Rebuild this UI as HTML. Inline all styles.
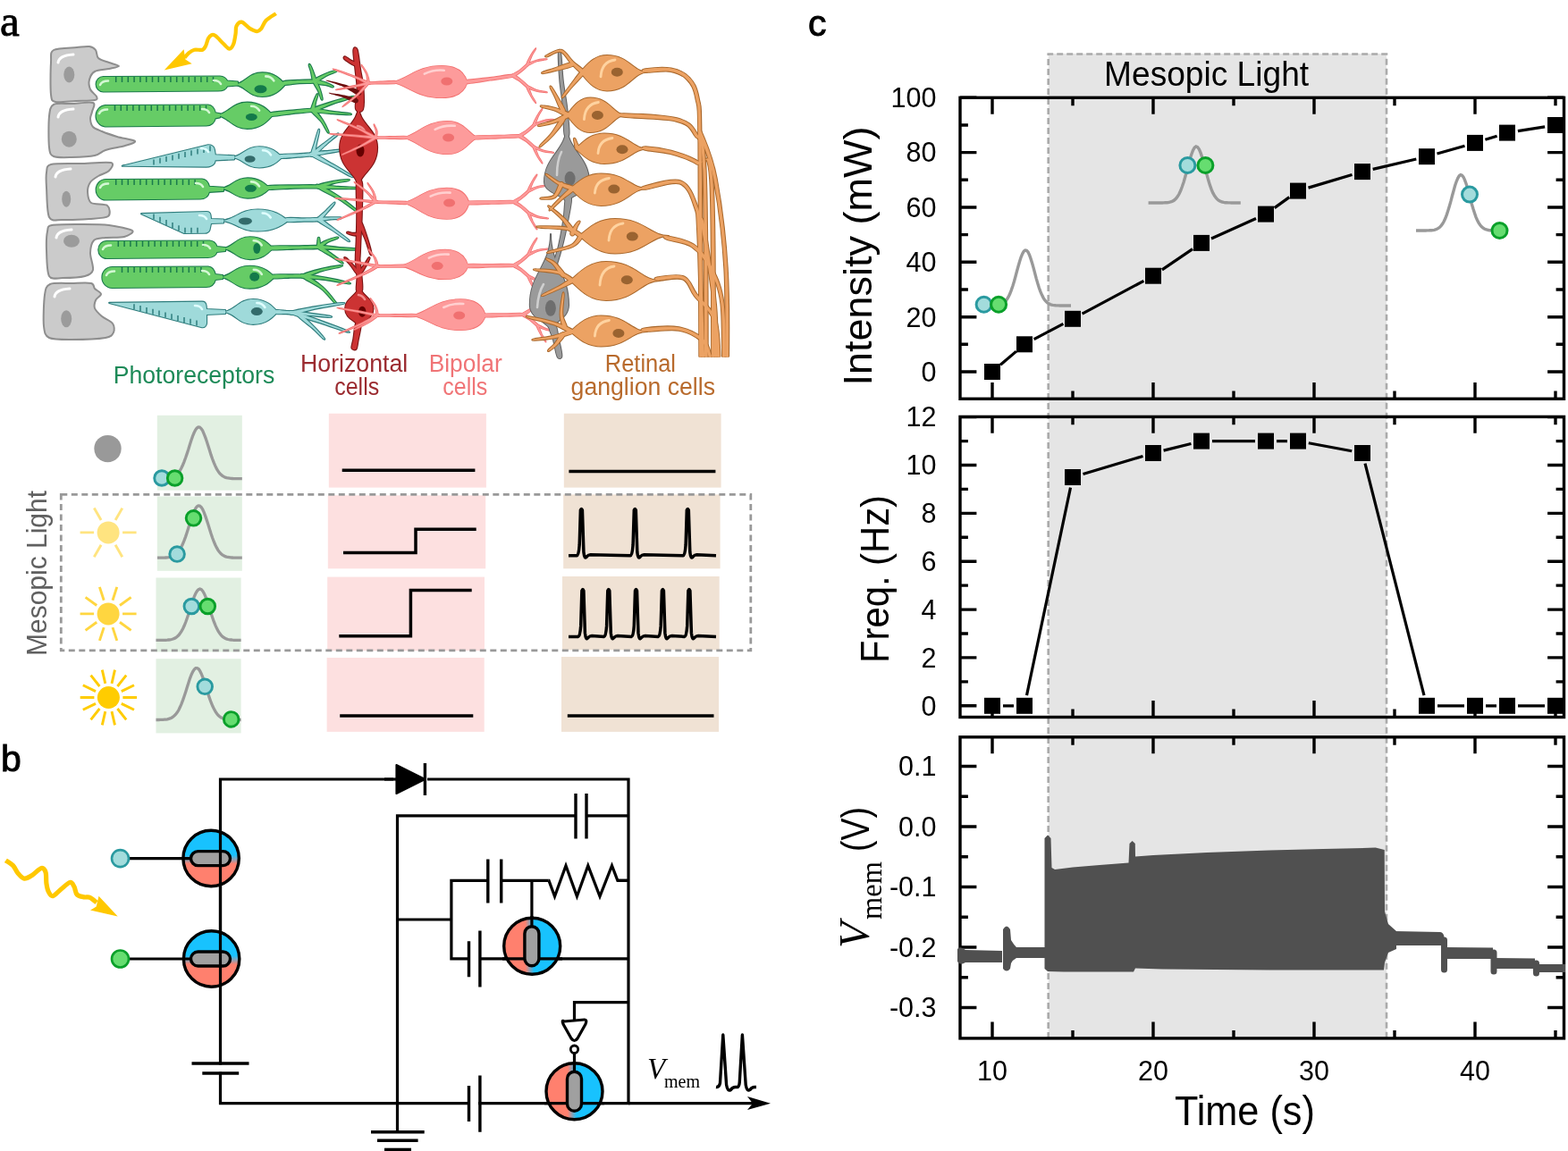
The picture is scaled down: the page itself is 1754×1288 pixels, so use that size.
<!DOCTYPE html>
<html><head><meta charset="utf-8"><title>Figure</title>
<style>html,body{margin:0;padding:0;background:#fff;}svg{display:block;}</style></head>
<body><svg width="1754" height="1288" viewBox="0 0 1754 1288">
<rect width="1754" height="1288" fill="#fff"/>
<path d="M60.0 56.0 C64.3 53.5 80.0 53.6 86.0 53.0 C92.0 52.4 96.8 51.5 100.0 52.0 C103.2 52.5 105.5 54.0 107.0 56.0 C108.5 58.0 107.8 62.9 110.0 65.0 C112.2 67.1 118.5 68.7 122.0 70.0 C125.5 71.3 133.0 73.0 133.0 74.0 C133.0 75.0 126.0 76.1 122.0 77.0 C118.0 77.9 109.3 78.2 106.0 80.0 C102.7 81.8 100.8 86.0 100.0 89.0 C99.2 92.0 99.8 97.2 101.0 100.0 C102.2 102.8 107.2 106.2 108.0 108.0 C108.8 109.8 109.5 111.2 106.0 112.0 C102.5 112.8 91.6 112.7 85.0 113.0 C78.4 113.3 66.2 115.0 62.0 114.0 C57.8 113.0 57.8 112.6 57.0 106.0 C56.2 99.4 56.5 77.5 57.0 70.0 C57.5 62.5 55.6 58.5 60.0 56.0 Z" fill="#cbcbcb" stroke="#8e8e8e" stroke-width="2"/>
<ellipse cx="77.3" cy="83.5" rx="6" ry="9" fill="#9b9b9b"/>
<path d="M65 70 Q66 62 82 61" stroke="#fff" stroke-width="3" fill="none" stroke-linecap="round"/>
<path d="M60.0 117.0 C63.8 114.9 73.4 116.3 80.0 116.0 C86.6 115.7 100.5 113.7 104.0 115.0 C107.5 116.3 103.5 122.3 103.0 125.0 C102.5 127.7 100.8 130.4 101.0 133.0 C101.2 135.6 102.0 139.9 104.0 142.0 C106.0 144.1 110.0 145.3 114.0 147.0 C118.0 148.7 125.5 151.3 131.0 153.0 C136.6 154.7 149.7 156.5 151.0 158.0 C152.3 159.5 144.9 161.5 140.0 163.0 C135.1 164.5 123.1 166.3 118.0 168.0 C112.9 169.7 111.7 172.8 106.0 174.0 C100.3 175.2 86.9 175.8 80.0 176.0 C73.1 176.2 63.8 176.7 60.0 175.0 C56.2 173.3 55.8 171.8 55.0 165.0 C54.2 158.2 54.2 137.2 55.0 130.0 C55.8 122.8 56.2 119.1 60.0 117.0 Z" fill="#cbcbcb" stroke="#8e8e8e" stroke-width="2"/>
<ellipse cx="77.3" cy="155.7" rx="8.5" ry="9" fill="#9b9b9b"/>
<path d="M65 131 Q66 123 82 122" stroke="#fff" stroke-width="3" fill="none" stroke-linecap="round"/>
<path d="M57.0 184.0 C62.7 182.5 80.0 183.3 90.0 183.0 C100.0 182.7 119.2 180.8 124.0 182.0 C128.8 183.2 124.1 188.8 122.0 191.0 C119.9 193.2 113.2 195.1 110.0 197.0 C106.8 198.9 102.8 201.3 101.0 204.0 C99.2 206.7 97.8 211.6 98.0 215.0 C98.2 218.4 98.7 224.8 102.0 227.0 C105.3 229.2 117.2 227.8 120.0 230.0 C122.8 232.2 124.0 239.8 121.0 242.0 C118.0 244.2 107.7 244.4 100.0 245.0 C92.3 245.6 76.8 246.3 70.0 246.0 C63.2 245.7 57.7 248.4 55.0 243.0 C52.3 237.6 52.5 217.5 52.0 210.0 C51.5 202.5 51.2 196.9 52.0 193.0 C52.8 189.1 51.3 185.5 57.0 184.0 Z" fill="#cbcbcb" stroke="#8e8e8e" stroke-width="2"/>
<ellipse cx="74.2" cy="222.7" rx="5" ry="9" fill="#9b9b9b"/>
<path d="M62 198 Q63 190 79 189" stroke="#fff" stroke-width="3" fill="none" stroke-linecap="round"/>
<path d="M58.0 252.0 C63.5 250.8 80.4 251.0 90.0 251.0 C99.6 251.0 113.3 250.9 122.0 252.0 C130.7 253.1 145.4 256.1 148.0 258.0 C150.6 259.9 143.5 263.8 139.0 265.0 C134.5 266.2 123.1 265.4 118.0 266.0 C112.9 266.6 107.5 266.4 105.0 269.0 C102.5 271.6 101.2 278.1 101.0 283.0 C100.8 287.9 104.9 298.1 104.0 302.0 C103.1 305.9 100.1 307.6 95.0 309.0 C89.9 310.4 76.0 311.0 70.0 311.0 C64.0 311.0 57.7 313.6 55.0 309.0 C52.3 304.4 52.3 287.5 52.0 280.0 C51.7 272.5 52.1 263.2 53.0 259.0 C53.9 254.8 52.5 253.2 58.0 252.0 Z" fill="#cbcbcb" stroke="#8e8e8e" stroke-width="2"/>
<ellipse cx="80" cy="269.7" rx="9" ry="7" fill="#9b9b9b"/>
<path d="M63 266 Q64 258 80 257" stroke="#fff" stroke-width="3" fill="none" stroke-linecap="round"/>
<path d="M56.0 318.0 C60.5 316.1 73.1 317.1 80.0 317.0 C86.9 316.9 98.1 316.1 102.0 317.0 C105.9 317.9 104.3 321.2 106.0 323.0 C107.7 324.8 112.8 327.1 113.0 329.0 C113.2 330.9 108.0 333.6 107.0 336.0 C106.0 338.4 105.0 342.3 106.0 345.0 C107.0 347.7 111.0 351.4 114.0 354.0 C117.0 356.6 124.0 359.3 126.0 362.0 C128.0 364.7 128.2 369.6 127.0 372.0 C125.8 374.4 125.0 376.8 118.0 378.0 C111.0 379.2 89.5 380.0 80.0 380.0 C70.5 380.0 59.6 380.2 55.0 378.0 C50.4 375.8 49.8 372.2 49.0 365.0 C48.2 357.8 49.0 337.1 50.0 330.0 C51.0 322.9 51.5 319.9 56.0 318.0 Z" fill="#cbcbcb" stroke="#8e8e8e" stroke-width="2"/>
<ellipse cx="74.2" cy="356.8" rx="6" ry="9.5" fill="#9b9b9b"/>
<path d="M61 332 Q62 324 78 323" stroke="#fff" stroke-width="3" fill="none" stroke-linecap="round"/>
<g fill="#1a7a4c" stroke="#1a7a4c" stroke-width="2.2" stroke-linejoin="round"><path d="M115.5 86.0 L246.0 85.5 Q252.0 86.0 254.0 90.5 L266.0 91.5 L266.0 95.5 L254.0 96.5 Q252.0 101.5 244.0 101.5 L115.5 102.5 A7.8 8.2 0 0 1 115.5 86.0 Z"/><path d="M262.0 94.6 C274.7 93.4 277.7 81.4 293.4 81.4 C307.5 81.4 314.1 89.3 319.0 94.6 C314.1 100.0 307.5 107.9 293.4 107.9 C277.7 107.9 274.7 95.8 262.0 94.6 Z"/><path d="M318.2 94.9 C321.0 95.2 329.3 93.6 335.1 93.1 C340.9 92.7 350.1 93.0 353.0 92.4 C356.0 91.8 356.0 90.0 353.0 89.6 C349.9 89.2 340.8 89.6 334.9 89.9 C329.1 90.1 320.6 90.3 317.8 91.1 C315.0 91.9 315.3 94.6 318.2 94.9 Z"/><path d="M353.6 90.6 C353.6 88.6 351.2 82.7 350.1 79.7 C349.0 76.7 347.6 73.7 346.9 72.6 C346.1 71.5 345.6 71.7 345.7 73.0 C345.9 74.3 347.1 77.3 347.9 80.3 C348.7 83.4 349.4 89.7 350.4 91.4 C351.3 93.1 353.7 92.5 353.6 90.6 Z"/><path d="M352.9 92.5 C355.1 91.7 360.7 87.1 364.5 85.0 C368.3 83.0 373.8 81.2 375.6 80.3 C377.4 79.3 377.2 78.7 375.2 79.1 C373.2 79.6 367.5 81.2 363.5 83.0 C359.5 84.7 352.9 87.9 351.1 89.5 C349.4 91.1 350.6 93.2 352.9 92.5 Z"/><path d="M350.5 91.8 C350.9 93.6 354.4 98.3 355.9 101.4 C357.4 104.6 358.7 109.2 359.4 110.7 C360.2 112.2 360.8 112.0 360.6 110.3 C360.3 108.6 359.2 103.9 358.1 100.6 C356.9 97.2 354.8 91.7 353.5 90.2 C352.3 88.8 350.1 89.9 350.5 91.8 Z"/><path d="M355.6 93.7 C357.0 94.5 362.0 94.5 364.7 95.1 C367.4 95.7 370.5 97.2 371.8 97.4 C373.0 97.5 373.3 97.0 372.2 96.2 C371.1 95.5 368.0 93.9 365.3 92.9 C362.7 91.9 358.0 90.2 356.4 90.3 C354.8 90.5 354.2 92.9 355.6 93.7 Z"/></g><g fill="#66cc66"><path d="M115.5 86.0 L246.0 85.5 Q252.0 86.0 254.0 90.5 L266.0 91.5 L266.0 95.5 L254.0 96.5 Q252.0 101.5 244.0 101.5 L115.5 102.5 A7.8 8.2 0 0 1 115.5 86.0 Z"/><path d="M262.0 94.6 C274.7 93.4 277.7 81.4 293.4 81.4 C307.5 81.4 314.1 89.3 319.0 94.6 C314.1 100.0 307.5 107.9 293.4 107.9 C277.7 107.9 274.7 95.8 262.0 94.6 Z"/><path d="M318.2 94.9 C321.0 95.2 329.3 93.6 335.1 93.1 C340.9 92.7 350.1 93.0 353.0 92.4 C356.0 91.8 356.0 90.0 353.0 89.6 C349.9 89.2 340.8 89.6 334.9 89.9 C329.1 90.1 320.6 90.3 317.8 91.1 C315.0 91.9 315.3 94.6 318.2 94.9 Z"/><path d="M353.6 90.6 C353.6 88.6 351.2 82.7 350.1 79.7 C349.0 76.7 347.6 73.7 346.9 72.6 C346.1 71.5 345.6 71.7 345.7 73.0 C345.9 74.3 347.1 77.3 347.9 80.3 C348.7 83.4 349.4 89.7 350.4 91.4 C351.3 93.1 353.7 92.5 353.6 90.6 Z"/><path d="M352.9 92.5 C355.1 91.7 360.7 87.1 364.5 85.0 C368.3 83.0 373.8 81.2 375.6 80.3 C377.4 79.3 377.2 78.7 375.2 79.1 C373.2 79.6 367.5 81.2 363.5 83.0 C359.5 84.7 352.9 87.9 351.1 89.5 C349.4 91.1 350.6 93.2 352.9 92.5 Z"/><path d="M350.5 91.8 C350.9 93.6 354.4 98.3 355.9 101.4 C357.4 104.6 358.7 109.2 359.4 110.7 C360.2 112.2 360.8 112.0 360.6 110.3 C360.3 108.6 359.2 103.9 358.1 100.6 C356.9 97.2 354.8 91.7 353.5 90.2 C352.3 88.8 350.1 89.9 350.5 91.8 Z"/><path d="M355.6 93.7 C357.0 94.5 362.0 94.5 364.7 95.1 C367.4 95.7 370.5 97.2 371.8 97.4 C373.0 97.5 373.3 97.0 372.2 96.2 C371.1 95.5 368.0 93.9 365.3 92.9 C362.7 91.9 358.0 90.2 356.4 90.3 C354.8 90.5 354.2 92.9 355.6 93.7 Z"/></g><path d="M129.7 86.0 v6 M136.5 86.0 v6 M143.3 86.0 v6 M150.1 86.0 v6 M156.9 86.0 v6 M163.7 86.0 v6 M170.5 86.0 v6 M177.3 86.0 v6 M184.1 86.0 v6 M190.9 86.0 v6 M197.7 86.0 v6 M204.5 86.0 v6 M211.3 86.0 v6 M218.1 86.0 v6 M224.9 86.0 v6 M231.7 86.0 v6 M238.5 86.0 v6" stroke="#1a7a4c" stroke-width="1.5"/><ellipse cx="291.5" cy="99.7" rx="7" ry="4.5" fill="#137a4a"/><path d="M112.0 95.0 q2 -4.5 9 -4.5 M239.0 90.0 q6 0 8 4" stroke="#d4f8d4" stroke-width="2.6" fill="none" stroke-linecap="round"/><path d="M297.3 85.4 q6 0 9 5" stroke="#d4f8d4" stroke-width="2.6" fill="none" stroke-linecap="round"/>
<g fill="#1a7a4c" stroke="#1a7a4c" stroke-width="2.2" stroke-linejoin="round"><path d="M117.7 118.1 L232.8 117.6 Q238.8 118.1 240.8 126.3 L246.0 127.3 L246.0 131.3 L240.8 132.3 Q238.8 140.4 230.8 140.4 L117.7 141.4 A11.2 11.7 0 0 1 117.7 118.1 Z"/><path d="M242.0 129.0 C256.0 127.7 259.3 114.7 276.6 114.7 C292.2 114.7 299.5 123.2 305.0 129.0 C299.5 135.0 292.2 143.8 276.6 143.8 C259.3 143.8 256.0 130.3 242.0 129.0 Z"/><path d="M304.2 129.9 C308.6 130.0 322.6 127.5 330.2 126.6 C337.8 125.8 346.6 125.5 349.8 124.7 C353.1 123.9 352.9 122.1 349.6 121.9 C346.2 121.7 337.5 122.7 329.8 123.4 C322.2 124.1 308.1 125.0 303.8 126.1 C299.5 127.2 299.8 129.8 304.2 129.9 Z"/><path d="M351.4 123.7 C352.2 122.3 352.4 117.2 353.1 114.3 C353.8 111.4 355.2 107.8 355.4 106.4 C355.6 105.0 355.0 104.8 354.2 106.0 C353.5 107.2 351.9 110.9 350.9 113.7 C349.9 116.5 348.0 121.2 348.0 122.9 C348.1 124.6 350.5 125.1 351.4 123.7 Z"/><path d="M350.3 124.9 C354.2 124.0 365.0 118.7 372.4 116.1 C379.7 113.5 390.6 110.6 394.2 109.3 C397.7 107.9 397.6 107.4 393.8 108.1 C390.1 108.9 379.1 111.6 371.6 113.9 C364.2 116.2 352.7 119.9 349.1 121.7 C345.5 123.5 346.4 125.8 350.3 124.9 Z"/><path d="M348.4 124.4 C349.8 126.7 356.1 131.8 359.1 135.7 C362.0 139.5 364.9 145.6 366.3 147.5 C367.7 149.4 368.2 149.1 367.3 146.9 C366.4 144.7 363.7 138.5 360.9 134.3 C358.2 130.2 353.1 123.8 351.0 122.2 C348.9 120.5 347.1 122.2 348.4 124.4 Z"/><path d="M349.5 125.0 C353.2 125.9 365.0 126.6 371.9 127.1 C378.7 127.7 387.5 128.2 390.6 128.2 C393.8 128.2 393.8 127.6 390.8 127.0 C387.7 126.4 378.9 125.8 372.1 124.9 C365.3 124.0 353.7 121.6 349.9 121.6 C346.1 121.6 345.8 124.1 349.5 125.0 Z"/></g><g fill="#66cc66"><path d="M117.7 118.1 L232.8 117.6 Q238.8 118.1 240.8 126.3 L246.0 127.3 L246.0 131.3 L240.8 132.3 Q238.8 140.4 230.8 140.4 L117.7 141.4 A11.2 11.7 0 0 1 117.7 118.1 Z"/><path d="M242.0 129.0 C256.0 127.7 259.3 114.7 276.6 114.7 C292.2 114.7 299.5 123.2 305.0 129.0 C299.5 135.0 292.2 143.8 276.6 143.8 C259.3 143.8 256.0 130.3 242.0 129.0 Z"/><path d="M304.2 129.9 C308.6 130.0 322.6 127.5 330.2 126.6 C337.8 125.8 346.6 125.5 349.8 124.7 C353.1 123.9 352.9 122.1 349.6 121.9 C346.2 121.7 337.5 122.7 329.8 123.4 C322.2 124.1 308.1 125.0 303.8 126.1 C299.5 127.2 299.8 129.8 304.2 129.9 Z"/><path d="M351.4 123.7 C352.2 122.3 352.4 117.2 353.1 114.3 C353.8 111.4 355.2 107.8 355.4 106.4 C355.6 105.0 355.0 104.8 354.2 106.0 C353.5 107.2 351.9 110.9 350.9 113.7 C349.9 116.5 348.0 121.2 348.0 122.9 C348.1 124.6 350.5 125.1 351.4 123.7 Z"/><path d="M350.3 124.9 C354.2 124.0 365.0 118.7 372.4 116.1 C379.7 113.5 390.6 110.6 394.2 109.3 C397.7 107.9 397.6 107.4 393.8 108.1 C390.1 108.9 379.1 111.6 371.6 113.9 C364.2 116.2 352.7 119.9 349.1 121.7 C345.5 123.5 346.4 125.8 350.3 124.9 Z"/><path d="M348.4 124.4 C349.8 126.7 356.1 131.8 359.1 135.7 C362.0 139.5 364.9 145.6 366.3 147.5 C367.7 149.4 368.2 149.1 367.3 146.9 C366.4 144.7 363.7 138.5 360.9 134.3 C358.2 130.2 353.1 123.8 351.0 122.2 C348.9 120.5 347.1 122.2 348.4 124.4 Z"/><path d="M349.5 125.0 C353.2 125.9 365.0 126.6 371.9 127.1 C378.7 127.7 387.5 128.2 390.6 128.2 C393.8 128.2 393.8 127.6 390.8 127.0 C387.7 126.4 378.9 125.8 372.1 124.9 C365.3 124.0 353.7 121.6 349.9 121.6 C346.1 121.6 345.8 124.1 349.5 125.0 Z"/></g><path d="M128.5 118.1 v6 M135.3 118.1 v6 M142.1 118.1 v6 M148.9 118.1 v6 M155.7 118.1 v6 M162.5 118.1 v6 M169.3 118.1 v6 M176.1 118.1 v6 M182.9 118.1 v6 M189.7 118.1 v6 M196.5 118.1 v6 M203.3 118.1 v6 M210.1 118.1 v6 M216.9 118.1 v6 M223.7 118.1 v6 M230.5 118.1 v6" stroke="#1a7a4c" stroke-width="1.5"/><ellipse cx="281.3" cy="131" rx="6.5" ry="4" fill="#137a4a"/><path d="M111.0 127.0 q2 -4.5 9 -4.5 M226.0 122.0 q6 0 8 4" stroke="#d4f8d4" stroke-width="2.6" fill="none" stroke-linecap="round"/><path d="M281.1 118.7 q6 0 9 5" stroke="#d4f8d4" stroke-width="2.6" fill="none" stroke-linecap="round"/>
<g fill="#2f7d7d" stroke="#2f7d7d" stroke-width="2.2" stroke-linejoin="round"><path d="M136.8 185.7 L232.8 162.3 Q238.8 162.3 239.8 167.3 L240.8 173.3 L262.0 174.3 L262.0 178.3 L240.8 179.3 L239.8 182.6 Q236.8 186.6 230.8 186.6 Z"/><path d="M259.0 176.0 C271.6 174.9 274.5 164.3 290.1 164.3 C304.1 164.3 310.6 171.3 315.5 176.0 C310.6 180.6 304.1 187.4 290.1 187.4 C274.5 187.4 271.6 177.0 259.0 176.0 Z"/><path d="M314.1 176.9 C317.3 177.3 327.1 176.1 333.1 175.6 C339.0 175.2 347.0 175.0 349.8 174.3 C352.5 173.6 352.4 171.8 349.6 171.5 C346.8 171.2 338.9 172.1 332.9 172.4 C327.0 172.6 317.0 172.3 313.9 173.1 C310.8 173.9 310.9 176.5 314.1 176.9 Z"/><path d="M351.3 173.3 C352.4 171.3 353.2 164.7 354.1 160.3 C355.1 155.8 356.8 148.9 357.1 146.5 C357.4 144.2 356.8 144.1 355.9 146.3 C355.1 148.4 353.2 155.3 351.9 159.7 C350.6 164.1 348.1 170.2 348.1 172.5 C348.0 174.7 350.3 175.4 351.3 173.3 Z"/><path d="M350.8 174.2 C353.6 172.4 361.3 164.7 365.7 160.9 C370.2 157.0 375.6 152.9 377.4 151.1 C379.2 149.3 378.8 148.8 376.6 150.1 C374.4 151.5 368.9 155.5 364.3 159.1 C359.6 162.7 350.9 169.1 348.6 171.6 C346.4 174.1 347.9 176.0 350.8 174.2 Z"/><path d="M348.9 174.4 C352.4 176.8 364.2 182.2 371.4 186.0 C378.7 189.8 388.6 195.6 392.2 197.3 C395.8 199.0 396.1 198.5 392.8 196.3 C389.5 194.1 379.6 188.1 372.6 184.0 C365.5 179.9 354.5 173.0 350.5 171.4 C346.6 169.8 345.4 172.0 348.9 174.4 Z"/><path d="M353.2 173.7 C355.8 173.8 363.3 172.0 368.2 171.1 C373.0 170.3 379.8 169.2 382.1 168.6 C384.4 168.0 384.3 167.4 381.9 167.4 C379.5 167.5 372.7 168.4 367.8 168.9 C363.0 169.3 355.2 169.5 352.8 170.3 C350.3 171.1 350.7 173.5 353.2 173.7 Z"/></g><g fill="#9fdada"><path d="M136.8 185.7 L232.8 162.3 Q238.8 162.3 239.8 167.3 L240.8 173.3 L262.0 174.3 L262.0 178.3 L240.8 179.3 L239.8 182.6 Q236.8 186.6 230.8 186.6 Z"/><path d="M259.0 176.0 C271.6 174.9 274.5 164.3 290.1 164.3 C304.1 164.3 310.6 171.3 315.5 176.0 C310.6 180.6 304.1 187.4 290.1 187.4 C274.5 187.4 271.6 177.0 259.0 176.0 Z"/><path d="M314.1 176.9 C317.3 177.3 327.1 176.1 333.1 175.6 C339.0 175.2 347.0 175.0 349.8 174.3 C352.5 173.6 352.4 171.8 349.6 171.5 C346.8 171.2 338.9 172.1 332.9 172.4 C327.0 172.6 317.0 172.3 313.9 173.1 C310.8 173.9 310.9 176.5 314.1 176.9 Z"/><path d="M351.3 173.3 C352.4 171.3 353.2 164.7 354.1 160.3 C355.1 155.8 356.8 148.9 357.1 146.5 C357.4 144.2 356.8 144.1 355.9 146.3 C355.1 148.4 353.2 155.3 351.9 159.7 C350.6 164.1 348.1 170.2 348.1 172.5 C348.0 174.7 350.3 175.4 351.3 173.3 Z"/><path d="M350.8 174.2 C353.6 172.4 361.3 164.7 365.7 160.9 C370.2 157.0 375.6 152.9 377.4 151.1 C379.2 149.3 378.8 148.8 376.6 150.1 C374.4 151.5 368.9 155.5 364.3 159.1 C359.6 162.7 350.9 169.1 348.6 171.6 C346.4 174.1 347.9 176.0 350.8 174.2 Z"/><path d="M348.9 174.4 C352.4 176.8 364.2 182.2 371.4 186.0 C378.7 189.8 388.6 195.6 392.2 197.3 C395.8 199.0 396.1 198.5 392.8 196.3 C389.5 194.1 379.6 188.1 372.6 184.0 C365.5 179.9 354.5 173.0 350.5 171.4 C346.6 169.8 345.4 172.0 348.9 174.4 Z"/><path d="M353.2 173.7 C355.8 173.8 363.3 172.0 368.2 171.1 C373.0 170.3 379.8 169.2 382.1 168.6 C384.4 168.0 384.3 167.4 381.9 167.4 C379.5 167.5 372.7 168.4 367.8 168.9 C363.0 169.3 355.2 169.5 352.8 170.3 C350.3 171.1 350.7 173.5 353.2 173.7 Z"/></g><path d="M172.0 178.5 v6 M179.0 176.8 v6 M186.0 175.1 v6 M193.0 173.4 v6 M200.0 171.7 v6 M207.0 170.0 v6 M214.0 168.3 v6 M221.0 166.6 v6 M228.0 164.9 v6 M235.0 163.2 v6" stroke="#2f7d7d" stroke-width="1.5"/><ellipse cx="279.6" cy="178" rx="6" ry="3.8" fill="#336b6b"/><path d="M225.0 166.0 q6 0 8 4" stroke="#e0ffff" stroke-width="2.6" fill="none" stroke-linecap="round"/><path d="M294.0 168.3 q6 0 9 5" stroke="#e0ffff" stroke-width="2.6" fill="none" stroke-linecap="round"/>
<g fill="#1a7a4c" stroke="#1a7a4c" stroke-width="2.2" stroke-linejoin="round"><path d="M118.4 201.1 L226.0 200.6 Q232.0 201.1 234.0 208.8 L250.0 209.8 L250.0 213.8 L234.0 214.8 Q232.0 222.5 224.0 222.5 L118.4 223.5 A10.7 11.2 0 0 1 118.4 201.1 Z"/><path d="M247.0 210.8 C259.2 209.8 262.1 199.4 277.1 199.4 C290.7 199.4 297.1 206.2 301.8 210.8 C297.1 215.2 290.7 221.6 277.1 221.6 C262.1 221.6 259.2 211.8 247.0 210.8 Z"/><path d="M300.1 211.9 C305.1 212.3 320.6 210.9 330.0 210.6 C339.4 210.4 352.1 210.7 356.5 210.2 C360.9 209.7 360.9 207.9 356.5 207.4 C352.1 206.9 339.4 207.2 330.0 207.4 C320.5 207.5 304.9 207.3 299.9 208.1 C295.0 208.9 295.0 211.5 300.1 211.9 Z"/><path d="M357.0 210.4 C359.8 210.1 367.9 206.5 373.2 205.1 C378.6 203.7 386.5 202.9 389.1 202.2 C391.7 201.5 391.6 200.9 388.9 201.0 C386.2 201.1 378.2 201.9 372.8 202.9 C367.3 203.9 358.7 205.9 356.0 207.2 C353.4 208.4 354.1 210.8 357.0 210.4 Z"/><path d="M355.7 210.3 C359.3 212.9 372.2 218.6 379.4 223.0 C386.6 227.4 395.6 234.6 398.9 236.7 C402.3 238.8 402.7 238.3 399.7 235.7 C396.6 233.1 387.7 225.8 380.6 221.0 C373.6 216.3 361.5 209.1 357.3 207.3 C353.2 205.5 352.0 207.7 355.7 210.3 Z"/><path d="M356.4 210.5 C360.0 211.2 371.1 211.0 378.0 211.1 C384.8 211.2 394.3 211.3 397.6 211.1 C400.9 210.9 400.9 210.3 397.6 209.9 C394.4 209.5 384.9 209.3 378.0 208.9 C371.2 208.4 360.2 206.8 356.6 207.1 C353.0 207.4 352.8 209.8 356.4 210.5 Z"/></g><g fill="#66cc66"><path d="M118.4 201.1 L226.0 200.6 Q232.0 201.1 234.0 208.8 L250.0 209.8 L250.0 213.8 L234.0 214.8 Q232.0 222.5 224.0 222.5 L118.4 223.5 A10.7 11.2 0 0 1 118.4 201.1 Z"/><path d="M247.0 210.8 C259.2 209.8 262.1 199.4 277.1 199.4 C290.7 199.4 297.1 206.2 301.8 210.8 C297.1 215.2 290.7 221.6 277.1 221.6 C262.1 221.6 259.2 211.8 247.0 210.8 Z"/><path d="M300.1 211.9 C305.1 212.3 320.6 210.9 330.0 210.6 C339.4 210.4 352.1 210.7 356.5 210.2 C360.9 209.7 360.9 207.9 356.5 207.4 C352.1 206.9 339.4 207.2 330.0 207.4 C320.5 207.5 304.9 207.3 299.9 208.1 C295.0 208.9 295.0 211.5 300.1 211.9 Z"/><path d="M357.0 210.4 C359.8 210.1 367.9 206.5 373.2 205.1 C378.6 203.7 386.5 202.9 389.1 202.2 C391.7 201.5 391.6 200.9 388.9 201.0 C386.2 201.1 378.2 201.9 372.8 202.9 C367.3 203.9 358.7 205.9 356.0 207.2 C353.4 208.4 354.1 210.8 357.0 210.4 Z"/><path d="M355.7 210.3 C359.3 212.9 372.2 218.6 379.4 223.0 C386.6 227.4 395.6 234.6 398.9 236.7 C402.3 238.8 402.7 238.3 399.7 235.7 C396.6 233.1 387.7 225.8 380.6 221.0 C373.6 216.3 361.5 209.1 357.3 207.3 C353.2 205.5 352.0 207.7 355.7 210.3 Z"/><path d="M356.4 210.5 C360.0 211.2 371.1 211.0 378.0 211.1 C384.8 211.2 394.3 211.3 397.6 211.1 C400.9 210.9 400.9 210.3 397.6 209.9 C394.4 209.5 384.9 209.3 378.0 208.9 C371.2 208.4 360.2 206.8 356.6 207.1 C353.0 207.4 352.8 209.8 356.4 210.5 Z"/></g><path d="M129.7 201.1 v6 M136.5 201.1 v6 M143.3 201.1 v6 M150.1 201.1 v6 M156.9 201.1 v6 M163.7 201.1 v6 M170.5 201.1 v6 M177.3 201.1 v6 M184.1 201.1 v6 M190.9 201.1 v6 M197.7 201.1 v6 M204.5 201.1 v6 M211.3 201.1 v6 M218.1 201.1 v6" stroke="#1a7a4c" stroke-width="1.5"/><ellipse cx="280.4" cy="210.8" rx="6.5" ry="4" fill="#137a4a"/><path d="M112.0 210.0 q2 -4.5 9 -4.5 M219.0 205.0 q6 0 8 4" stroke="#d4f8d4" stroke-width="2.6" fill="none" stroke-linecap="round"/><path d="M281.0 203.4 q6 0 9 5" stroke="#d4f8d4" stroke-width="2.6" fill="none" stroke-linecap="round"/>
<g fill="#2f7d7d" stroke="#2f7d7d" stroke-width="2.2" stroke-linejoin="round"><path d="M158.1 239.2 L231 237.1 Q235 237 235.5 241 L236 245 L250 245.5 L250 249.5 L236 250 L234.5 257 Q233 261 228 260.7 L206 261 Z"/><path d="M247.0 247.0 C263.8 245.9 267.7 234.5 288.4 234.5 C307.1 234.5 315.8 241.9 322.3 247.0 C315.8 251.7 307.1 258.5 288.4 258.5 C267.7 258.5 263.8 248.0 247.0 247.0 Z"/><path d="M321.0 247.9 C324.2 248.5 334.1 247.8 340.0 247.6 C345.9 247.5 353.8 247.7 356.5 247.1 C359.3 246.5 359.2 244.8 356.5 244.3 C353.7 243.8 345.9 244.4 340.0 244.4 C334.1 244.3 324.2 243.5 321.0 244.1 C317.8 244.7 317.8 247.3 321.0 247.9 Z"/><path d="M357.7 246.9 C359.6 245.6 364.1 239.9 366.8 236.8 C369.6 233.7 373.0 229.7 374.0 228.1 C375.1 226.5 374.6 226.1 373.2 227.3 C371.7 228.5 368.1 232.3 365.2 235.2 C362.2 238.1 356.5 242.6 355.3 244.5 C354.0 246.5 355.8 248.2 357.7 246.9 Z"/><path d="M356.7 247.4 C358.6 247.7 364.1 246.1 368.1 245.6 C372.1 245.2 378.5 245.0 380.5 244.6 C382.6 244.2 382.6 243.6 380.5 243.4 C378.4 243.2 371.9 243.3 367.9 243.4 C363.9 243.5 358.2 243.3 356.3 244.0 C354.4 244.7 354.7 247.1 356.7 247.4 Z"/><path d="M355.5 247.1 C358.0 249.4 366.8 254.3 372.3 257.9 C377.9 261.6 385.8 267.5 388.6 269.2 C391.5 270.9 391.9 270.4 389.4 268.2 C386.9 266.0 379.0 260.0 373.7 256.1 C368.3 252.1 360.5 245.8 357.5 244.3 C354.4 242.8 353.1 244.8 355.5 247.1 Z"/></g><g fill="#9fdada"><path d="M158.1 239.2 L231 237.1 Q235 237 235.5 241 L236 245 L250 245.5 L250 249.5 L236 250 L234.5 257 Q233 261 228 260.7 L206 261 Z"/><path d="M247.0 247.0 C263.8 245.9 267.7 234.5 288.4 234.5 C307.1 234.5 315.8 241.9 322.3 247.0 C315.8 251.7 307.1 258.5 288.4 258.5 C267.7 258.5 263.8 248.0 247.0 247.0 Z"/><path d="M321.0 247.9 C324.2 248.5 334.1 247.8 340.0 247.6 C345.9 247.5 353.8 247.7 356.5 247.1 C359.3 246.5 359.2 244.8 356.5 244.3 C353.7 243.8 345.9 244.4 340.0 244.4 C334.1 244.3 324.2 243.5 321.0 244.1 C317.8 244.7 317.8 247.3 321.0 247.9 Z"/><path d="M357.7 246.9 C359.6 245.6 364.1 239.9 366.8 236.8 C369.6 233.7 373.0 229.7 374.0 228.1 C375.1 226.5 374.6 226.1 373.2 227.3 C371.7 228.5 368.1 232.3 365.2 235.2 C362.2 238.1 356.5 242.6 355.3 244.5 C354.0 246.5 355.8 248.2 357.7 246.9 Z"/><path d="M356.7 247.4 C358.6 247.7 364.1 246.1 368.1 245.6 C372.1 245.2 378.5 245.0 380.5 244.6 C382.6 244.2 382.6 243.6 380.5 243.4 C378.4 243.2 371.9 243.3 367.9 243.4 C363.9 243.5 358.2 243.3 356.3 244.0 C354.4 244.7 354.7 247.1 356.7 247.4 Z"/><path d="M355.5 247.1 C358.0 249.4 366.8 254.3 372.3 257.9 C377.9 261.6 385.8 267.5 388.6 269.2 C391.5 270.9 391.9 270.4 389.4 268.2 C386.9 266.0 379.0 260.0 373.7 256.1 C368.3 252.1 360.5 245.8 357.5 244.3 C354.4 242.8 353.1 244.8 355.5 247.1 Z"/></g><path d="M172.0 239.5 v6 M179.0 242.7 v6 M186.0 245.9 v6 M193.0 249.1 v6 M200.0 252.3 v6 M207.0 254.8 v6 M214.0 254.8 v6 M221.0 254.8 v6" stroke="#2f7d7d" stroke-width="1.5"/><ellipse cx="274.4" cy="247.4" rx="7.5" ry="4" fill="#336b6b"/><path d="M223.0 241.0 q6 0 8 4" stroke="#e0ffff" stroke-width="2.6" fill="none" stroke-linecap="round"/><path d="M293.7 238.5 q6 0 9 5" stroke="#e0ffff" stroke-width="2.6" fill="none" stroke-linecap="round"/>
<g fill="#1a7a4c" stroke="#1a7a4c" stroke-width="2.2" stroke-linejoin="round"><path d="M119.3 270.0 L234.5 269.5 Q240.5 270.0 242.5 276.0 L252.0 277.0 L252.0 281.0 L242.5 282.0 Q240.5 288.0 232.5 288.0 L119.3 289.0 A9.0 9.5 0 0 1 119.3 270.0 Z"/><path d="M249.0 278.0 C261.5 276.9 264.4 265.3 279.8 265.3 C293.7 265.3 300.1 272.9 305.0 278.0 C300.1 282.9 293.7 290.1 279.8 290.1 C264.4 290.1 261.5 279.1 249.0 278.0 Z"/><path d="M304.0 279.4 C308.4 279.9 321.3 278.9 330.0 278.6 C338.8 278.4 352.1 278.4 356.5 277.8 C360.9 277.2 360.9 275.4 356.5 275.0 C352.0 274.6 338.7 275.3 330.0 275.4 C321.2 275.5 308.3 274.9 304.0 275.6 C299.6 276.3 299.7 278.9 304.0 279.4 Z"/><path d="M358.2 276.4 C358.7 275.3 357.8 271.7 357.6 270.0 C357.5 268.3 357.4 266.8 357.1 266.2 C356.8 265.6 356.2 265.6 355.9 266.2 C355.6 266.8 355.5 268.3 355.4 270.0 C355.2 271.7 354.3 275.3 354.8 276.4 C355.3 277.5 357.7 277.5 358.2 276.4 Z"/><path d="M357.4 277.8 C359.3 277.1 363.2 272.9 366.5 271.0 C369.8 269.2 375.5 267.7 377.2 266.8 C378.9 265.9 378.8 265.3 376.8 265.6 C374.9 266.0 369.0 267.4 365.5 269.0 C361.9 270.5 356.9 273.5 355.6 275.0 C354.2 276.5 355.6 278.5 357.4 277.8 Z"/><path d="M356.4 278.1 C359.9 278.8 370.8 278.9 377.9 279.1 C385.1 279.4 395.7 279.7 399.3 279.6 C402.8 279.5 402.9 278.9 399.3 278.4 C395.8 277.9 385.2 277.5 378.1 276.9 C371.0 276.2 360.2 274.5 356.6 274.7 C353.0 274.9 352.8 277.4 356.4 278.1 Z"/><path d="M355.6 277.8 C357.6 279.7 365.0 283.3 369.4 286.0 C373.7 288.7 379.7 292.8 381.9 294.0 C384.1 295.2 384.4 294.7 382.5 293.0 C380.7 291.3 374.8 287.0 370.6 284.0 C366.4 281.0 359.9 276.0 357.4 275.0 C354.9 273.9 353.6 276.0 355.6 277.8 Z"/></g><g fill="#66cc66"><path d="M119.3 270.0 L234.5 269.5 Q240.5 270.0 242.5 276.0 L252.0 277.0 L252.0 281.0 L242.5 282.0 Q240.5 288.0 232.5 288.0 L119.3 289.0 A9.0 9.5 0 0 1 119.3 270.0 Z"/><path d="M249.0 278.0 C261.5 276.9 264.4 265.3 279.8 265.3 C293.7 265.3 300.1 272.9 305.0 278.0 C300.1 282.9 293.7 290.1 279.8 290.1 C264.4 290.1 261.5 279.1 249.0 278.0 Z"/><path d="M304.0 279.4 C308.4 279.9 321.3 278.9 330.0 278.6 C338.8 278.4 352.1 278.4 356.5 277.8 C360.9 277.2 360.9 275.4 356.5 275.0 C352.0 274.6 338.7 275.3 330.0 275.4 C321.2 275.5 308.3 274.9 304.0 275.6 C299.6 276.3 299.7 278.9 304.0 279.4 Z"/><path d="M358.2 276.4 C358.7 275.3 357.8 271.7 357.6 270.0 C357.5 268.3 357.4 266.8 357.1 266.2 C356.8 265.6 356.2 265.6 355.9 266.2 C355.6 266.8 355.5 268.3 355.4 270.0 C355.2 271.7 354.3 275.3 354.8 276.4 C355.3 277.5 357.7 277.5 358.2 276.4 Z"/><path d="M357.4 277.8 C359.3 277.1 363.2 272.9 366.5 271.0 C369.8 269.2 375.5 267.7 377.2 266.8 C378.9 265.9 378.8 265.3 376.8 265.6 C374.9 266.0 369.0 267.4 365.5 269.0 C361.9 270.5 356.9 273.5 355.6 275.0 C354.2 276.5 355.6 278.5 357.4 277.8 Z"/><path d="M356.4 278.1 C359.9 278.8 370.8 278.9 377.9 279.1 C385.1 279.4 395.7 279.7 399.3 279.6 C402.8 279.5 402.9 278.9 399.3 278.4 C395.8 277.9 385.2 277.5 378.1 276.9 C371.0 276.2 360.2 274.5 356.6 274.7 C353.0 274.9 352.8 277.4 356.4 278.1 Z"/><path d="M355.6 277.8 C357.6 279.7 365.0 283.3 369.4 286.0 C373.7 288.7 379.7 292.8 381.9 294.0 C384.1 295.2 384.4 294.7 382.5 293.0 C380.7 291.3 374.8 287.0 370.6 284.0 C366.4 281.0 359.9 276.0 357.4 275.0 C354.9 273.9 353.6 276.0 355.6 277.8 Z"/></g><path d="M132.3 270.0 v6 M139.1 270.0 v6 M145.9 270.0 v6 M152.7 270.0 v6 M159.5 270.0 v6 M166.3 270.0 v6 M173.1 270.0 v6 M179.9 270.0 v6 M186.7 270.0 v6 M193.5 270.0 v6 M200.3 270.0 v6 M207.1 270.0 v6 M213.9 270.0 v6 M220.7 270.0 v6 M227.5 270.0 v6" stroke="#1a7a4c" stroke-width="1.5"/><ellipse cx="287.3" cy="278.1" rx="4" ry="6" fill="#137a4a"/><path d="M115.0 279.0 q2 -4.5 9 -4.5 M227.0 274.0 q6 0 8 4" stroke="#d4f8d4" stroke-width="2.6" fill="none" stroke-linecap="round"/><path d="M283.7 269.3 q6 0 9 5" stroke="#d4f8d4" stroke-width="2.6" fill="none" stroke-linecap="round"/>
<g fill="#1a7a4c" stroke="#1a7a4c" stroke-width="2.2" stroke-linejoin="round"><path d="M125.4 299.0 L232.8 298.5 Q238.8 299.0 240.8 307.0 L249.0 308.0 L249.0 312.0 L240.8 313.0 Q238.8 320.9 230.8 320.9 L125.4 321.9 A10.9 11.4 0 0 1 125.4 299.0 Z"/><path d="M246.0 310.0 C259.6 308.9 262.8 297.8 279.6 297.8 C294.6 297.8 301.7 305.1 307.0 310.0 C301.7 315.1 294.6 322.6 279.6 322.6 C262.8 322.6 259.6 311.1 246.0 310.0 Z"/><path d="M306.0 311.4 C309.2 311.9 319.5 310.8 325.0 310.6 C330.6 310.5 337.0 310.8 339.4 310.3 C341.8 309.8 341.8 308.0 339.4 307.5 C337.0 307.0 330.5 307.3 325.0 307.4 C319.4 307.4 309.1 306.9 306.0 307.6 C302.8 308.3 302.9 310.9 306.0 311.4 Z"/><path d="M339.9 310.5 C343.5 309.8 353.5 305.1 360.3 303.1 C367.1 301.1 377.3 299.4 380.6 298.4 C384.0 297.4 383.9 296.8 380.4 297.2 C376.9 297.6 366.6 299.2 359.7 300.9 C352.8 302.6 342.2 305.7 338.9 307.3 C335.6 308.9 336.4 311.2 339.9 310.5 Z"/><path d="M339.2 310.6 C343.4 311.6 356.5 312.0 364.8 313.1 C373.1 314.2 384.8 316.7 388.9 317.2 C392.9 317.7 393.1 317.1 389.1 316.0 C385.2 315.0 373.4 312.3 365.2 310.9 C356.9 309.4 343.9 307.3 339.6 307.2 C335.3 307.2 335.0 309.6 339.2 310.6 Z"/><path d="M338.5 310.3 C341.6 312.9 353.2 318.1 359.3 322.9 C365.3 327.7 372.2 336.7 375.0 339.3 C377.7 341.9 378.2 341.5 375.8 338.5 C373.5 335.5 366.7 326.3 360.7 321.1 C354.8 315.9 344.0 309.3 340.3 307.5 C336.6 305.7 335.3 307.8 338.5 310.3 Z"/></g><g fill="#66cc66"><path d="M125.4 299.0 L232.8 298.5 Q238.8 299.0 240.8 307.0 L249.0 308.0 L249.0 312.0 L240.8 313.0 Q238.8 320.9 230.8 320.9 L125.4 321.9 A10.9 11.4 0 0 1 125.4 299.0 Z"/><path d="M246.0 310.0 C259.6 308.9 262.8 297.8 279.6 297.8 C294.6 297.8 301.7 305.1 307.0 310.0 C301.7 315.1 294.6 322.6 279.6 322.6 C262.8 322.6 259.6 311.1 246.0 310.0 Z"/><path d="M306.0 311.4 C309.2 311.9 319.5 310.8 325.0 310.6 C330.6 310.5 337.0 310.8 339.4 310.3 C341.8 309.8 341.8 308.0 339.4 307.5 C337.0 307.0 330.5 307.3 325.0 307.4 C319.4 307.4 309.1 306.9 306.0 307.6 C302.8 308.3 302.9 310.9 306.0 311.4 Z"/><path d="M339.9 310.5 C343.5 309.8 353.5 305.1 360.3 303.1 C367.1 301.1 377.3 299.4 380.6 298.4 C384.0 297.4 383.9 296.8 380.4 297.2 C376.9 297.6 366.6 299.2 359.7 300.9 C352.8 302.6 342.2 305.7 338.9 307.3 C335.6 308.9 336.4 311.2 339.9 310.5 Z"/><path d="M339.2 310.6 C343.4 311.6 356.5 312.0 364.8 313.1 C373.1 314.2 384.8 316.7 388.9 317.2 C392.9 317.7 393.1 317.1 389.1 316.0 C385.2 315.0 373.4 312.3 365.2 310.9 C356.9 309.4 343.9 307.3 339.6 307.2 C335.3 307.2 335.0 309.6 339.2 310.6 Z"/><path d="M338.5 310.3 C341.6 312.9 353.2 318.1 359.3 322.9 C365.3 327.7 372.2 336.7 375.0 339.3 C377.7 341.9 378.2 341.5 375.8 338.5 C373.5 335.5 366.7 326.3 360.7 321.1 C354.8 315.9 344.0 309.3 340.3 307.5 C336.6 305.7 335.3 307.8 338.5 310.3 Z"/></g><path d="M136.5 299.0 v6 M143.3 299.0 v6 M150.1 299.0 v6 M156.9 299.0 v6 M163.7 299.0 v6 M170.5 299.0 v6 M177.3 299.0 v6 M184.1 299.0 v6 M190.9 299.0 v6 M197.7 299.0 v6 M204.5 299.0 v6 M211.3 299.0 v6 M218.1 299.0 v6 M224.9 299.0 v6" stroke="#1a7a4c" stroke-width="1.5"/><ellipse cx="284.7" cy="309.8" rx="5.5" ry="5" fill="#137a4a"/><path d="M119.0 308.0 q2 -4.5 9 -4.5 M226.0 303.0 q6 0 8 4" stroke="#d4f8d4" stroke-width="2.6" fill="none" stroke-linecap="round"/><path d="M283.8 301.8 q6 0 9 5" stroke="#d4f8d4" stroke-width="2.6" fill="none" stroke-linecap="round"/>
<g fill="#2f7d7d" stroke="#2f7d7d" stroke-width="2.2" stroke-linejoin="round"><path d="M122.2 338.9 L226 337.7 Q230 337.7 230.5 342 L231 346 L252 347 L252 351 L231 352 L231 362 Q230 366.5 226 366.2 Z"/><path d="M250.0 349.0 C263.5 347.7 266.6 335.0 283.2 335.0 C298.2 335.0 305.2 343.3 310.4 349.0 C305.2 354.6 298.2 362.8 283.2 362.8 C266.6 362.8 263.5 350.2 250.0 349.0 Z"/><path d="M308.9 350.9 C310.7 351.6 316.8 351.1 319.9 351.1 C323.0 351.2 326.1 351.8 327.4 351.4 C328.7 351.0 328.8 349.2 327.6 348.6 C326.4 348.0 323.2 348.1 320.1 347.9 C317.0 347.6 310.9 346.6 309.1 347.1 C307.2 347.6 307.1 350.2 308.9 350.9 Z"/><path d="M327.9 351.7 C332.5 351.1 346.1 347.0 355.2 345.1 C364.3 343.2 377.8 341.3 382.3 340.3 C386.8 339.3 386.7 338.7 382.1 339.1 C377.5 339.5 363.9 341.3 354.8 342.9 C345.6 344.4 331.6 346.9 327.1 348.3 C322.7 349.8 323.2 352.2 327.9 351.7 Z"/><path d="M327.3 351.7 C330.7 352.5 341.0 352.6 347.9 353.1 C354.7 353.7 365.0 354.8 368.4 354.9 C371.9 355.0 372.0 354.4 368.6 353.7 C365.2 353.0 354.9 351.8 348.1 350.9 C341.3 350.0 331.1 348.2 327.7 348.3 C324.2 348.4 324.0 350.9 327.3 351.7 Z"/><path d="M327.0 351.6 C331.9 353.7 347.6 357.8 357.6 361.1 C367.6 364.3 382.1 369.6 387.1 371.1 C392.1 372.5 392.3 372.0 387.5 369.9 C382.7 367.9 368.3 362.5 358.4 358.9 C348.5 355.3 333.3 349.6 328.0 348.4 C322.8 347.2 322.0 349.5 327.0 351.6 Z"/><path d="M333.9 354.3 C336.1 356.8 344.6 362.8 349.2 366.8 C353.8 370.9 359.1 376.8 361.3 378.6 C363.4 380.4 363.9 380.0 362.1 377.8 C360.4 375.5 355.1 369.5 350.8 365.2 C346.5 360.8 338.9 353.5 336.1 351.7 C333.3 349.9 331.7 351.8 333.9 354.3 Z"/></g><g fill="#9fdada"><path d="M122.2 338.9 L226 337.7 Q230 337.7 230.5 342 L231 346 L252 347 L252 351 L231 352 L231 362 Q230 366.5 226 366.2 Z"/><path d="M250.0 349.0 C263.5 347.7 266.6 335.0 283.2 335.0 C298.2 335.0 305.2 343.3 310.4 349.0 C305.2 354.6 298.2 362.8 283.2 362.8 C266.6 362.8 263.5 350.2 250.0 349.0 Z"/><path d="M308.9 350.9 C310.7 351.6 316.8 351.1 319.9 351.1 C323.0 351.2 326.1 351.8 327.4 351.4 C328.7 351.0 328.8 349.2 327.6 348.6 C326.4 348.0 323.2 348.1 320.1 347.9 C317.0 347.6 310.9 346.6 309.1 347.1 C307.2 347.6 307.1 350.2 308.9 350.9 Z"/><path d="M327.9 351.7 C332.5 351.1 346.1 347.0 355.2 345.1 C364.3 343.2 377.8 341.3 382.3 340.3 C386.8 339.3 386.7 338.7 382.1 339.1 C377.5 339.5 363.9 341.3 354.8 342.9 C345.6 344.4 331.6 346.9 327.1 348.3 C322.7 349.8 323.2 352.2 327.9 351.7 Z"/><path d="M327.3 351.7 C330.7 352.5 341.0 352.6 347.9 353.1 C354.7 353.7 365.0 354.8 368.4 354.9 C371.9 355.0 372.0 354.4 368.6 353.7 C365.2 353.0 354.9 351.8 348.1 350.9 C341.3 350.0 331.1 348.2 327.7 348.3 C324.2 348.4 324.0 350.9 327.3 351.7 Z"/><path d="M327.0 351.6 C331.9 353.7 347.6 357.8 357.6 361.1 C367.6 364.3 382.1 369.6 387.1 371.1 C392.1 372.5 392.3 372.0 387.5 369.9 C382.7 367.9 368.3 362.5 358.4 358.9 C348.5 355.3 333.3 349.6 328.0 348.4 C322.8 347.2 322.0 349.5 327.0 351.6 Z"/><path d="M333.9 354.3 C336.1 356.8 344.6 362.8 349.2 366.8 C353.8 370.9 359.1 376.8 361.3 378.6 C363.4 380.4 363.9 380.0 362.1 377.8 C360.4 375.5 355.1 369.5 350.8 365.2 C346.5 360.8 338.9 353.5 336.1 351.7 C333.3 349.9 331.7 351.8 333.9 354.3 Z"/></g><path d="M150.0 340.2 v6 M157.0 342.1 v6 M164.0 343.9 v6 M171.0 345.7 v6 M178.0 347.6 v6 M185.0 349.4 v6 M192.0 351.3 v6 M199.0 353.1 v6 M206.0 354.9 v6 M213.0 356.8 v6 M220.0 358.6 v6" stroke="#2f7d7d" stroke-width="1.5"/><ellipse cx="287.3" cy="348.6" rx="6.5" ry="4.5" fill="#336b6b"/><path d="M218.0 342.0 q6 0 8 4" stroke="#e0ffff" stroke-width="2.6" fill="none" stroke-linecap="round"/><path d="M287.4 339.0 q6 0 9 5" stroke="#e0ffff" stroke-width="2.6" fill="none" stroke-linecap="round"/>
<g fill="#7a1414" stroke="#7a1414" stroke-width="2.2" stroke-linejoin="round"><path d="M395.4 56.3 C395.1 60.0 396.9 71.2 397.6 78.3 C398.3 85.5 399.6 91.9 399.6 99.1 C399.7 106.4 396.9 118.0 398.0 121.8 C399.1 125.7 404.6 126.0 406.0 122.2 C407.4 118.3 406.9 106.3 406.4 98.9 C405.9 91.4 404.1 84.8 403.0 77.7 C401.9 70.5 400.8 59.3 399.6 55.7 C398.3 52.2 395.7 52.5 395.4 56.3 Z"/><path d="M399.3 70.4 C398.4 69.4 394.9 68.8 392.8 67.7 C390.6 66.6 387.6 63.9 386.3 63.5 C385.0 63.1 384.1 64.4 384.9 65.5 C385.7 66.6 389.1 68.9 391.2 70.3 C393.4 71.7 396.4 73.6 397.7 73.6 C399.1 73.6 400.1 71.4 399.3 70.4 Z"/><path d="M401.0 118.0 C401.0 139.2 422.0 143.8 422.0 165.0 C422.0 190.8 401.0 193.2 401.0 212.0 C401.0 193.2 380.2 190.8 380.2 165.0 C380.2 143.8 401.0 139.2 401.0 118.0 Z"/><path d="M399.0 205.0 C398.1 210.8 399.4 229.1 399.3 240.0 C399.3 250.8 398.9 261.3 398.7 269.9 C398.4 278.6 397.4 288.2 398.0 291.9 C398.6 295.6 401.1 295.7 402.0 292.1 C402.9 288.5 402.9 278.8 403.3 270.1 C403.8 261.4 404.4 250.9 404.7 240.0 C404.9 229.2 405.9 210.8 405.0 205.0 C404.1 199.2 399.9 199.2 399.0 205.0 Z"/><path d="M402.0 260.5 C400.9 260.1 397.3 261.0 395.1 260.9 C393.0 260.7 390.2 259.6 389.1 259.7 C388.0 259.7 387.7 260.6 388.7 261.1 C389.7 261.7 392.6 262.7 394.9 263.1 C397.1 263.5 400.8 263.9 402.0 263.5 C403.2 263.1 403.1 260.9 402.0 260.5 Z"/><path d="M401.4 250.6 C402.1 253.8 406.7 262.9 408.8 268.4 C410.9 273.9 412.9 281.2 414.0 283.7 C415.1 286.2 415.9 286.0 415.4 283.3 C415.0 280.6 413.0 273.2 411.2 267.6 C409.4 261.9 406.3 252.2 404.6 249.4 C403.0 246.5 400.7 247.5 401.4 250.6 Z"/><path d="M398.0 290.2 C397.6 293.6 399.3 304.3 399.5 310.1 C399.7 315.9 398.1 322.5 399.0 325.0 C399.9 327.5 404.1 327.5 405.0 325.0 C405.9 322.5 405.0 315.7 404.5 309.9 C404.0 304.0 403.1 293.1 402.0 289.8 C400.9 286.5 398.4 286.8 398.0 290.2 Z"/><path d="M401.2 304.1 C400.4 302.3 396.2 297.9 393.8 295.3 C391.4 292.7 388.1 289.5 386.7 288.5 C385.3 287.5 384.8 288.1 385.7 289.5 C386.6 290.9 390.0 294.0 392.2 296.7 C394.4 299.5 397.3 304.7 398.8 305.9 C400.3 307.1 402.0 305.9 401.2 304.1 Z"/><path d="M404.2 305.8 C405.6 304.6 408.4 299.3 409.9 296.6 C411.5 293.8 413.0 290.7 413.4 289.3 C413.8 288.0 413.1 287.7 412.2 288.7 C411.3 289.7 409.8 292.8 408.1 295.4 C406.3 298.0 402.4 302.4 401.8 304.2 C401.1 305.9 402.9 307.1 404.2 305.8 Z"/><path d="M402.0 318.0 C402.0 330.4 417.4 333.1 417.4 345.5 C417.4 357.9 402.0 359.0 402.0 368.0 C402.0 359.0 386.2 357.9 386.2 345.5 C386.2 333.1 402.0 330.4 402.0 318.0 Z"/><path d="M398.3 361.5 C396.9 364.4 396.2 374.9 395.4 379.5 C394.6 384.2 393.0 387.7 393.5 389.5 C394.1 391.3 397.3 392.0 398.5 390.5 C399.6 389.0 399.7 385.1 400.6 380.5 C401.5 375.8 404.1 365.6 403.7 362.5 C403.3 359.3 399.7 358.7 398.3 361.5 Z"/></g><g fill="#cc3333"><path d="M395.4 56.3 C395.1 60.0 396.9 71.2 397.6 78.3 C398.3 85.5 399.6 91.9 399.6 99.1 C399.7 106.4 396.9 118.0 398.0 121.8 C399.1 125.7 404.6 126.0 406.0 122.2 C407.4 118.3 406.9 106.3 406.4 98.9 C405.9 91.4 404.1 84.8 403.0 77.7 C401.9 70.5 400.8 59.3 399.6 55.7 C398.3 52.2 395.7 52.5 395.4 56.3 Z"/><path d="M399.3 70.4 C398.4 69.4 394.9 68.8 392.8 67.7 C390.6 66.6 387.6 63.9 386.3 63.5 C385.0 63.1 384.1 64.4 384.9 65.5 C385.7 66.6 389.1 68.9 391.2 70.3 C393.4 71.7 396.4 73.6 397.7 73.6 C399.1 73.6 400.1 71.4 399.3 70.4 Z"/><path d="M401.0 118.0 C401.0 139.2 422.0 143.8 422.0 165.0 C422.0 190.8 401.0 193.2 401.0 212.0 C401.0 193.2 380.2 190.8 380.2 165.0 C380.2 143.8 401.0 139.2 401.0 118.0 Z"/><path d="M399.0 205.0 C398.1 210.8 399.4 229.1 399.3 240.0 C399.3 250.8 398.9 261.3 398.7 269.9 C398.4 278.6 397.4 288.2 398.0 291.9 C398.6 295.6 401.1 295.7 402.0 292.1 C402.9 288.5 402.9 278.8 403.3 270.1 C403.8 261.4 404.4 250.9 404.7 240.0 C404.9 229.2 405.9 210.8 405.0 205.0 C404.1 199.2 399.9 199.2 399.0 205.0 Z"/><path d="M402.0 260.5 C400.9 260.1 397.3 261.0 395.1 260.9 C393.0 260.7 390.2 259.6 389.1 259.7 C388.0 259.7 387.7 260.6 388.7 261.1 C389.7 261.7 392.6 262.7 394.9 263.1 C397.1 263.5 400.8 263.9 402.0 263.5 C403.2 263.1 403.1 260.9 402.0 260.5 Z"/><path d="M401.4 250.6 C402.1 253.8 406.7 262.9 408.8 268.4 C410.9 273.9 412.9 281.2 414.0 283.7 C415.1 286.2 415.9 286.0 415.4 283.3 C415.0 280.6 413.0 273.2 411.2 267.6 C409.4 261.9 406.3 252.2 404.6 249.4 C403.0 246.5 400.7 247.5 401.4 250.6 Z"/><path d="M398.0 290.2 C397.6 293.6 399.3 304.3 399.5 310.1 C399.7 315.9 398.1 322.5 399.0 325.0 C399.9 327.5 404.1 327.5 405.0 325.0 C405.9 322.5 405.0 315.7 404.5 309.9 C404.0 304.0 403.1 293.1 402.0 289.8 C400.9 286.5 398.4 286.8 398.0 290.2 Z"/><path d="M401.2 304.1 C400.4 302.3 396.2 297.9 393.8 295.3 C391.4 292.7 388.1 289.5 386.7 288.5 C385.3 287.5 384.8 288.1 385.7 289.5 C386.6 290.9 390.0 294.0 392.2 296.7 C394.4 299.5 397.3 304.7 398.8 305.9 C400.3 307.1 402.0 305.9 401.2 304.1 Z"/><path d="M404.2 305.8 C405.6 304.6 408.4 299.3 409.9 296.6 C411.5 293.8 413.0 290.7 413.4 289.3 C413.8 288.0 413.1 287.7 412.2 288.7 C411.3 289.7 409.8 292.8 408.1 295.4 C406.3 298.0 402.4 302.4 401.8 304.2 C401.1 305.9 402.9 307.1 404.2 305.8 Z"/><path d="M402.0 318.0 C402.0 330.4 417.4 333.1 417.4 345.5 C417.4 357.9 402.0 359.0 402.0 368.0 C402.0 359.0 386.2 357.9 386.2 345.5 C386.2 333.1 402.0 330.4 402.0 318.0 Z"/><path d="M398.3 361.5 C396.9 364.4 396.2 374.9 395.4 379.5 C394.6 384.2 393.0 387.7 393.5 389.5 C394.1 391.3 397.3 392.0 398.5 390.5 C399.6 389.0 399.7 385.1 400.6 380.5 C401.5 375.8 404.1 365.6 403.7 362.5 C403.3 359.3 399.7 358.7 398.3 361.5 Z"/></g><path d="M403.1 102.3 C400.6 100.2 391.6 96.6 385.6 94.6 C379.5 92.5 370.1 90.5 367.0 89.9 C363.8 89.3 363.7 89.8 366.6 91.1 C369.5 92.3 378.7 94.8 384.4 97.4 C390.1 100.1 397.8 105.9 400.9 106.7 C404.0 107.5 405.7 104.3 403.1 102.3 Z" fill="#6e0f0f"/><path d="M399.8 110.6 C397.7 109.2 390.4 107.6 385.4 106.5 C380.4 105.4 372.4 104.2 369.7 103.9 C367.1 103.7 367.0 104.2 369.5 105.1 C371.9 106.0 379.8 107.8 384.6 109.5 C389.4 111.2 395.6 115.2 398.2 115.4 C400.7 115.5 402.0 112.1 399.8 110.6 Z" fill="#6e0f0f"/><ellipse cx="403" cy="168.6" rx="4.5" ry="7" fill="#660000"/><ellipse cx="405.2" cy="348.7" rx="4.2" ry="6" fill="#660000"/><path d="M400 141 q6 1 8 6 M401 330 q5 1 7 5" stroke="#f08c8c" stroke-width="2.6" fill="none" stroke-linecap="round"/>
<g fill="#f2706f" stroke="#f2706f" stroke-width="1.6" stroke-linejoin="round"><path d="M438.7 92.0 C457.4 87.9 466.4 73.7 494.1 73.7 C509.8 73.7 519.6 80.5 522.6 92.0 C519.6 102.9 509.8 109.3 494.1 109.3 C466.4 109.3 457.4 95.9 438.7 92.0 Z"/><path d="M442.7 90.7 C439.8 90.4 430.4 91.2 425.3 91.4 C420.2 91.6 414.2 91.7 412.0 92.1 C409.8 92.5 409.8 93.6 412.0 93.9 C414.3 94.1 420.3 93.7 425.4 93.6 C430.5 93.5 439.9 93.8 442.7 93.3 C445.6 92.8 445.6 91.0 442.7 90.7 Z"/><path d="M412.9 92.9 C412.9 91.2 412.3 86.4 411.0 83.2 C409.8 79.9 406.3 75.1 405.2 73.6 C404.2 72.0 404.0 72.2 404.8 73.8 C405.6 75.5 408.9 80.3 410.0 83.5 C411.0 86.8 410.6 91.6 411.1 93.1 C411.6 94.7 412.9 94.5 412.9 92.9 Z"/><path d="M412.4 92.2 C409.7 90.7 401.9 87.4 395.7 85.0 C389.5 82.6 378.6 78.9 375.1 77.8 C371.6 76.6 371.5 76.9 374.9 78.2 C378.3 79.6 389.2 83.4 395.3 86.0 C401.4 88.6 408.8 92.8 411.6 93.8 C414.5 94.8 415.0 93.7 412.4 92.2 Z"/><path d="M411.8 92.1 C409.2 92.5 402.5 94.7 396.9 95.9 C391.2 97.2 381.1 99.0 378.0 99.8 C374.8 100.5 374.9 100.7 378.0 100.2 C381.2 99.8 391.4 98.1 397.1 97.1 C402.8 96.0 409.8 94.7 412.2 93.9 C414.7 93.1 414.3 91.8 411.8 92.1 Z"/><path d="M411.3 92.4 C409.2 94.3 404.5 100.8 400.1 105.1 C395.7 109.3 387.3 115.6 384.8 117.8 C382.4 120.0 382.5 120.2 385.2 118.2 C387.8 116.2 396.3 110.0 400.9 105.9 C405.5 101.8 410.9 95.9 412.7 93.6 C414.4 91.4 413.4 90.5 411.3 92.4 Z"/><path d="M518.8 93.7 C523.8 93.6 539.2 91.1 548.3 89.8 C557.5 88.6 569.7 87.1 573.9 86.0 C578.1 84.9 577.8 83.3 573.5 83.4 C569.2 83.6 557.1 85.7 548.0 86.9 C538.8 88.0 523.2 89.2 518.4 90.3 C513.5 91.5 513.8 93.8 518.8 93.7 Z"/><path d="M574.4 85.8 C575.9 85.3 579.7 82.7 582.4 80.6 C585.0 78.5 589.2 74.8 590.3 73.4 C591.4 72.0 590.6 71.1 589.1 72.0 C587.6 72.9 583.7 76.9 581.0 78.8 C578.4 80.7 574.1 82.4 573.0 83.6 C571.9 84.8 572.8 86.3 574.4 85.8 Z"/><path d="M590.1 73.5 C591.9 73.0 596.9 69.7 600.4 68.6 C603.9 67.4 609.1 67.1 610.8 66.6 C612.5 66.2 612.5 65.9 610.7 66.0 C608.9 66.2 603.6 66.5 600.1 67.4 C596.5 68.4 591.0 70.9 589.3 71.9 C587.7 72.9 588.2 74.1 590.1 73.5 Z"/><path d="M590.5 73.1 C591.5 71.4 593.4 65.6 594.8 62.6 C596.3 59.6 598.5 56.4 599.1 55.1 C599.8 53.8 599.5 53.6 598.6 54.8 C597.7 55.9 595.4 59.1 593.8 62.0 C592.1 65.0 589.4 70.5 588.9 72.3 C588.3 74.2 589.5 74.7 590.5 73.1 Z"/><path d="M573.0 85.8 C574.1 87.0 578.4 88.7 581.0 90.6 C583.7 92.5 587.6 96.5 589.1 97.4 C590.6 98.3 591.4 97.4 590.3 96.0 C589.2 94.6 585.0 90.9 582.4 88.8 C579.7 86.7 575.9 84.1 574.4 83.6 C572.8 83.1 571.9 84.6 573.0 85.8 Z"/><path d="M589.3 97.5 C591.0 98.5 596.5 101.0 600.1 102.0 C603.6 102.9 608.9 103.2 610.7 103.4 C612.5 103.5 612.5 103.2 610.8 102.8 C609.1 102.3 603.9 102.0 600.4 100.8 C596.9 99.7 591.9 96.4 590.1 95.9 C588.2 95.3 587.7 96.5 589.3 97.5 Z"/><path d="M588.9 97.1 C589.4 98.9 592.1 104.4 593.8 107.4 C595.4 110.3 597.7 113.5 598.6 114.6 C599.5 115.8 599.8 115.6 599.1 114.3 C598.5 113.0 596.3 109.8 594.8 106.8 C593.4 103.8 591.5 98.0 590.5 96.3 C589.5 94.7 588.3 95.2 588.9 97.1 Z"/><path d="M451.5 154.0 C468.1 149.9 476.1 135.8 500.8 135.8 C518.8 135.8 525.0 149.9 533.6 154.0 C525.0 158.1 518.8 172.3 500.8 172.3 C476.1 172.3 468.1 158.1 451.5 154.0 Z"/><path d="M455.5 152.7 C452.2 152.3 441.7 152.8 435.8 152.9 C429.8 153.0 422.6 152.8 420.0 153.1 C417.4 153.4 417.4 154.6 420.0 154.9 C422.6 155.2 429.8 155.0 435.8 155.1 C441.7 155.2 452.2 155.7 455.5 155.3 C458.8 154.9 458.8 153.1 455.5 152.7 Z"/><path d="M420.9 154.2 C421.3 153.0 422.2 149.3 421.9 146.9 C421.5 144.6 419.4 141.1 418.8 139.9 C418.2 138.8 418.1 138.9 418.4 140.1 C418.7 141.3 420.6 144.8 420.7 147.1 C420.9 149.3 419.1 152.7 419.1 153.8 C419.1 155.0 420.4 155.3 420.9 154.2 Z"/><path d="M420.1 153.1 C416.4 152.5 406.1 152.0 398.0 151.4 C390.0 150.9 376.4 149.9 372.0 149.8 C367.7 149.6 367.7 149.8 372.0 150.2 C376.3 150.7 390.0 151.8 398.0 152.6 C405.9 153.3 416.2 154.8 419.9 154.9 C423.6 155.0 423.7 153.7 420.1 153.1 Z"/><path d="M420.4 153.2 C417.5 151.4 409.0 147.1 402.2 144.0 C395.5 140.9 383.8 136.2 380.1 134.8 C376.4 133.3 376.3 133.5 379.9 135.2 C383.5 136.9 395.1 141.8 401.8 145.0 C408.4 148.3 416.5 153.4 419.6 154.8 C422.7 156.2 423.3 155.0 420.4 153.2 Z"/><path d="M419.5 153.2 C416.8 154.5 410.0 159.4 404.2 162.5 C398.5 165.6 388.1 170.1 384.9 171.8 C381.7 173.4 381.8 173.6 385.1 172.2 C388.4 170.9 398.9 166.4 404.8 163.5 C410.7 160.6 418.0 156.5 420.5 154.8 C422.9 153.1 422.3 151.9 419.5 153.2 Z"/><path d="M529.7 155.7 C534.3 156.1 548.8 155.0 557.4 154.6 C565.9 154.2 577.1 154.1 581.0 153.5 C585.0 152.9 584.9 151.2 581.0 150.9 C577.0 150.6 565.8 151.4 557.2 151.6 C548.7 151.8 534.1 151.6 529.5 152.3 C524.9 153.0 525.0 155.3 529.7 155.7 Z"/><path d="M581.7 153.3 C583.2 152.8 587.0 150.2 589.7 148.1 C592.3 146.0 596.5 142.3 597.6 140.9 C598.7 139.5 597.9 138.6 596.4 139.5 C594.9 140.4 591.0 144.4 588.3 146.3 C585.7 148.2 581.4 149.9 580.3 151.1 C579.2 152.3 580.1 153.8 581.7 153.3 Z"/><path d="M597.4 141.0 C599.2 140.5 604.2 137.2 607.7 136.1 C611.2 134.9 616.4 134.6 618.1 134.1 C619.8 133.7 619.8 133.4 618.0 133.5 C616.2 133.7 610.9 134.0 607.4 134.9 C603.8 135.9 598.3 138.4 596.6 139.4 C595.0 140.4 595.5 141.6 597.4 141.0 Z"/><path d="M597.8 140.6 C598.8 138.9 600.7 133.1 602.1 130.1 C603.6 127.1 605.8 123.9 606.4 122.6 C607.1 121.3 606.8 121.1 605.9 122.3 C605.0 123.4 602.7 126.6 601.1 129.5 C599.4 132.5 596.7 138.0 596.2 139.8 C595.6 141.7 596.8 142.2 597.8 140.6 Z"/><path d="M580.3 153.3 C581.4 154.5 585.7 156.2 588.3 158.1 C591.0 160.0 594.9 164.0 596.4 164.9 C597.9 165.8 598.7 164.9 597.6 163.5 C596.5 162.1 592.3 158.4 589.7 156.3 C587.0 154.2 583.2 151.6 581.7 151.1 C580.1 150.6 579.2 152.1 580.3 153.3 Z"/><path d="M596.6 165.0 C598.3 166.0 603.8 168.5 607.4 169.5 C610.9 170.4 616.2 170.7 618.0 170.9 C619.8 171.0 619.8 170.7 618.1 170.3 C616.4 169.8 611.2 169.5 607.7 168.3 C604.2 167.2 599.2 163.9 597.4 163.4 C595.5 162.8 595.0 164.0 596.6 165.0 Z"/><path d="M596.2 164.6 C596.7 166.4 599.4 171.9 601.1 174.9 C602.7 177.8 605.0 181.0 605.9 182.1 C606.8 183.3 607.1 183.1 606.4 181.8 C605.8 180.5 603.6 177.3 602.1 174.3 C600.7 171.3 598.8 165.5 597.8 163.8 C596.8 162.2 595.6 162.7 596.2 164.6 Z"/><path d="M451.5 227.0 C467.8 223.3 475.6 210.6 499.7 210.6 C513.3 210.6 521.9 216.7 524.5 227.0 C521.9 238.3 513.3 245.0 499.7 245.0 C475.6 245.0 467.8 231.1 451.5 227.0 Z"/><path d="M455.5 225.7 C452.3 225.2 441.7 225.5 435.8 225.4 C429.9 225.3 422.7 224.9 420.0 225.1 C417.4 225.4 417.4 226.5 420.0 226.9 C422.6 227.3 429.8 227.4 435.7 227.6 C441.6 227.8 452.2 228.6 455.5 228.3 C458.8 228.0 458.8 226.2 455.5 225.7 Z"/><path d="M420.9 225.8 C420.8 224.1 420.0 219.1 418.5 215.8 C417.1 212.5 413.3 207.5 412.2 205.9 C411.1 204.3 410.9 204.4 411.8 206.1 C412.7 207.9 416.2 212.9 417.5 216.2 C418.7 219.6 418.5 224.6 419.1 226.2 C419.7 227.8 421.0 227.6 420.9 225.8 Z"/><path d="M420.1 225.1 C417.0 224.5 408.1 224.0 401.1 223.4 C394.0 222.9 381.9 221.9 378.0 221.8 C374.2 221.6 374.2 221.8 378.0 222.2 C381.8 222.7 394.0 223.8 400.9 224.6 C407.9 225.3 416.7 226.8 419.9 226.9 C423.1 227.0 423.2 225.7 420.1 225.1 Z"/><path d="M419.6 225.2 C416.5 226.6 408.4 231.7 401.8 235.0 C395.1 238.2 383.5 243.1 379.9 244.8 C376.3 246.5 376.4 246.7 380.1 245.2 C383.8 243.8 395.5 239.1 402.2 236.0 C409.0 232.9 417.5 228.6 420.4 226.8 C423.3 225.0 422.7 223.8 419.6 225.2 Z"/><path d="M420.7 225.4 C419.4 223.5 415.2 218.5 411.4 215.1 C407.6 211.6 400.4 206.5 398.2 204.8 C395.9 203.2 395.8 203.3 397.8 205.2 C399.9 207.0 407.0 212.4 410.6 215.9 C414.2 219.5 417.6 225.0 419.3 226.6 C421.0 228.2 422.0 227.3 420.7 225.4 Z"/><path d="M520.5 228.7 C525.4 229.1 540.7 228.2 549.8 228.0 C558.9 227.8 570.8 227.8 575.0 227.3 C579.2 226.7 579.2 225.1 575.0 224.7 C570.8 224.3 558.8 224.9 549.7 225.0 C540.6 225.1 525.3 224.7 520.5 225.3 C515.6 225.9 515.6 228.2 520.5 228.7 Z"/><path d="M575.7 227.1 C577.2 226.6 581.0 224.0 583.7 221.9 C586.3 219.8 590.5 216.1 591.6 214.7 C592.7 213.3 591.9 212.4 590.4 213.3 C588.9 214.2 585.0 218.2 582.3 220.1 C579.7 222.0 575.4 223.7 574.3 224.9 C573.2 226.1 574.1 227.6 575.7 227.1 Z"/><path d="M591.4 214.8 C593.2 214.3 598.2 211.0 601.7 209.9 C605.2 208.7 610.4 208.4 612.1 207.9 C613.8 207.5 613.8 207.2 612.0 207.3 C610.2 207.5 604.9 207.8 601.4 208.7 C597.8 209.7 592.3 212.2 590.6 213.2 C589.0 214.2 589.5 215.4 591.4 214.8 Z"/><path d="M591.8 214.4 C592.8 212.7 594.7 206.9 596.1 203.9 C597.6 200.9 599.8 197.7 600.4 196.4 C601.1 195.1 600.8 194.9 599.9 196.1 C599.0 197.2 596.7 200.4 595.1 203.3 C593.4 206.3 590.7 211.8 590.2 213.6 C589.6 215.5 590.8 216.0 591.8 214.4 Z"/><path d="M574.3 227.1 C575.4 228.3 579.7 230.0 582.3 231.9 C585.0 233.8 588.9 237.8 590.4 238.7 C591.9 239.6 592.7 238.7 591.6 237.3 C590.5 235.9 586.3 232.2 583.7 230.1 C581.0 228.0 577.2 225.4 575.7 224.9 C574.1 224.4 573.2 225.9 574.3 227.1 Z"/><path d="M590.6 238.8 C592.3 239.8 597.8 242.3 601.4 243.3 C604.9 244.2 610.2 244.5 612.0 244.7 C613.8 244.8 613.8 244.5 612.1 244.1 C610.4 243.6 605.2 243.3 601.7 242.1 C598.2 241.0 593.2 237.7 591.4 237.2 C589.5 236.6 589.0 237.8 590.6 238.8 Z"/><path d="M590.2 238.4 C590.7 240.2 593.4 245.7 595.1 248.7 C596.7 251.6 599.0 254.8 599.9 255.9 C600.8 257.1 601.1 256.9 600.4 255.6 C599.8 254.3 597.6 251.1 596.1 248.1 C594.7 245.1 592.8 239.3 591.8 237.6 C590.8 236.0 589.6 236.5 590.2 238.4 Z"/><path d="M448.5 297.6 C465.2 293.6 473.2 279.6 498.0 279.6 C512.0 279.6 520.8 286.3 523.5 297.6 C520.8 306.9 512.0 312.3 498.0 312.3 C473.2 312.3 465.2 300.9 448.5 297.6 Z"/><path d="M452.5 296.3 C449.6 295.9 440.3 296.6 435.2 296.7 C430.2 296.8 424.2 296.7 422.0 297.1 C419.8 297.5 419.8 298.6 422.0 298.9 C424.2 299.2 430.2 298.9 435.3 298.9 C440.3 298.9 449.6 299.3 452.5 298.9 C455.4 298.5 455.4 296.7 452.5 296.3 Z"/><path d="M422.9 297.8 C422.7 296.2 421.6 291.7 420.0 288.7 C418.4 285.8 414.4 281.3 413.2 279.9 C412.0 278.4 411.8 278.6 412.8 280.1 C413.8 281.7 417.6 286.2 419.0 289.3 C420.4 292.3 420.5 296.8 421.1 298.2 C421.8 299.7 423.1 299.3 422.9 297.8 Z"/><path d="M422.2 297.1 C418.9 296.2 409.5 294.7 402.1 293.4 C394.7 292.2 382.1 290.3 378.0 289.8 C374.0 289.2 374.0 289.4 378.0 290.2 C381.9 291.0 394.6 293.1 401.9 294.6 C409.2 296.0 418.4 298.5 421.8 298.9 C425.2 299.3 425.5 298.0 422.2 297.1 Z"/><path d="M421.6 297.2 C418.3 298.7 409.7 304.1 402.8 307.5 C395.8 310.9 383.7 316.0 379.9 317.8 C376.1 319.6 376.2 319.8 380.1 318.2 C384.0 316.7 396.2 311.8 403.2 308.5 C410.3 305.3 419.4 300.7 422.4 298.8 C425.5 296.9 424.9 295.8 421.6 297.2 Z"/><path d="M421.5 297.2 C419.5 298.2 414.7 302.1 410.2 304.5 C405.8 306.9 397.4 310.5 394.9 311.8 C392.4 313.1 392.5 313.3 395.1 312.2 C397.7 311.2 406.2 307.8 410.8 305.5 C415.3 303.3 420.7 300.1 422.5 298.8 C424.3 297.4 423.6 296.3 421.5 297.2 Z"/><path d="M519.5 299.3 C524.5 299.8 540.0 299.0 549.3 298.8 C558.5 298.6 570.7 298.8 575.0 298.3 C579.3 297.8 579.3 296.1 575.0 295.7 C570.7 295.3 558.5 295.8 549.2 295.8 C540.0 295.8 524.4 295.3 519.5 295.9 C514.5 296.5 514.6 298.8 519.5 299.3 Z"/><path d="M575.7 298.1 C577.2 297.6 581.0 295.0 583.7 292.9 C586.3 290.8 590.5 287.1 591.6 285.7 C592.7 284.3 591.9 283.4 590.4 284.3 C588.9 285.2 585.0 289.2 582.3 291.1 C579.7 293.0 575.4 294.7 574.3 295.9 C573.2 297.1 574.1 298.6 575.7 298.1 Z"/><path d="M591.4 285.8 C593.2 285.3 598.2 282.0 601.7 280.9 C605.2 279.7 610.4 279.4 612.1 278.9 C613.8 278.5 613.8 278.2 612.0 278.3 C610.2 278.5 604.9 278.8 601.4 279.7 C597.8 280.7 592.3 283.2 590.6 284.2 C589.0 285.2 589.5 286.4 591.4 285.8 Z"/><path d="M591.8 285.4 C592.8 283.7 594.7 277.9 596.1 274.9 C597.6 271.9 599.8 268.7 600.4 267.4 C601.1 266.1 600.8 265.9 599.9 267.1 C599.0 268.2 596.7 271.4 595.1 274.3 C593.4 277.3 590.7 282.8 590.2 284.6 C589.6 286.5 590.8 287.0 591.8 285.4 Z"/><path d="M574.3 298.1 C575.4 299.3 579.7 301.0 582.3 302.9 C585.0 304.8 588.9 308.8 590.4 309.7 C591.9 310.6 592.7 309.7 591.6 308.3 C590.5 306.9 586.3 303.2 583.7 301.1 C581.0 299.0 577.2 296.4 575.7 295.9 C574.1 295.4 573.2 296.9 574.3 298.1 Z"/><path d="M590.6 309.8 C592.3 310.8 597.8 313.3 601.4 314.3 C604.9 315.2 610.2 315.5 612.0 315.7 C613.8 315.8 613.8 315.5 612.1 315.1 C610.4 314.6 605.2 314.3 601.7 313.1 C598.2 312.0 593.2 308.7 591.4 308.2 C589.5 307.6 589.0 308.8 590.6 309.8 Z"/><path d="M590.2 309.4 C590.7 311.2 593.4 316.7 595.1 319.7 C596.7 322.6 599.0 325.8 599.9 326.9 C600.8 328.1 601.1 327.9 600.4 326.6 C599.8 325.3 597.6 322.1 596.1 319.1 C594.7 316.1 592.8 310.3 591.8 308.6 C590.8 307.0 589.6 307.5 590.2 309.4 Z"/><path d="M461.5 353.0 C479.7 348.9 488.4 335.0 515.3 335.0 C530.5 335.0 540.1 341.7 543.0 353.0 C540.1 363.3 530.5 369.3 515.3 369.3 C488.4 369.3 479.7 356.7 461.5 353.0 Z"/><path d="M465.5 351.7 C461.5 351.3 449.0 351.8 441.8 351.9 C434.5 352.0 425.3 351.8 422.0 352.1 C418.7 352.4 418.7 353.6 422.0 353.9 C425.3 354.2 434.5 354.0 441.8 354.1 C449.0 354.2 461.5 354.7 465.5 354.3 C469.5 353.9 469.5 352.1 465.5 351.7 Z"/><path d="M422.9 352.9 C422.9 351.3 422.3 346.8 421.0 343.8 C419.8 340.8 416.3 336.3 415.2 334.9 C414.2 333.4 414.0 333.6 414.8 335.1 C415.6 336.7 418.9 341.2 420.0 344.2 C421.0 347.2 420.6 351.7 421.1 353.1 C421.6 354.6 422.9 354.4 422.9 352.9 Z"/><path d="M422.2 352.1 C419.1 351.2 410.1 349.7 403.1 348.4 C396.1 347.2 383.9 345.3 380.0 344.8 C376.2 344.2 376.1 344.4 380.0 345.2 C383.8 346.0 395.9 348.1 402.9 349.6 C409.9 351.0 418.6 353.5 421.8 353.9 C425.0 354.3 425.3 353.0 422.2 352.1 Z"/><path d="M421.6 352.2 C418.5 353.6 410.4 358.7 403.8 362.0 C397.1 365.2 385.5 370.1 381.9 371.8 C378.3 373.5 378.4 373.7 382.1 372.2 C385.8 370.8 397.5 366.1 404.2 363.0 C411.0 359.9 419.5 355.6 422.4 353.8 C425.3 352.0 424.7 350.8 421.6 352.2 Z"/><path d="M421.5 352.3 C419.7 353.3 415.6 357.4 411.7 360.0 C407.8 362.6 400.1 366.4 397.9 367.8 C395.6 369.1 395.7 369.4 398.1 368.2 C400.5 367.1 408.2 363.4 412.3 361.0 C416.4 358.6 421.0 355.2 422.5 353.7 C424.1 352.3 423.3 351.2 421.5 352.3 Z"/><path d="M539.0 354.7 C543.2 355.1 556.4 354.2 564.0 354.0 C571.7 353.8 581.5 353.8 585.0 353.3 C588.5 352.7 588.5 351.1 585.0 350.7 C581.5 350.3 571.6 350.9 564.0 351.0 C556.3 351.1 543.1 350.7 539.0 351.3 C534.8 351.9 534.9 354.2 539.0 354.7 Z"/><path d="M585.7 353.1 C587.2 352.6 591.0 350.0 593.7 347.9 C596.3 345.8 600.5 342.1 601.6 340.7 C602.7 339.3 601.9 338.4 600.4 339.3 C598.9 340.2 595.0 344.2 592.3 346.1 C589.7 348.0 585.4 349.7 584.3 350.9 C583.2 352.1 584.1 353.6 585.7 353.1 Z"/><path d="M601.4 340.8 C603.2 340.3 608.2 337.0 611.7 335.9 C615.2 334.7 620.4 334.4 622.1 333.9 C623.8 333.5 623.8 333.2 622.0 333.3 C620.2 333.5 614.9 333.8 611.4 334.7 C607.8 335.7 602.3 338.2 600.6 339.2 C599.0 340.2 599.5 341.4 601.4 340.8 Z"/><path d="M601.8 340.4 C602.8 338.7 604.7 332.9 606.1 329.9 C607.6 326.9 609.8 323.7 610.4 322.4 C611.1 321.1 610.8 320.9 609.9 322.1 C609.0 323.2 606.7 326.4 605.1 329.3 C603.4 332.3 600.7 337.8 600.2 339.6 C599.6 341.5 600.8 342.0 601.8 340.4 Z"/><path d="M584.3 353.1 C585.4 354.3 589.7 356.0 592.3 357.9 C595.0 359.8 598.9 363.8 600.4 364.7 C601.9 365.6 602.7 364.7 601.6 363.3 C600.5 361.9 596.3 358.2 593.7 356.1 C591.0 354.0 587.2 351.4 585.7 350.9 C584.1 350.4 583.2 351.9 584.3 353.1 Z"/><path d="M600.6 364.8 C602.3 365.8 607.8 368.3 611.4 369.3 C614.9 370.2 620.2 370.5 622.0 370.7 C623.8 370.8 623.8 370.5 622.1 370.1 C620.4 369.6 615.2 369.3 611.7 368.1 C608.2 367.0 603.2 363.7 601.4 363.2 C599.5 362.6 599.0 363.8 600.6 364.8 Z"/><path d="M600.2 364.4 C600.7 366.2 603.4 371.7 605.1 374.7 C606.7 377.6 609.0 380.8 609.9 381.9 C610.8 383.1 611.1 382.9 610.4 381.6 C609.8 380.3 607.6 377.1 606.1 374.1 C604.7 371.1 602.8 365.3 601.8 363.6 C600.8 362.0 599.6 362.5 600.2 364.4 Z"/></g><g fill="#fd9b9b"><path d="M438.7 92.0 C457.4 87.9 466.4 73.7 494.1 73.7 C509.8 73.7 519.6 80.5 522.6 92.0 C519.6 102.9 509.8 109.3 494.1 109.3 C466.4 109.3 457.4 95.9 438.7 92.0 Z"/><path d="M442.7 90.7 C439.8 90.4 430.4 91.2 425.3 91.4 C420.2 91.6 414.2 91.7 412.0 92.1 C409.8 92.5 409.8 93.6 412.0 93.9 C414.3 94.1 420.3 93.7 425.4 93.6 C430.5 93.5 439.9 93.8 442.7 93.3 C445.6 92.8 445.6 91.0 442.7 90.7 Z"/><path d="M412.9 92.9 C412.9 91.2 412.3 86.4 411.0 83.2 C409.8 79.9 406.3 75.1 405.2 73.6 C404.2 72.0 404.0 72.2 404.8 73.8 C405.6 75.5 408.9 80.3 410.0 83.5 C411.0 86.8 410.6 91.6 411.1 93.1 C411.6 94.7 412.9 94.5 412.9 92.9 Z"/><path d="M412.4 92.2 C409.7 90.7 401.9 87.4 395.7 85.0 C389.5 82.6 378.6 78.9 375.1 77.8 C371.6 76.6 371.5 76.9 374.9 78.2 C378.3 79.6 389.2 83.4 395.3 86.0 C401.4 88.6 408.8 92.8 411.6 93.8 C414.5 94.8 415.0 93.7 412.4 92.2 Z"/><path d="M411.8 92.1 C409.2 92.5 402.5 94.7 396.9 95.9 C391.2 97.2 381.1 99.0 378.0 99.8 C374.8 100.5 374.9 100.7 378.0 100.2 C381.2 99.8 391.4 98.1 397.1 97.1 C402.8 96.0 409.8 94.7 412.2 93.9 C414.7 93.1 414.3 91.8 411.8 92.1 Z"/><path d="M411.3 92.4 C409.2 94.3 404.5 100.8 400.1 105.1 C395.7 109.3 387.3 115.6 384.8 117.8 C382.4 120.0 382.5 120.2 385.2 118.2 C387.8 116.2 396.3 110.0 400.9 105.9 C405.5 101.8 410.9 95.9 412.7 93.6 C414.4 91.4 413.4 90.5 411.3 92.4 Z"/><path d="M518.8 93.7 C523.8 93.6 539.2 91.1 548.3 89.8 C557.5 88.6 569.7 87.1 573.9 86.0 C578.1 84.9 577.8 83.3 573.5 83.4 C569.2 83.6 557.1 85.7 548.0 86.9 C538.8 88.0 523.2 89.2 518.4 90.3 C513.5 91.5 513.8 93.8 518.8 93.7 Z"/><path d="M574.4 85.8 C575.9 85.3 579.7 82.7 582.4 80.6 C585.0 78.5 589.2 74.8 590.3 73.4 C591.4 72.0 590.6 71.1 589.1 72.0 C587.6 72.9 583.7 76.9 581.0 78.8 C578.4 80.7 574.1 82.4 573.0 83.6 C571.9 84.8 572.8 86.3 574.4 85.8 Z"/><path d="M590.1 73.5 C591.9 73.0 596.9 69.7 600.4 68.6 C603.9 67.4 609.1 67.1 610.8 66.6 C612.5 66.2 612.5 65.9 610.7 66.0 C608.9 66.2 603.6 66.5 600.1 67.4 C596.5 68.4 591.0 70.9 589.3 71.9 C587.7 72.9 588.2 74.1 590.1 73.5 Z"/><path d="M590.5 73.1 C591.5 71.4 593.4 65.6 594.8 62.6 C596.3 59.6 598.5 56.4 599.1 55.1 C599.8 53.8 599.5 53.6 598.6 54.8 C597.7 55.9 595.4 59.1 593.8 62.0 C592.1 65.0 589.4 70.5 588.9 72.3 C588.3 74.2 589.5 74.7 590.5 73.1 Z"/><path d="M573.0 85.8 C574.1 87.0 578.4 88.7 581.0 90.6 C583.7 92.5 587.6 96.5 589.1 97.4 C590.6 98.3 591.4 97.4 590.3 96.0 C589.2 94.6 585.0 90.9 582.4 88.8 C579.7 86.7 575.9 84.1 574.4 83.6 C572.8 83.1 571.9 84.6 573.0 85.8 Z"/><path d="M589.3 97.5 C591.0 98.5 596.5 101.0 600.1 102.0 C603.6 102.9 608.9 103.2 610.7 103.4 C612.5 103.5 612.5 103.2 610.8 102.8 C609.1 102.3 603.9 102.0 600.4 100.8 C596.9 99.7 591.9 96.4 590.1 95.9 C588.2 95.3 587.7 96.5 589.3 97.5 Z"/><path d="M588.9 97.1 C589.4 98.9 592.1 104.4 593.8 107.4 C595.4 110.3 597.7 113.5 598.6 114.6 C599.5 115.8 599.8 115.6 599.1 114.3 C598.5 113.0 596.3 109.8 594.8 106.8 C593.4 103.8 591.5 98.0 590.5 96.3 C589.5 94.7 588.3 95.2 588.9 97.1 Z"/><path d="M451.5 154.0 C468.1 149.9 476.1 135.8 500.8 135.8 C518.8 135.8 525.0 149.9 533.6 154.0 C525.0 158.1 518.8 172.3 500.8 172.3 C476.1 172.3 468.1 158.1 451.5 154.0 Z"/><path d="M455.5 152.7 C452.2 152.3 441.7 152.8 435.8 152.9 C429.8 153.0 422.6 152.8 420.0 153.1 C417.4 153.4 417.4 154.6 420.0 154.9 C422.6 155.2 429.8 155.0 435.8 155.1 C441.7 155.2 452.2 155.7 455.5 155.3 C458.8 154.9 458.8 153.1 455.5 152.7 Z"/><path d="M420.9 154.2 C421.3 153.0 422.2 149.3 421.9 146.9 C421.5 144.6 419.4 141.1 418.8 139.9 C418.2 138.8 418.1 138.9 418.4 140.1 C418.7 141.3 420.6 144.8 420.7 147.1 C420.9 149.3 419.1 152.7 419.1 153.8 C419.1 155.0 420.4 155.3 420.9 154.2 Z"/><path d="M420.1 153.1 C416.4 152.5 406.1 152.0 398.0 151.4 C390.0 150.9 376.4 149.9 372.0 149.8 C367.7 149.6 367.7 149.8 372.0 150.2 C376.3 150.7 390.0 151.8 398.0 152.6 C405.9 153.3 416.2 154.8 419.9 154.9 C423.6 155.0 423.7 153.7 420.1 153.1 Z"/><path d="M420.4 153.2 C417.5 151.4 409.0 147.1 402.2 144.0 C395.5 140.9 383.8 136.2 380.1 134.8 C376.4 133.3 376.3 133.5 379.9 135.2 C383.5 136.9 395.1 141.8 401.8 145.0 C408.4 148.3 416.5 153.4 419.6 154.8 C422.7 156.2 423.3 155.0 420.4 153.2 Z"/><path d="M419.5 153.2 C416.8 154.5 410.0 159.4 404.2 162.5 C398.5 165.6 388.1 170.1 384.9 171.8 C381.7 173.4 381.8 173.6 385.1 172.2 C388.4 170.9 398.9 166.4 404.8 163.5 C410.7 160.6 418.0 156.5 420.5 154.8 C422.9 153.1 422.3 151.9 419.5 153.2 Z"/><path d="M529.7 155.7 C534.3 156.1 548.8 155.0 557.4 154.6 C565.9 154.2 577.1 154.1 581.0 153.5 C585.0 152.9 584.9 151.2 581.0 150.9 C577.0 150.6 565.8 151.4 557.2 151.6 C548.7 151.8 534.1 151.6 529.5 152.3 C524.9 153.0 525.0 155.3 529.7 155.7 Z"/><path d="M581.7 153.3 C583.2 152.8 587.0 150.2 589.7 148.1 C592.3 146.0 596.5 142.3 597.6 140.9 C598.7 139.5 597.9 138.6 596.4 139.5 C594.9 140.4 591.0 144.4 588.3 146.3 C585.7 148.2 581.4 149.9 580.3 151.1 C579.2 152.3 580.1 153.8 581.7 153.3 Z"/><path d="M597.4 141.0 C599.2 140.5 604.2 137.2 607.7 136.1 C611.2 134.9 616.4 134.6 618.1 134.1 C619.8 133.7 619.8 133.4 618.0 133.5 C616.2 133.7 610.9 134.0 607.4 134.9 C603.8 135.9 598.3 138.4 596.6 139.4 C595.0 140.4 595.5 141.6 597.4 141.0 Z"/><path d="M597.8 140.6 C598.8 138.9 600.7 133.1 602.1 130.1 C603.6 127.1 605.8 123.9 606.4 122.6 C607.1 121.3 606.8 121.1 605.9 122.3 C605.0 123.4 602.7 126.6 601.1 129.5 C599.4 132.5 596.7 138.0 596.2 139.8 C595.6 141.7 596.8 142.2 597.8 140.6 Z"/><path d="M580.3 153.3 C581.4 154.5 585.7 156.2 588.3 158.1 C591.0 160.0 594.9 164.0 596.4 164.9 C597.9 165.8 598.7 164.9 597.6 163.5 C596.5 162.1 592.3 158.4 589.7 156.3 C587.0 154.2 583.2 151.6 581.7 151.1 C580.1 150.6 579.2 152.1 580.3 153.3 Z"/><path d="M596.6 165.0 C598.3 166.0 603.8 168.5 607.4 169.5 C610.9 170.4 616.2 170.7 618.0 170.9 C619.8 171.0 619.8 170.7 618.1 170.3 C616.4 169.8 611.2 169.5 607.7 168.3 C604.2 167.2 599.2 163.9 597.4 163.4 C595.5 162.8 595.0 164.0 596.6 165.0 Z"/><path d="M596.2 164.6 C596.7 166.4 599.4 171.9 601.1 174.9 C602.7 177.8 605.0 181.0 605.9 182.1 C606.8 183.3 607.1 183.1 606.4 181.8 C605.8 180.5 603.6 177.3 602.1 174.3 C600.7 171.3 598.8 165.5 597.8 163.8 C596.8 162.2 595.6 162.7 596.2 164.6 Z"/><path d="M451.5 227.0 C467.8 223.3 475.6 210.6 499.7 210.6 C513.3 210.6 521.9 216.7 524.5 227.0 C521.9 238.3 513.3 245.0 499.7 245.0 C475.6 245.0 467.8 231.1 451.5 227.0 Z"/><path d="M455.5 225.7 C452.3 225.2 441.7 225.5 435.8 225.4 C429.9 225.3 422.7 224.9 420.0 225.1 C417.4 225.4 417.4 226.5 420.0 226.9 C422.6 227.3 429.8 227.4 435.7 227.6 C441.6 227.8 452.2 228.6 455.5 228.3 C458.8 228.0 458.8 226.2 455.5 225.7 Z"/><path d="M420.9 225.8 C420.8 224.1 420.0 219.1 418.5 215.8 C417.1 212.5 413.3 207.5 412.2 205.9 C411.1 204.3 410.9 204.4 411.8 206.1 C412.7 207.9 416.2 212.9 417.5 216.2 C418.7 219.6 418.5 224.6 419.1 226.2 C419.7 227.8 421.0 227.6 420.9 225.8 Z"/><path d="M420.1 225.1 C417.0 224.5 408.1 224.0 401.1 223.4 C394.0 222.9 381.9 221.9 378.0 221.8 C374.2 221.6 374.2 221.8 378.0 222.2 C381.8 222.7 394.0 223.8 400.9 224.6 C407.9 225.3 416.7 226.8 419.9 226.9 C423.1 227.0 423.2 225.7 420.1 225.1 Z"/><path d="M419.6 225.2 C416.5 226.6 408.4 231.7 401.8 235.0 C395.1 238.2 383.5 243.1 379.9 244.8 C376.3 246.5 376.4 246.7 380.1 245.2 C383.8 243.8 395.5 239.1 402.2 236.0 C409.0 232.9 417.5 228.6 420.4 226.8 C423.3 225.0 422.7 223.8 419.6 225.2 Z"/><path d="M420.7 225.4 C419.4 223.5 415.2 218.5 411.4 215.1 C407.6 211.6 400.4 206.5 398.2 204.8 C395.9 203.2 395.8 203.3 397.8 205.2 C399.9 207.0 407.0 212.4 410.6 215.9 C414.2 219.5 417.6 225.0 419.3 226.6 C421.0 228.2 422.0 227.3 420.7 225.4 Z"/><path d="M520.5 228.7 C525.4 229.1 540.7 228.2 549.8 228.0 C558.9 227.8 570.8 227.8 575.0 227.3 C579.2 226.7 579.2 225.1 575.0 224.7 C570.8 224.3 558.8 224.9 549.7 225.0 C540.6 225.1 525.3 224.7 520.5 225.3 C515.6 225.9 515.6 228.2 520.5 228.7 Z"/><path d="M575.7 227.1 C577.2 226.6 581.0 224.0 583.7 221.9 C586.3 219.8 590.5 216.1 591.6 214.7 C592.7 213.3 591.9 212.4 590.4 213.3 C588.9 214.2 585.0 218.2 582.3 220.1 C579.7 222.0 575.4 223.7 574.3 224.9 C573.2 226.1 574.1 227.6 575.7 227.1 Z"/><path d="M591.4 214.8 C593.2 214.3 598.2 211.0 601.7 209.9 C605.2 208.7 610.4 208.4 612.1 207.9 C613.8 207.5 613.8 207.2 612.0 207.3 C610.2 207.5 604.9 207.8 601.4 208.7 C597.8 209.7 592.3 212.2 590.6 213.2 C589.0 214.2 589.5 215.4 591.4 214.8 Z"/><path d="M591.8 214.4 C592.8 212.7 594.7 206.9 596.1 203.9 C597.6 200.9 599.8 197.7 600.4 196.4 C601.1 195.1 600.8 194.9 599.9 196.1 C599.0 197.2 596.7 200.4 595.1 203.3 C593.4 206.3 590.7 211.8 590.2 213.6 C589.6 215.5 590.8 216.0 591.8 214.4 Z"/><path d="M574.3 227.1 C575.4 228.3 579.7 230.0 582.3 231.9 C585.0 233.8 588.9 237.8 590.4 238.7 C591.9 239.6 592.7 238.7 591.6 237.3 C590.5 235.9 586.3 232.2 583.7 230.1 C581.0 228.0 577.2 225.4 575.7 224.9 C574.1 224.4 573.2 225.9 574.3 227.1 Z"/><path d="M590.6 238.8 C592.3 239.8 597.8 242.3 601.4 243.3 C604.9 244.2 610.2 244.5 612.0 244.7 C613.8 244.8 613.8 244.5 612.1 244.1 C610.4 243.6 605.2 243.3 601.7 242.1 C598.2 241.0 593.2 237.7 591.4 237.2 C589.5 236.6 589.0 237.8 590.6 238.8 Z"/><path d="M590.2 238.4 C590.7 240.2 593.4 245.7 595.1 248.7 C596.7 251.6 599.0 254.8 599.9 255.9 C600.8 257.1 601.1 256.9 600.4 255.6 C599.8 254.3 597.6 251.1 596.1 248.1 C594.7 245.1 592.8 239.3 591.8 237.6 C590.8 236.0 589.6 236.5 590.2 238.4 Z"/><path d="M448.5 297.6 C465.2 293.6 473.2 279.6 498.0 279.6 C512.0 279.6 520.8 286.3 523.5 297.6 C520.8 306.9 512.0 312.3 498.0 312.3 C473.2 312.3 465.2 300.9 448.5 297.6 Z"/><path d="M452.5 296.3 C449.6 295.9 440.3 296.6 435.2 296.7 C430.2 296.8 424.2 296.7 422.0 297.1 C419.8 297.5 419.8 298.6 422.0 298.9 C424.2 299.2 430.2 298.9 435.3 298.9 C440.3 298.9 449.6 299.3 452.5 298.9 C455.4 298.5 455.4 296.7 452.5 296.3 Z"/><path d="M422.9 297.8 C422.7 296.2 421.6 291.7 420.0 288.7 C418.4 285.8 414.4 281.3 413.2 279.9 C412.0 278.4 411.8 278.6 412.8 280.1 C413.8 281.7 417.6 286.2 419.0 289.3 C420.4 292.3 420.5 296.8 421.1 298.2 C421.8 299.7 423.1 299.3 422.9 297.8 Z"/><path d="M422.2 297.1 C418.9 296.2 409.5 294.7 402.1 293.4 C394.7 292.2 382.1 290.3 378.0 289.8 C374.0 289.2 374.0 289.4 378.0 290.2 C381.9 291.0 394.6 293.1 401.9 294.6 C409.2 296.0 418.4 298.5 421.8 298.9 C425.2 299.3 425.5 298.0 422.2 297.1 Z"/><path d="M421.6 297.2 C418.3 298.7 409.7 304.1 402.8 307.5 C395.8 310.9 383.7 316.0 379.9 317.8 C376.1 319.6 376.2 319.8 380.1 318.2 C384.0 316.7 396.2 311.8 403.2 308.5 C410.3 305.3 419.4 300.7 422.4 298.8 C425.5 296.9 424.9 295.8 421.6 297.2 Z"/><path d="M421.5 297.2 C419.5 298.2 414.7 302.1 410.2 304.5 C405.8 306.9 397.4 310.5 394.9 311.8 C392.4 313.1 392.5 313.3 395.1 312.2 C397.7 311.2 406.2 307.8 410.8 305.5 C415.3 303.3 420.7 300.1 422.5 298.8 C424.3 297.4 423.6 296.3 421.5 297.2 Z"/><path d="M519.5 299.3 C524.5 299.8 540.0 299.0 549.3 298.8 C558.5 298.6 570.7 298.8 575.0 298.3 C579.3 297.8 579.3 296.1 575.0 295.7 C570.7 295.3 558.5 295.8 549.2 295.8 C540.0 295.8 524.4 295.3 519.5 295.9 C514.5 296.5 514.6 298.8 519.5 299.3 Z"/><path d="M575.7 298.1 C577.2 297.6 581.0 295.0 583.7 292.9 C586.3 290.8 590.5 287.1 591.6 285.7 C592.7 284.3 591.9 283.4 590.4 284.3 C588.9 285.2 585.0 289.2 582.3 291.1 C579.7 293.0 575.4 294.7 574.3 295.9 C573.2 297.1 574.1 298.6 575.7 298.1 Z"/><path d="M591.4 285.8 C593.2 285.3 598.2 282.0 601.7 280.9 C605.2 279.7 610.4 279.4 612.1 278.9 C613.8 278.5 613.8 278.2 612.0 278.3 C610.2 278.5 604.9 278.8 601.4 279.7 C597.8 280.7 592.3 283.2 590.6 284.2 C589.0 285.2 589.5 286.4 591.4 285.8 Z"/><path d="M591.8 285.4 C592.8 283.7 594.7 277.9 596.1 274.9 C597.6 271.9 599.8 268.7 600.4 267.4 C601.1 266.1 600.8 265.9 599.9 267.1 C599.0 268.2 596.7 271.4 595.1 274.3 C593.4 277.3 590.7 282.8 590.2 284.6 C589.6 286.5 590.8 287.0 591.8 285.4 Z"/><path d="M574.3 298.1 C575.4 299.3 579.7 301.0 582.3 302.9 C585.0 304.8 588.9 308.8 590.4 309.7 C591.9 310.6 592.7 309.7 591.6 308.3 C590.5 306.9 586.3 303.2 583.7 301.1 C581.0 299.0 577.2 296.4 575.7 295.9 C574.1 295.4 573.2 296.9 574.3 298.1 Z"/><path d="M590.6 309.8 C592.3 310.8 597.8 313.3 601.4 314.3 C604.9 315.2 610.2 315.5 612.0 315.7 C613.8 315.8 613.8 315.5 612.1 315.1 C610.4 314.6 605.2 314.3 601.7 313.1 C598.2 312.0 593.2 308.7 591.4 308.2 C589.5 307.6 589.0 308.8 590.6 309.8 Z"/><path d="M590.2 309.4 C590.7 311.2 593.4 316.7 595.1 319.7 C596.7 322.6 599.0 325.8 599.9 326.9 C600.8 328.1 601.1 327.9 600.4 326.6 C599.8 325.3 597.6 322.1 596.1 319.1 C594.7 316.1 592.8 310.3 591.8 308.6 C590.8 307.0 589.6 307.5 590.2 309.4 Z"/><path d="M461.5 353.0 C479.7 348.9 488.4 335.0 515.3 335.0 C530.5 335.0 540.1 341.7 543.0 353.0 C540.1 363.3 530.5 369.3 515.3 369.3 C488.4 369.3 479.7 356.7 461.5 353.0 Z"/><path d="M465.5 351.7 C461.5 351.3 449.0 351.8 441.8 351.9 C434.5 352.0 425.3 351.8 422.0 352.1 C418.7 352.4 418.7 353.6 422.0 353.9 C425.3 354.2 434.5 354.0 441.8 354.1 C449.0 354.2 461.5 354.7 465.5 354.3 C469.5 353.9 469.5 352.1 465.5 351.7 Z"/><path d="M422.9 352.9 C422.9 351.3 422.3 346.8 421.0 343.8 C419.8 340.8 416.3 336.3 415.2 334.9 C414.2 333.4 414.0 333.6 414.8 335.1 C415.6 336.7 418.9 341.2 420.0 344.2 C421.0 347.2 420.6 351.7 421.1 353.1 C421.6 354.6 422.9 354.4 422.9 352.9 Z"/><path d="M422.2 352.1 C419.1 351.2 410.1 349.7 403.1 348.4 C396.1 347.2 383.9 345.3 380.0 344.8 C376.2 344.2 376.1 344.4 380.0 345.2 C383.8 346.0 395.9 348.1 402.9 349.6 C409.9 351.0 418.6 353.5 421.8 353.9 C425.0 354.3 425.3 353.0 422.2 352.1 Z"/><path d="M421.6 352.2 C418.5 353.6 410.4 358.7 403.8 362.0 C397.1 365.2 385.5 370.1 381.9 371.8 C378.3 373.5 378.4 373.7 382.1 372.2 C385.8 370.8 397.5 366.1 404.2 363.0 C411.0 359.9 419.5 355.6 422.4 353.8 C425.3 352.0 424.7 350.8 421.6 352.2 Z"/><path d="M421.5 352.3 C419.7 353.3 415.6 357.4 411.7 360.0 C407.8 362.6 400.1 366.4 397.9 367.8 C395.6 369.1 395.7 369.4 398.1 368.2 C400.5 367.1 408.2 363.4 412.3 361.0 C416.4 358.6 421.0 355.2 422.5 353.7 C424.1 352.3 423.3 351.2 421.5 352.3 Z"/><path d="M539.0 354.7 C543.2 355.1 556.4 354.2 564.0 354.0 C571.7 353.8 581.5 353.8 585.0 353.3 C588.5 352.7 588.5 351.1 585.0 350.7 C581.5 350.3 571.6 350.9 564.0 351.0 C556.3 351.1 543.1 350.7 539.0 351.3 C534.8 351.9 534.9 354.2 539.0 354.7 Z"/><path d="M585.7 353.1 C587.2 352.6 591.0 350.0 593.7 347.9 C596.3 345.8 600.5 342.1 601.6 340.7 C602.7 339.3 601.9 338.4 600.4 339.3 C598.9 340.2 595.0 344.2 592.3 346.1 C589.7 348.0 585.4 349.7 584.3 350.9 C583.2 352.1 584.1 353.6 585.7 353.1 Z"/><path d="M601.4 340.8 C603.2 340.3 608.2 337.0 611.7 335.9 C615.2 334.7 620.4 334.4 622.1 333.9 C623.8 333.5 623.8 333.2 622.0 333.3 C620.2 333.5 614.9 333.8 611.4 334.7 C607.8 335.7 602.3 338.2 600.6 339.2 C599.0 340.2 599.5 341.4 601.4 340.8 Z"/><path d="M601.8 340.4 C602.8 338.7 604.7 332.9 606.1 329.9 C607.6 326.9 609.8 323.7 610.4 322.4 C611.1 321.1 610.8 320.9 609.9 322.1 C609.0 323.2 606.7 326.4 605.1 329.3 C603.4 332.3 600.7 337.8 600.2 339.6 C599.6 341.5 600.8 342.0 601.8 340.4 Z"/><path d="M584.3 353.1 C585.4 354.3 589.7 356.0 592.3 357.9 C595.0 359.8 598.9 363.8 600.4 364.7 C601.9 365.6 602.7 364.7 601.6 363.3 C600.5 361.9 596.3 358.2 593.7 356.1 C591.0 354.0 587.2 351.4 585.7 350.9 C584.1 350.4 583.2 351.9 584.3 353.1 Z"/><path d="M600.6 364.8 C602.3 365.8 607.8 368.3 611.4 369.3 C614.9 370.2 620.2 370.5 622.0 370.7 C623.8 370.8 623.8 370.5 622.1 370.1 C620.4 369.6 615.2 369.3 611.7 368.1 C608.2 367.0 603.2 363.7 601.4 363.2 C599.5 362.6 599.0 363.8 600.6 364.8 Z"/><path d="M600.2 364.4 C600.7 366.2 603.4 371.7 605.1 374.7 C606.7 377.6 609.0 380.8 609.9 381.9 C610.8 383.1 611.1 382.9 610.4 381.6 C609.8 380.3 607.6 377.1 606.1 374.1 C604.7 371.1 602.8 365.3 601.8 363.6 C600.8 362.0 599.6 362.5 600.2 364.4 Z"/></g><ellipse cx="499.8" cy="91" rx="6.5" ry="4.5" fill="#f07070"/><path d="M474.8 82.7 Q484.8 77.7 496.8 78.7" stroke="#ffd0d0" stroke-width="2.6" fill="none" stroke-linecap="round"/><ellipse cx="501.6" cy="154" rx="6.5" ry="4.5" fill="#f07070"/><path d="M486.7 144.8 Q496.7 139.8 508.7 140.8" stroke="#ffd0d0" stroke-width="2.6" fill="none" stroke-linecap="round"/><ellipse cx="502.6" cy="227" rx="6.5" ry="4.5" fill="#f07070"/><path d="M481.6 219.6 Q491.6 214.6 503.6 215.6" stroke="#ffd0d0" stroke-width="2.6" fill="none" stroke-linecap="round"/><ellipse cx="489.2" cy="297.6" rx="6.5" ry="4.5" fill="#f07070"/><path d="M479.8 288.6 Q489.8 283.6 501.8 284.6" stroke="#ffd0d0" stroke-width="2.6" fill="none" stroke-linecap="round"/><ellipse cx="513.7" cy="353" rx="6.5" ry="4.5" fill="#f07070"/><path d="M496.3 344.0 Q506.3 339.0 518.3 340.0" stroke="#ffd0d0" stroke-width="2.6" fill="none" stroke-linecap="round"/>
<g fill="#5f5f5f" stroke="#5f5f5f" stroke-width="2.0" stroke-linejoin="round"><path d="M624.8 59.7 C624.6 64.8 625.5 80.1 626.3 90.2 C627.2 100.3 629.1 110.2 629.9 120.2 C630.8 130.2 630.4 145.2 631.5 150.2 C632.6 155.1 636.1 154.9 636.5 149.8 C636.9 144.8 635.2 129.8 634.1 119.8 C632.9 109.8 630.8 99.9 629.7 89.8 C628.5 79.8 628.1 64.5 627.2 59.5 C626.4 54.5 624.9 54.6 624.8 59.7 Z"/><path d="M634.0 140.0 C634.0 168.5 659.0 174.8 659.0 203.4 C659.0 216.9 634.0 218.1 634.0 228.0 C634.0 218.1 609.0 216.9 609.0 203.4 C609.0 174.8 634.0 168.5 634.0 140.0 Z"/><path d="M633.0 221.6 C631.6 225.3 631.9 235.8 630.5 244.6 C629.2 253.4 627.2 265.0 625.1 274.5 C622.9 284.0 618.3 296.9 617.6 301.6 C616.8 306.2 618.5 306.8 620.4 302.4 C622.3 298.1 626.4 285.0 628.9 275.5 C631.4 266.0 633.8 254.3 635.5 245.4 C637.1 236.6 639.4 226.4 639.0 222.4 C638.6 218.4 634.4 217.9 633.0 221.6 Z"/><path d="M616.0 262.0 C616.0 297.6 636.0 305.6 636.0 341.2 C636.0 358.1 616.0 359.7 616.0 372.0 C616.0 359.7 592.8 358.1 592.8 341.2 C592.8 305.6 616.0 297.6 616.0 262.0 Z"/><path d="M614.6 365.9 C614.2 368.7 617.6 375.1 619.1 380.7 C620.6 386.2 622.0 396.3 623.6 399.2 C625.1 402.1 628.2 401.5 628.4 398.2 C628.7 394.9 626.1 385.0 624.9 379.3 C623.7 373.6 623.1 366.3 621.4 364.1 C619.7 361.9 615.0 363.1 614.6 365.9 Z"/></g><g fill="#9a9a9a"><path d="M624.8 59.7 C624.6 64.8 625.5 80.1 626.3 90.2 C627.2 100.3 629.1 110.2 629.9 120.2 C630.8 130.2 630.4 145.2 631.5 150.2 C632.6 155.1 636.1 154.9 636.5 149.8 C636.9 144.8 635.2 129.8 634.1 119.8 C632.9 109.8 630.8 99.9 629.7 89.8 C628.5 79.8 628.1 64.5 627.2 59.5 C626.4 54.5 624.9 54.6 624.8 59.7 Z"/><path d="M634.0 140.0 C634.0 168.5 659.0 174.8 659.0 203.4 C659.0 216.9 634.0 218.1 634.0 228.0 C634.0 218.1 609.0 216.9 609.0 203.4 C609.0 174.8 634.0 168.5 634.0 140.0 Z"/><path d="M633.0 221.6 C631.6 225.3 631.9 235.8 630.5 244.6 C629.2 253.4 627.2 265.0 625.1 274.5 C622.9 284.0 618.3 296.9 617.6 301.6 C616.8 306.2 618.5 306.8 620.4 302.4 C622.3 298.1 626.4 285.0 628.9 275.5 C631.4 266.0 633.8 254.3 635.5 245.4 C637.1 236.6 639.4 226.4 639.0 222.4 C638.6 218.4 634.4 217.9 633.0 221.6 Z"/><path d="M616.0 262.0 C616.0 297.6 636.0 305.6 636.0 341.2 C636.0 358.1 616.0 359.7 616.0 372.0 C616.0 359.7 592.8 358.1 592.8 341.2 C592.8 305.6 616.0 297.6 616.0 262.0 Z"/><path d="M614.6 365.9 C614.2 368.7 617.6 375.1 619.1 380.7 C620.6 386.2 622.0 396.3 623.6 399.2 C625.1 402.1 628.2 401.5 628.4 398.2 C628.7 394.9 626.1 385.0 624.9 379.3 C623.7 373.6 623.1 366.3 621.4 364.1 C619.7 361.9 615.0 363.1 614.6 365.9 Z"/></g><ellipse cx="637.6" cy="199.8" rx="6" ry="8" fill="#6e6e6e"/><ellipse cx="615.9" cy="344.8" rx="6" ry="9" fill="#6e6e6e"/><path d="M628 170 q-5 10 -5 26 M608 318 q-6 10 -7 26" stroke="#cfcfcf" stroke-width="2.6" fill="none" stroke-linecap="round"/>
<clipPath id="gclip"><rect x="0" y="0" width="900" height="399.5"/></clipPath>
<g clip-path="url(#gclip)"><g fill="#a9682c" stroke="#a9682c" stroke-width="2.0" stroke-linejoin="round"><path d="M649.0 80.8 C656.4 73.2 664.0 62.0 679.0 62.0 C703.8 62.0 708.2 80.8 724.0 80.8 C708.2 80.8 703.8 101.5 679.0 101.5 C664.0 101.5 656.4 89.2 649.0 80.8 Z"/><path d="M653.3 79.2 C651.7 77.0 645.3 72.8 641.1 68.9 C636.9 65.0 632.8 57.0 627.9 55.8 C623.0 54.6 614.4 60.6 611.7 61.8 C609.1 63.0 609.7 63.8 612.3 63.2 C614.8 62.6 622.9 56.7 627.3 58.0 C631.7 59.3 635.0 67.1 638.9 71.1 C642.8 75.2 648.3 80.8 650.7 82.2 C653.1 83.5 654.9 81.4 653.3 79.2 Z"/><path d="M650.5 79.4 C648.0 81.4 642.4 89.5 638.9 94.1 C635.4 98.8 630.8 104.9 629.4 107.2 C628.0 109.6 628.6 110.1 630.6 108.2 C632.5 106.3 637.2 100.2 641.1 95.9 C644.9 91.5 652.0 84.7 653.5 82.0 C655.1 79.2 652.9 77.4 650.5 79.4 Z"/><path d="M639.4 70.1 C635.9 70.5 625.0 74.9 619.6 76.7 C614.3 78.4 609.3 79.8 607.3 80.7 C605.3 81.6 605.5 82.3 607.7 82.1 C609.9 81.9 614.9 80.7 620.4 79.3 C625.9 78.0 637.4 75.5 640.6 73.9 C643.7 72.4 642.9 69.6 639.4 70.1 Z"/><path d="M722.1 80.8 C726.8 81.3 742.4 78.5 750.2 79.9 C758.0 81.3 764.0 84.1 768.7 89.2 C773.4 94.2 776.2 98.5 778.3 110.3 C780.5 122.1 780.7 108.4 781.4 160.0 C782.0 211.6 781.7 376.7 782.4 420.0 C783.1 463.3 785.2 463.3 785.6 420.0 C786.0 376.7 785.3 211.7 784.6 160.0 C784.0 108.3 783.9 121.9 781.7 109.7 C779.4 97.5 776.4 92.4 771.3 86.8 C766.1 81.3 759.0 78.1 750.8 76.5 C742.6 74.9 726.7 76.5 721.9 77.2 C717.2 77.9 717.3 80.3 722.1 80.8 Z"/><path d="M634.0 128.7 C640.5 120.9 647.2 109.5 660.4 109.5 C682.2 109.5 686.1 128.7 700.0 128.7 C686.1 128.7 682.2 148.0 660.4 148.0 C647.2 148.0 640.5 136.5 634.0 128.7 Z"/><path d="M636.8 126.9 C634.3 125.2 625.5 122.1 620.4 120.7 C615.4 119.3 608.8 118.4 606.5 118.3 C604.1 118.1 604.0 118.9 606.1 119.7 C608.3 120.6 614.7 121.5 619.6 123.3 C624.4 125.1 632.4 130.0 635.2 130.5 C638.1 131.1 639.2 128.5 636.8 126.9 Z"/><path d="M635.2 126.9 C632.3 127.6 624.8 132.6 619.5 134.7 C614.3 136.8 606.2 138.5 603.6 139.6 C601.0 140.6 601.2 141.4 604.0 141.0 C606.8 140.6 615.0 139.0 620.5 137.3 C625.9 135.5 634.4 132.3 636.8 130.5 C639.3 128.8 638.1 126.2 635.2 126.9 Z"/><path d="M631.8 123.1 C631.0 120.2 625.7 111.7 623.2 107.4 C620.7 103.1 618.2 98.9 617.0 97.3 C615.7 95.8 615.0 96.2 615.6 98.1 C616.3 99.9 618.7 104.2 620.8 108.6 C622.9 113.1 626.4 122.5 628.2 124.9 C630.0 127.3 632.6 126.0 631.8 123.1 Z"/><path d="M628.4 131.8 C625.9 134.3 620.9 144.0 616.9 149.1 C613.0 154.2 606.4 160.0 604.5 162.4 C602.6 164.8 603.1 165.3 605.5 163.4 C608.0 161.5 614.7 155.8 619.1 150.9 C623.4 146.0 630.1 137.3 631.6 134.2 C633.2 131.0 630.8 129.4 628.4 131.8 Z"/><path d="M697.8 130.8 C707.5 132.2 743.2 132.4 756.4 135.7 C769.5 139.0 771.5 141.8 776.5 150.8 C781.5 159.9 784.4 145.2 786.4 190.1 C788.3 234.9 787.5 381.7 788.4 420.0 C789.3 458.3 791.4 458.3 791.6 420.0 C791.8 381.6 791.7 235.1 789.6 189.9 C787.6 144.8 784.9 158.8 779.5 149.2 C774.1 139.6 770.8 136.0 757.2 132.3 C743.7 128.6 708.1 127.5 698.2 127.2 C688.3 127.0 688.1 129.4 697.8 130.8 Z"/><path d="M644.0 166.5 C651.9 159.6 660.0 149.5 676.0 149.5 C702.4 149.5 707.2 166.5 724.0 166.5 C707.2 166.5 702.4 183.0 676.0 183.0 C660.0 183.0 651.9 173.2 644.0 166.5 Z"/><path d="M647.9 165.9 C648.1 164.7 646.1 161.4 645.3 159.6 C644.5 157.8 643.9 155.8 643.3 155.2 C642.7 154.5 642.0 154.7 641.9 155.6 C641.8 156.5 642.3 158.5 642.7 160.4 C643.1 162.3 643.2 166.2 644.1 167.1 C645.0 168.0 647.7 167.2 647.9 165.9 Z"/><path d="M721.7 167.8 C726.4 169.1 740.5 169.5 750.0 172.1 C759.6 174.7 771.7 178.7 779.1 183.4 C786.4 188.1 791.2 160.7 794.1 200.1 C796.9 239.6 795.5 383.4 796.4 420.0 C797.3 456.7 799.4 456.7 799.6 420.0 C799.8 383.3 800.5 239.8 797.3 199.9 C794.2 160.0 788.7 185.8 780.9 180.6 C773.2 175.4 760.7 171.4 751.0 168.7 C741.2 166.0 727.1 164.4 722.3 164.2 C717.4 164.1 717.1 166.5 721.7 167.8 Z"/><path d="M638.0 211.0 C646.5 204.3 655.2 194.5 672.4 194.5 C700.8 194.5 705.9 211.0 724.0 211.0 C705.9 211.0 700.8 230.0 672.4 230.0 C655.2 230.0 646.5 218.7 638.0 211.0 Z"/><path d="M641.7 209.1 C639.3 207.6 630.5 206.1 625.6 203.8 C620.8 201.5 614.8 196.6 612.4 195.4 C610.1 194.2 609.6 194.8 611.6 196.6 C613.6 198.4 619.6 203.5 624.4 206.2 C629.2 208.9 637.4 212.4 640.3 212.9 C643.2 213.4 644.1 210.6 641.7 209.1 Z"/><path d="M639.7 209.5 C637.2 210.9 631.1 217.0 627.1 221.0 C623.0 225.0 617.2 231.2 615.5 233.5 C613.7 235.7 614.3 236.3 616.5 234.5 C618.8 232.8 624.6 226.7 628.9 223.0 C633.2 219.3 640.5 214.8 642.3 212.5 C644.1 210.3 642.2 208.1 639.7 209.5 Z"/><path d="M626.3 205.0 C624.5 207.0 622.6 216.2 619.2 218.9 C615.8 221.6 608.1 220.6 605.9 221.3 C603.7 221.9 603.6 222.8 606.1 222.7 C608.6 222.7 616.9 223.7 620.8 221.1 C624.7 218.5 628.8 209.7 629.7 207.0 C630.6 204.3 628.0 203.0 626.3 205.0 Z"/><path d="M722.3 211.8 C728.7 211.4 751.4 202.5 760.4 205.6 C769.4 208.8 773.1 220.6 776.4 230.6 C779.7 240.5 778.9 233.5 780.4 265.1 C781.9 296.7 784.0 394.2 785.4 420.1 C786.8 445.9 788.9 445.8 788.6 419.9 C788.3 394.1 785.1 296.7 783.6 264.9 C782.1 233.2 783.3 239.9 779.6 229.4 C775.9 219.0 771.2 205.9 761.6 202.4 C751.9 198.8 728.3 206.6 721.7 208.2 C715.2 209.8 715.8 212.2 722.3 211.8 Z"/><path d="M648.0 264.0 C657.9 256.3 668.0 245.0 688.0 245.0 C721.0 245.0 727.0 264.0 748.0 264.0 C727.0 264.0 721.0 283.5 688.0 283.5 C668.0 283.5 657.9 271.9 648.0 264.0 Z"/><path d="M650.9 262.2 C648.6 260.4 643.1 256.2 635.3 254.7 C627.5 253.2 609.3 253.2 604.0 253.3 C598.8 253.3 598.8 254.1 604.0 254.7 C609.1 255.4 627.2 255.5 634.7 257.3 C642.2 259.2 646.4 264.9 649.1 265.8 C651.8 266.6 653.2 264.1 650.9 262.2 Z"/><path d="M648.5 262.7 C646.5 264.1 645.0 270.7 639.4 273.8 C633.8 276.9 618.8 279.8 614.8 281.3 C610.8 282.8 610.9 283.6 615.2 282.7 C619.5 281.9 634.6 279.1 640.6 276.2 C646.7 273.3 650.2 267.6 651.5 265.3 C652.8 263.1 650.5 261.2 648.5 262.7 Z"/><path d="M641.8 262.9 C643.1 261.5 645.1 255.1 646.2 252.7 C647.3 250.3 648.4 249.3 648.6 248.4 C648.8 247.6 648.2 247.1 647.4 247.6 C646.6 248.0 645.3 249.1 643.8 251.3 C642.3 253.6 638.5 259.2 638.2 261.1 C637.9 263.0 640.5 264.3 641.8 262.9 Z"/><path d="M641.6 256.8 C640.3 254.3 635.3 248.3 631.0 244.0 C626.6 239.8 618.2 233.3 615.5 231.4 C612.7 229.5 612.3 230.1 614.5 232.6 C616.8 235.0 625.0 241.5 629.0 246.0 C633.0 250.4 636.3 257.4 638.4 259.2 C640.5 261.0 642.8 259.3 641.6 256.8 Z"/><path d="M745.5 267.7 C750.0 269.7 766.0 270.9 774.0 276.4 C782.0 281.9 788.1 290.1 793.5 300.8 C798.9 311.4 803.9 320.3 806.4 340.2 C808.8 360.1 807.5 406.7 808.4 420.0 C809.3 433.3 811.4 433.3 811.6 420.0 C811.8 406.6 812.2 359.9 809.6 339.8 C807.1 319.7 802.1 310.3 796.5 299.2 C790.9 288.2 784.3 279.4 776.0 273.6 C767.7 267.7 751.6 265.3 746.5 264.3 C741.4 263.3 740.9 265.7 745.5 267.7 Z"/><path d="M638.0 314.0 C647.9 305.5 658.0 293.0 678.0 293.0 C711.0 293.0 717.0 314.0 738.0 314.0 C717.0 314.0 711.0 336.0 678.0 336.0 C658.0 336.0 647.9 322.9 638.0 314.0 Z"/><path d="M641.0 312.3 C638.8 310.3 632.2 305.5 625.4 303.7 C618.6 301.8 604.3 301.4 600.1 301.3 C595.8 301.1 595.8 301.9 599.9 302.7 C604.0 303.6 618.1 304.2 624.6 306.3 C631.1 308.5 636.2 314.7 639.0 315.7 C641.7 316.7 643.3 314.3 641.0 312.3 Z"/><path d="M639.1 312.2 C636.3 313.1 629.6 317.9 624.4 320.8 C619.2 323.6 610.4 327.7 607.7 329.3 C605.0 331.0 605.3 331.7 608.3 330.7 C611.3 329.7 620.2 325.7 625.6 323.2 C631.1 320.7 638.7 317.6 640.9 315.8 C643.2 313.9 641.8 311.4 639.1 312.2 Z"/><path d="M631.6 306.8 C630.3 304.2 624.2 296.9 621.0 294.0 C617.8 291.1 614.0 289.9 612.4 289.4 C610.8 288.8 610.5 289.5 611.6 290.6 C612.7 291.7 616.2 292.9 619.0 296.0 C621.8 299.1 626.3 307.4 628.4 309.2 C630.5 311.0 632.8 309.3 631.6 306.8 Z"/><path d="M736.1 313.8 C740.7 314.2 757.1 309.7 763.8 312.6 C770.6 315.5 770.9 323.0 776.6 331.0 C782.4 339.0 794.1 345.6 798.4 360.5 C802.7 375.3 801.2 410.2 802.4 420.1 C803.6 430.0 805.7 430.0 805.6 419.9 C805.5 409.8 806.0 374.7 801.6 359.5 C797.2 344.4 785.4 337.4 779.4 329.0 C773.3 320.6 772.4 312.5 765.2 309.4 C757.9 306.3 740.8 309.5 735.9 310.2 C731.1 310.9 731.4 313.4 736.1 313.8 Z"/><path d="M638.0 371.0 C646.5 363.9 655.2 353.5 672.4 353.5 C700.8 353.5 705.9 371.0 724.0 371.0 C705.9 371.0 700.8 387.5 672.4 387.5 C655.2 387.5 646.5 377.7 638.0 371.0 Z"/><path d="M640.8 369.2 C637.7 367.2 628.5 363.2 620.4 360.7 C612.3 358.2 597.0 355.1 592.2 354.3 C587.4 353.4 587.3 354.2 591.8 355.7 C596.4 357.2 611.7 360.5 619.6 363.3 C627.5 366.2 635.6 371.8 639.2 372.8 C642.7 373.8 643.9 371.2 640.8 369.2 Z"/><path d="M639.4 369.1 C635.9 369.5 626.6 374.0 619.7 375.7 C612.8 377.4 601.5 378.4 597.9 379.3 C594.3 380.1 594.4 380.9 598.1 380.7 C601.8 380.6 613.2 379.6 620.3 378.3 C627.4 377.0 637.4 374.5 640.6 372.9 C643.8 371.4 642.9 368.6 639.4 369.1 Z"/><path d="M633.9 365.5 C633.8 363.0 629.9 357.8 629.4 351.9 C628.8 346.0 630.8 333.7 630.7 330.1 C630.7 326.4 629.9 326.3 629.3 329.9 C628.6 333.6 626.5 346.0 626.6 352.1 C626.8 358.2 628.9 364.3 630.1 366.5 C631.3 368.8 634.0 367.9 633.9 365.5 Z"/><path d="M628.4 372.8 C626.6 374.3 623.5 381.0 621.0 384.1 C618.5 387.2 614.6 390.0 613.5 391.4 C612.4 392.8 612.9 393.5 614.5 392.6 C616.1 391.6 620.2 388.8 623.0 385.9 C625.9 383.0 630.7 377.4 631.6 375.2 C632.5 373.0 630.2 371.3 628.4 372.8 Z"/><path d="M722.0 370.8 C728.2 371.2 748.8 368.0 759.1 369.7 C769.4 371.5 778.3 376.5 783.9 381.3 C789.4 386.1 790.7 392.0 792.4 398.4 C794.2 404.9 793.5 416.6 794.4 420.1 C795.3 423.7 797.4 423.6 797.6 419.9 C797.8 416.1 797.5 404.4 795.6 397.6 C793.7 390.7 792.1 383.9 786.1 378.7 C780.1 373.5 770.4 368.2 759.7 366.3 C749.0 364.4 728.2 366.4 722.0 367.2 C715.7 368.0 715.9 370.4 722.0 370.8 Z"/><path d="M782.4 150.5 C784.5 159.0 793.7 175.4 798.3 200.3 C803.0 225.2 808.1 263.5 810.3 300.1 C812.5 336.7 810.6 400.0 811.3 420.0 C812.0 440.0 814.3 440.0 814.7 420.0 C815.1 400.0 815.9 336.6 813.7 299.9 C811.5 263.2 806.4 224.8 801.7 199.7 C797.0 174.6 788.8 157.7 785.6 149.5 C782.4 141.3 780.3 142.0 782.4 150.5 Z"/><path d="M784.3 250.3 C785.1 258.7 790.0 283.6 792.3 300.2 C794.6 316.9 797.1 330.1 798.3 350.1 C799.5 370.1 798.6 408.4 799.3 420.0 C800.0 431.7 802.3 431.7 802.7 420.0 C803.1 408.3 802.9 369.9 801.7 349.9 C800.5 329.9 798.0 316.5 795.7 299.8 C793.3 283.1 789.6 258.0 787.7 249.7 C785.8 241.5 783.5 241.9 784.3 250.3 Z"/></g><g fill="#eca263"><path d="M649.0 80.8 C656.4 73.2 664.0 62.0 679.0 62.0 C703.8 62.0 708.2 80.8 724.0 80.8 C708.2 80.8 703.8 101.5 679.0 101.5 C664.0 101.5 656.4 89.2 649.0 80.8 Z"/><path d="M653.3 79.2 C651.7 77.0 645.3 72.8 641.1 68.9 C636.9 65.0 632.8 57.0 627.9 55.8 C623.0 54.6 614.4 60.6 611.7 61.8 C609.1 63.0 609.7 63.8 612.3 63.2 C614.8 62.6 622.9 56.7 627.3 58.0 C631.7 59.3 635.0 67.1 638.9 71.1 C642.8 75.2 648.3 80.8 650.7 82.2 C653.1 83.5 654.9 81.4 653.3 79.2 Z"/><path d="M650.5 79.4 C648.0 81.4 642.4 89.5 638.9 94.1 C635.4 98.8 630.8 104.9 629.4 107.2 C628.0 109.6 628.6 110.1 630.6 108.2 C632.5 106.3 637.2 100.2 641.1 95.9 C644.9 91.5 652.0 84.7 653.5 82.0 C655.1 79.2 652.9 77.4 650.5 79.4 Z"/><path d="M639.4 70.1 C635.9 70.5 625.0 74.9 619.6 76.7 C614.3 78.4 609.3 79.8 607.3 80.7 C605.3 81.6 605.5 82.3 607.7 82.1 C609.9 81.9 614.9 80.7 620.4 79.3 C625.9 78.0 637.4 75.5 640.6 73.9 C643.7 72.4 642.9 69.6 639.4 70.1 Z"/><path d="M722.1 80.8 C726.8 81.3 742.4 78.5 750.2 79.9 C758.0 81.3 764.0 84.1 768.7 89.2 C773.4 94.2 776.2 98.5 778.3 110.3 C780.5 122.1 780.7 108.4 781.4 160.0 C782.0 211.6 781.7 376.7 782.4 420.0 C783.1 463.3 785.2 463.3 785.6 420.0 C786.0 376.7 785.3 211.7 784.6 160.0 C784.0 108.3 783.9 121.9 781.7 109.7 C779.4 97.5 776.4 92.4 771.3 86.8 C766.1 81.3 759.0 78.1 750.8 76.5 C742.6 74.9 726.7 76.5 721.9 77.2 C717.2 77.9 717.3 80.3 722.1 80.8 Z"/><path d="M634.0 128.7 C640.5 120.9 647.2 109.5 660.4 109.5 C682.2 109.5 686.1 128.7 700.0 128.7 C686.1 128.7 682.2 148.0 660.4 148.0 C647.2 148.0 640.5 136.5 634.0 128.7 Z"/><path d="M636.8 126.9 C634.3 125.2 625.5 122.1 620.4 120.7 C615.4 119.3 608.8 118.4 606.5 118.3 C604.1 118.1 604.0 118.9 606.1 119.7 C608.3 120.6 614.7 121.5 619.6 123.3 C624.4 125.1 632.4 130.0 635.2 130.5 C638.1 131.1 639.2 128.5 636.8 126.9 Z"/><path d="M635.2 126.9 C632.3 127.6 624.8 132.6 619.5 134.7 C614.3 136.8 606.2 138.5 603.6 139.6 C601.0 140.6 601.2 141.4 604.0 141.0 C606.8 140.6 615.0 139.0 620.5 137.3 C625.9 135.5 634.4 132.3 636.8 130.5 C639.3 128.8 638.1 126.2 635.2 126.9 Z"/><path d="M631.8 123.1 C631.0 120.2 625.7 111.7 623.2 107.4 C620.7 103.1 618.2 98.9 617.0 97.3 C615.7 95.8 615.0 96.2 615.6 98.1 C616.3 99.9 618.7 104.2 620.8 108.6 C622.9 113.1 626.4 122.5 628.2 124.9 C630.0 127.3 632.6 126.0 631.8 123.1 Z"/><path d="M628.4 131.8 C625.9 134.3 620.9 144.0 616.9 149.1 C613.0 154.2 606.4 160.0 604.5 162.4 C602.6 164.8 603.1 165.3 605.5 163.4 C608.0 161.5 614.7 155.8 619.1 150.9 C623.4 146.0 630.1 137.3 631.6 134.2 C633.2 131.0 630.8 129.4 628.4 131.8 Z"/><path d="M697.8 130.8 C707.5 132.2 743.2 132.4 756.4 135.7 C769.5 139.0 771.5 141.8 776.5 150.8 C781.5 159.9 784.4 145.2 786.4 190.1 C788.3 234.9 787.5 381.7 788.4 420.0 C789.3 458.3 791.4 458.3 791.6 420.0 C791.8 381.6 791.7 235.1 789.6 189.9 C787.6 144.8 784.9 158.8 779.5 149.2 C774.1 139.6 770.8 136.0 757.2 132.3 C743.7 128.6 708.1 127.5 698.2 127.2 C688.3 127.0 688.1 129.4 697.8 130.8 Z"/><path d="M644.0 166.5 C651.9 159.6 660.0 149.5 676.0 149.5 C702.4 149.5 707.2 166.5 724.0 166.5 C707.2 166.5 702.4 183.0 676.0 183.0 C660.0 183.0 651.9 173.2 644.0 166.5 Z"/><path d="M647.9 165.9 C648.1 164.7 646.1 161.4 645.3 159.6 C644.5 157.8 643.9 155.8 643.3 155.2 C642.7 154.5 642.0 154.7 641.9 155.6 C641.8 156.5 642.3 158.5 642.7 160.4 C643.1 162.3 643.2 166.2 644.1 167.1 C645.0 168.0 647.7 167.2 647.9 165.9 Z"/><path d="M721.7 167.8 C726.4 169.1 740.5 169.5 750.0 172.1 C759.6 174.7 771.7 178.7 779.1 183.4 C786.4 188.1 791.2 160.7 794.1 200.1 C796.9 239.6 795.5 383.4 796.4 420.0 C797.3 456.7 799.4 456.7 799.6 420.0 C799.8 383.3 800.5 239.8 797.3 199.9 C794.2 160.0 788.7 185.8 780.9 180.6 C773.2 175.4 760.7 171.4 751.0 168.7 C741.2 166.0 727.1 164.4 722.3 164.2 C717.4 164.1 717.1 166.5 721.7 167.8 Z"/><path d="M638.0 211.0 C646.5 204.3 655.2 194.5 672.4 194.5 C700.8 194.5 705.9 211.0 724.0 211.0 C705.9 211.0 700.8 230.0 672.4 230.0 C655.2 230.0 646.5 218.7 638.0 211.0 Z"/><path d="M641.7 209.1 C639.3 207.6 630.5 206.1 625.6 203.8 C620.8 201.5 614.8 196.6 612.4 195.4 C610.1 194.2 609.6 194.8 611.6 196.6 C613.6 198.4 619.6 203.5 624.4 206.2 C629.2 208.9 637.4 212.4 640.3 212.9 C643.2 213.4 644.1 210.6 641.7 209.1 Z"/><path d="M639.7 209.5 C637.2 210.9 631.1 217.0 627.1 221.0 C623.0 225.0 617.2 231.2 615.5 233.5 C613.7 235.7 614.3 236.3 616.5 234.5 C618.8 232.8 624.6 226.7 628.9 223.0 C633.2 219.3 640.5 214.8 642.3 212.5 C644.1 210.3 642.2 208.1 639.7 209.5 Z"/><path d="M626.3 205.0 C624.5 207.0 622.6 216.2 619.2 218.9 C615.8 221.6 608.1 220.6 605.9 221.3 C603.7 221.9 603.6 222.8 606.1 222.7 C608.6 222.7 616.9 223.7 620.8 221.1 C624.7 218.5 628.8 209.7 629.7 207.0 C630.6 204.3 628.0 203.0 626.3 205.0 Z"/><path d="M722.3 211.8 C728.7 211.4 751.4 202.5 760.4 205.6 C769.4 208.8 773.1 220.6 776.4 230.6 C779.7 240.5 778.9 233.5 780.4 265.1 C781.9 296.7 784.0 394.2 785.4 420.1 C786.8 445.9 788.9 445.8 788.6 419.9 C788.3 394.1 785.1 296.7 783.6 264.9 C782.1 233.2 783.3 239.9 779.6 229.4 C775.9 219.0 771.2 205.9 761.6 202.4 C751.9 198.8 728.3 206.6 721.7 208.2 C715.2 209.8 715.8 212.2 722.3 211.8 Z"/><path d="M648.0 264.0 C657.9 256.3 668.0 245.0 688.0 245.0 C721.0 245.0 727.0 264.0 748.0 264.0 C727.0 264.0 721.0 283.5 688.0 283.5 C668.0 283.5 657.9 271.9 648.0 264.0 Z"/><path d="M650.9 262.2 C648.6 260.4 643.1 256.2 635.3 254.7 C627.5 253.2 609.3 253.2 604.0 253.3 C598.8 253.3 598.8 254.1 604.0 254.7 C609.1 255.4 627.2 255.5 634.7 257.3 C642.2 259.2 646.4 264.9 649.1 265.8 C651.8 266.6 653.2 264.1 650.9 262.2 Z"/><path d="M648.5 262.7 C646.5 264.1 645.0 270.7 639.4 273.8 C633.8 276.9 618.8 279.8 614.8 281.3 C610.8 282.8 610.9 283.6 615.2 282.7 C619.5 281.9 634.6 279.1 640.6 276.2 C646.7 273.3 650.2 267.6 651.5 265.3 C652.8 263.1 650.5 261.2 648.5 262.7 Z"/><path d="M641.8 262.9 C643.1 261.5 645.1 255.1 646.2 252.7 C647.3 250.3 648.4 249.3 648.6 248.4 C648.8 247.6 648.2 247.1 647.4 247.6 C646.6 248.0 645.3 249.1 643.8 251.3 C642.3 253.6 638.5 259.2 638.2 261.1 C637.9 263.0 640.5 264.3 641.8 262.9 Z"/><path d="M641.6 256.8 C640.3 254.3 635.3 248.3 631.0 244.0 C626.6 239.8 618.2 233.3 615.5 231.4 C612.7 229.5 612.3 230.1 614.5 232.6 C616.8 235.0 625.0 241.5 629.0 246.0 C633.0 250.4 636.3 257.4 638.4 259.2 C640.5 261.0 642.8 259.3 641.6 256.8 Z"/><path d="M745.5 267.7 C750.0 269.7 766.0 270.9 774.0 276.4 C782.0 281.9 788.1 290.1 793.5 300.8 C798.9 311.4 803.9 320.3 806.4 340.2 C808.8 360.1 807.5 406.7 808.4 420.0 C809.3 433.3 811.4 433.3 811.6 420.0 C811.8 406.6 812.2 359.9 809.6 339.8 C807.1 319.7 802.1 310.3 796.5 299.2 C790.9 288.2 784.3 279.4 776.0 273.6 C767.7 267.7 751.6 265.3 746.5 264.3 C741.4 263.3 740.9 265.7 745.5 267.7 Z"/><path d="M638.0 314.0 C647.9 305.5 658.0 293.0 678.0 293.0 C711.0 293.0 717.0 314.0 738.0 314.0 C717.0 314.0 711.0 336.0 678.0 336.0 C658.0 336.0 647.9 322.9 638.0 314.0 Z"/><path d="M641.0 312.3 C638.8 310.3 632.2 305.5 625.4 303.7 C618.6 301.8 604.3 301.4 600.1 301.3 C595.8 301.1 595.8 301.9 599.9 302.7 C604.0 303.6 618.1 304.2 624.6 306.3 C631.1 308.5 636.2 314.7 639.0 315.7 C641.7 316.7 643.3 314.3 641.0 312.3 Z"/><path d="M639.1 312.2 C636.3 313.1 629.6 317.9 624.4 320.8 C619.2 323.6 610.4 327.7 607.7 329.3 C605.0 331.0 605.3 331.7 608.3 330.7 C611.3 329.7 620.2 325.7 625.6 323.2 C631.1 320.7 638.7 317.6 640.9 315.8 C643.2 313.9 641.8 311.4 639.1 312.2 Z"/><path d="M631.6 306.8 C630.3 304.2 624.2 296.9 621.0 294.0 C617.8 291.1 614.0 289.9 612.4 289.4 C610.8 288.8 610.5 289.5 611.6 290.6 C612.7 291.7 616.2 292.9 619.0 296.0 C621.8 299.1 626.3 307.4 628.4 309.2 C630.5 311.0 632.8 309.3 631.6 306.8 Z"/><path d="M736.1 313.8 C740.7 314.2 757.1 309.7 763.8 312.6 C770.6 315.5 770.9 323.0 776.6 331.0 C782.4 339.0 794.1 345.6 798.4 360.5 C802.7 375.3 801.2 410.2 802.4 420.1 C803.6 430.0 805.7 430.0 805.6 419.9 C805.5 409.8 806.0 374.7 801.6 359.5 C797.2 344.4 785.4 337.4 779.4 329.0 C773.3 320.6 772.4 312.5 765.2 309.4 C757.9 306.3 740.8 309.5 735.9 310.2 C731.1 310.9 731.4 313.4 736.1 313.8 Z"/><path d="M638.0 371.0 C646.5 363.9 655.2 353.5 672.4 353.5 C700.8 353.5 705.9 371.0 724.0 371.0 C705.9 371.0 700.8 387.5 672.4 387.5 C655.2 387.5 646.5 377.7 638.0 371.0 Z"/><path d="M640.8 369.2 C637.7 367.2 628.5 363.2 620.4 360.7 C612.3 358.2 597.0 355.1 592.2 354.3 C587.4 353.4 587.3 354.2 591.8 355.7 C596.4 357.2 611.7 360.5 619.6 363.3 C627.5 366.2 635.6 371.8 639.2 372.8 C642.7 373.8 643.9 371.2 640.8 369.2 Z"/><path d="M639.4 369.1 C635.9 369.5 626.6 374.0 619.7 375.7 C612.8 377.4 601.5 378.4 597.9 379.3 C594.3 380.1 594.4 380.9 598.1 380.7 C601.8 380.6 613.2 379.6 620.3 378.3 C627.4 377.0 637.4 374.5 640.6 372.9 C643.8 371.4 642.9 368.6 639.4 369.1 Z"/><path d="M633.9 365.5 C633.8 363.0 629.9 357.8 629.4 351.9 C628.8 346.0 630.8 333.7 630.7 330.1 C630.7 326.4 629.9 326.3 629.3 329.9 C628.6 333.6 626.5 346.0 626.6 352.1 C626.8 358.2 628.9 364.3 630.1 366.5 C631.3 368.8 634.0 367.9 633.9 365.5 Z"/><path d="M628.4 372.8 C626.6 374.3 623.5 381.0 621.0 384.1 C618.5 387.2 614.6 390.0 613.5 391.4 C612.4 392.8 612.9 393.5 614.5 392.6 C616.1 391.6 620.2 388.8 623.0 385.9 C625.9 383.0 630.7 377.4 631.6 375.2 C632.5 373.0 630.2 371.3 628.4 372.8 Z"/><path d="M722.0 370.8 C728.2 371.2 748.8 368.0 759.1 369.7 C769.4 371.5 778.3 376.5 783.9 381.3 C789.4 386.1 790.7 392.0 792.4 398.4 C794.2 404.9 793.5 416.6 794.4 420.1 C795.3 423.7 797.4 423.6 797.6 419.9 C797.8 416.1 797.5 404.4 795.6 397.6 C793.7 390.7 792.1 383.9 786.1 378.7 C780.1 373.5 770.4 368.2 759.7 366.3 C749.0 364.4 728.2 366.4 722.0 367.2 C715.7 368.0 715.9 370.4 722.0 370.8 Z"/><path d="M782.4 150.5 C784.5 159.0 793.7 175.4 798.3 200.3 C803.0 225.2 808.1 263.5 810.3 300.1 C812.5 336.7 810.6 400.0 811.3 420.0 C812.0 440.0 814.3 440.0 814.7 420.0 C815.1 400.0 815.9 336.6 813.7 299.9 C811.5 263.2 806.4 224.8 801.7 199.7 C797.0 174.6 788.8 157.7 785.6 149.5 C782.4 141.3 780.3 142.0 782.4 150.5 Z"/><path d="M784.3 250.3 C785.1 258.7 790.0 283.6 792.3 300.2 C794.6 316.9 797.1 330.1 798.3 350.1 C799.5 370.1 798.6 408.4 799.3 420.0 C800.0 431.7 802.3 431.7 802.7 420.0 C803.1 408.3 802.9 369.9 801.7 349.9 C800.5 329.9 798.0 316.5 795.7 299.8 C793.3 283.1 789.6 258.0 787.7 249.7 C785.8 241.5 783.5 241.9 784.3 250.3 Z"/></g><ellipse cx="690.3" cy="80.7" rx="6.5" ry="5" fill="#9a6330"/><path d="M672.0 85.8 Q673.0 69.0 688.0 67.0" stroke="#ffd3a0" stroke-width="2.8" fill="none" stroke-linecap="round"/><ellipse cx="668.4" cy="129" rx="6.5" ry="5" fill="#9a6330"/><path d="M653.4 133.7 Q654.4 116.5 669.4 114.5" stroke="#ffd3a0" stroke-width="2.8" fill="none" stroke-linecap="round"/><ellipse cx="696" cy="167.3" rx="6.5" ry="5" fill="#9a6330"/><path d="M669.0 171.5 Q670.0 156.5 685.0 154.5" stroke="#ffd3a0" stroke-width="2.8" fill="none" stroke-linecap="round"/><ellipse cx="686.8" cy="211.6" rx="6.5" ry="5" fill="#9a6330"/><path d="M665.4 216.0 Q666.4 201.5 681.4 199.5" stroke="#ffd3a0" stroke-width="2.8" fill="none" stroke-linecap="round"/><ellipse cx="707.3" cy="264.6" rx="6.5" ry="5" fill="#9a6330"/><path d="M681.0 269.0 Q682.0 252.0 697.0 250.0" stroke="#ffd3a0" stroke-width="2.8" fill="none" stroke-linecap="round"/><ellipse cx="701.3" cy="313.2" rx="6.5" ry="5" fill="#9a6330"/><path d="M671.0 319.0 Q672.0 300.0 687.0 298.0" stroke="#ffd3a0" stroke-width="2.8" fill="none" stroke-linecap="round"/><ellipse cx="691.9" cy="373" rx="6.5" ry="5" fill="#9a6330"/><path d="M665.4 376.0 Q666.4 360.5 681.4 358.5" stroke="#ffd3a0" stroke-width="2.8" fill="none" stroke-linecap="round"/></g>
<path d="M308.7 15.1 C306.9 16.4 300.4 20.0 297.7 22.8 C295.0 25.6 294.0 29.8 292.3 31.9 C290.6 33.9 289.8 35.1 287.7 35.1 C285.6 35.1 282.4 33.6 279.5 31.9 C276.6 30.1 272.9 25.1 270.4 24.6 C267.9 24.2 265.6 26.9 264.5 29.2 C263.4 31.5 264.1 34.9 263.5 38.3 C262.9 41.6 262.3 46.6 261.2 49.3 C260.1 52.0 258.5 54.7 256.7 54.7 C254.9 54.7 252.9 51.7 250.3 49.3 C247.7 46.9 243.5 41.8 241.2 40.1 C238.9 38.4 238.0 38.7 236.6 39.2 C235.2 39.7 234.1 40.9 233.0 42.9 C231.9 44.9 231.3 49.0 230.2 51.1 C229.1 53.2 228.7 54.9 226.6 55.7 C224.5 56.5 220.0 55.1 217.4 55.7 C214.8 56.3 212.9 57.8 211.1 59.3 C209.3 60.8 207.3 63.6 206.5 64.5" stroke="#ffc800" stroke-width="4.2" fill="none" stroke-linecap="butt" stroke-linejoin="round"/>
<path d="M183.7 78.5 L205.6 55.2 L207.4 66.6 L214.7 71.2 Z" fill="#ffc800"/>
<rect x="175.8" y="464.8" width="95.0" height="83.9" fill="#e2f0e2"/>
<rect x="175.8" y="555.5" width="95.0" height="83.3" fill="#e2f0e2"/>
<rect x="174.5" y="646.5" width="95.1" height="82.9" fill="#e2f0e2"/>
<rect x="174.5" y="737.2" width="95.1" height="83.2" fill="#e2f0e2"/>
<rect x="367.8" y="462.7" width="176.1" height="82.9" fill="#fde0e0"/>
<rect x="366.8" y="554.3" width="176.4" height="82.0" fill="#fde0e0"/>
<rect x="366.2" y="645.6" width="175.8" height="82.6" fill="#fde0e0"/>
<rect x="365.6" y="736" width="176.1" height="82.9" fill="#fde0e0"/>
<rect x="630.8" y="462.7" width="175.8" height="82.9" fill="#f0e2d4"/>
<rect x="630.2" y="553.4" width="175.4" height="82.9" fill="#f0e2d4"/>
<rect x="629" y="645" width="175.7" height="82.3" fill="#f0e2d4"/>
<rect x="628" y="735" width="176.1" height="83.9" fill="#f0e2d4"/>
<rect x="68.3" y="553.4" width="771.5" height="174.5" fill="none" stroke="#999" stroke-width="2.8" stroke-dasharray="7 4.5"/>
<text transform="translate(52 641.5) rotate(-90)" font-family="Liberation Sans, Arial, sans-serif" font-size="31" fill="#606060" text-anchor="middle" textLength="185" lengthAdjust="spacingAndGlyphs">Mesopic Light</text>
<circle cx="120.5" cy="502.1" r="15.2" fill="#999"/>
<circle cx="121.1" cy="595.9" r="12.5" fill="#ffe480"/><path d="M137.1 595.9 L152.6 595.9 M129.1 609.8 L136.8 623.2 M113.1 609.8 L105.3 623.2 M105.1 595.9 L89.6 595.9 M113.1 582.0 L105.3 568.6 M129.1 582.0 L136.8 568.6" stroke="#ffe480" stroke-width="2.9" stroke-linecap="butt"/>
<circle cx="121.1" cy="686.9" r="12.5" fill="#ffd640"/><path d="M137.1 686.9 L152.6 686.9 M134.0 696.3 L146.6 705.4 M126.0 702.1 L130.8 716.9 M116.2 702.1 L111.4 716.9 M108.2 696.3 L95.6 705.4 M105.1 686.9 L89.6 686.9 M108.2 677.5 L95.6 668.4 M116.2 671.7 L111.4 656.9 M126.0 671.7 L130.8 656.9 M134.0 677.5 L146.6 668.4" stroke="#ffd640" stroke-width="2.9" stroke-linecap="butt"/>
<circle cx="121.4" cy="780.5" r="12.5" fill="#ffcc00"/><path d="M137.4 780.5 L153.1 780.5 M135.8 787.4 L150.0 794.3 M131.4 793.0 L141.2 805.3 M125.0 796.1 L128.5 811.4 M117.8 796.1 L114.3 811.4 M111.4 793.0 L101.6 805.3 M107.0 787.4 L92.8 794.3 M105.4 780.5 L89.7 780.5 M107.0 773.6 L92.8 766.7 M111.4 768.0 L101.6 755.7 M117.8 764.9 L114.3 749.6 M125.0 764.9 L128.5 749.6 M131.4 768.0 L141.2 755.7 M135.8 773.6 L150.0 766.7" stroke="#ffcc00" stroke-width="2.9" stroke-linecap="butt"/>
<path d="M176.0 535.7 L177.6 535.7 L179.2 535.7 L180.7 535.7 L182.3 535.6 L183.9 535.6 L185.5 535.5 L187.1 535.4 L188.6 535.2 L190.2 534.9 L191.8 534.5 L193.4 533.9 L195.0 533.1 L196.5 532.1 L198.1 530.6 L199.7 528.8 L201.3 526.5 L202.9 523.8 L204.4 520.5 L206.0 516.6 L207.6 512.3 L209.2 507.6 L210.8 502.7 L212.3 497.7 L213.9 492.8 L215.5 488.2 L217.1 484.3 L218.7 481.1 L220.2 479.0 L221.8 478.0 L223.4 478.1 L225.0 479.5 L226.6 481.9 L228.1 485.3 L229.7 489.4 L231.3 494.0 L232.9 499.0 L234.5 504.0 L236.0 508.9 L237.6 513.5 L239.2 517.7 L240.8 521.4 L242.4 524.6 L243.9 527.2 L245.5 529.4 L247.1 531.1 L248.7 532.4 L250.3 533.4 L251.8 534.1 L253.4 534.6 L255.0 535.0 L256.6 535.2 L258.2 535.4 L259.7 535.5 L261.3 535.6 L262.9 535.6 L264.5 535.7 L266.1 535.7 L267.6 535.7 L269.2 535.7 L270.8 535.7" stroke="#999" stroke-width="3.3" fill="none"/>
<circle cx="181" cy="535" r="8.3" fill="#a3dcdc" stroke="#2a9aa0" stroke-width="2.9"/>
<circle cx="195.6" cy="535" r="8.3" fill="#66dd70" stroke="#0aa02a" stroke-width="2.9"/>
<path d="M176.0 624.2 L177.6 624.2 L179.2 624.2 L180.7 624.2 L182.3 624.1 L183.9 624.1 L185.5 624.0 L187.1 623.9 L188.6 623.7 L190.2 623.4 L191.8 623.0 L193.4 622.4 L195.0 621.6 L196.5 620.5 L198.1 619.1 L199.7 617.3 L201.3 615.0 L202.9 612.1 L204.4 608.8 L206.0 604.9 L207.6 600.6 L209.2 595.8 L210.8 590.8 L212.3 585.8 L213.9 580.8 L215.5 576.2 L217.1 572.2 L218.7 569.1 L220.2 566.9 L221.8 565.9 L223.4 566.0 L225.0 567.4 L226.6 569.8 L228.1 573.2 L229.7 577.4 L231.3 582.1 L232.9 587.1 L234.5 592.2 L236.0 597.1 L237.6 601.8 L239.2 606.0 L240.8 609.7 L242.4 612.9 L243.9 615.6 L245.5 617.8 L247.1 619.5 L248.7 620.8 L250.3 621.8 L251.8 622.6 L253.4 623.1 L255.0 623.5 L256.6 623.7 L258.2 623.9 L259.7 624.0 L261.3 624.1 L262.9 624.1 L264.5 624.2 L266.1 624.2 L267.6 624.2 L269.2 624.2 L270.8 624.2" stroke="#999" stroke-width="3.3" fill="none"/>
<circle cx="216.5" cy="579.8" r="8.3" fill="#66dd70" stroke="#0aa02a" stroke-width="2.9"/>
<circle cx="198.1" cy="620.1" r="8.3" fill="#a3dcdc" stroke="#2a9aa0" stroke-width="2.9"/>
<path d="M174.5 716.4 L176.1 716.4 L177.7 716.4 L179.3 716.4 L180.8 716.4 L182.4 716.3 L184.0 716.3 L185.6 716.3 L187.2 716.2 L188.8 716.0 L190.3 715.8 L191.9 715.5 L193.5 715.0 L195.1 714.4 L196.7 713.5 L198.3 712.3 L199.9 710.8 L201.4 708.8 L203.0 706.4 L204.6 703.5 L206.2 700.0 L207.8 696.0 L209.4 691.5 L211.0 686.8 L212.5 681.8 L214.1 676.8 L215.7 672.0 L217.3 667.7 L218.9 664.0 L220.5 661.3 L222.1 659.6 L223.6 659.0 L225.2 659.6 L226.8 661.4 L228.4 664.2 L230.0 667.9 L231.6 672.2 L233.1 677.0 L234.7 682.0 L236.3 687.0 L237.9 691.7 L239.5 696.2 L241.1 700.1 L242.7 703.6 L244.2 706.5 L245.8 708.9 L247.4 710.9 L249.0 712.4 L250.6 713.6 L252.2 714.4 L253.8 715.1 L255.3 715.5 L256.9 715.8 L258.5 716.0 L260.1 716.2 L261.7 716.3 L263.3 716.3 L264.8 716.3 L266.4 716.4 L268.0 716.4 L269.6 716.4" stroke="#999" stroke-width="3.3" fill="none"/>
<circle cx="214.3" cy="678.5" r="8.3" fill="#a3dcdc" stroke="#2a9aa0" stroke-width="2.9"/>
<circle cx="232.3" cy="678.5" r="8.3" fill="#66dd70" stroke="#0aa02a" stroke-width="2.9"/>
<path d="M174.5 805.5 L176.1 805.5 L177.7 805.5 L179.3 805.4 L180.8 805.4 L182.4 805.3 L184.0 805.2 L185.6 805.1 L187.2 804.8 L188.8 804.4 L190.3 803.9 L191.9 803.2 L193.5 802.2 L195.1 800.9 L196.7 799.2 L198.3 797.1 L199.9 794.5 L201.4 791.3 L203.0 787.6 L204.6 783.4 L206.2 778.8 L207.8 773.9 L209.4 768.8 L211.0 763.8 L212.5 759.1 L214.1 755.0 L215.7 751.6 L217.3 749.1 L218.9 747.7 L220.5 747.6 L222.1 748.6 L223.6 750.7 L225.2 753.9 L226.8 757.9 L228.4 762.4 L230.0 767.4 L231.6 772.4 L233.1 777.4 L234.7 782.1 L236.3 786.5 L237.9 790.3 L239.5 793.6 L241.1 796.4 L242.7 798.7 L244.2 800.5 L245.8 801.9 L247.4 803.0 L249.0 803.7 L250.6 804.3 L252.2 804.7 L253.8 805.0 L255.3 805.2 L256.9 805.3 L258.5 805.4 L260.1 805.4 L261.7 805.5 L263.3 805.5 L264.8 805.5 L266.4 805.5 L268.0 805.5 L269.6 805.5" stroke="#999" stroke-width="3.3" fill="none"/>
<circle cx="229.2" cy="768.3" r="8.3" fill="#a3dcdc" stroke="#2a9aa0" stroke-width="2.9"/>
<circle cx="258.7" cy="804.9" r="8.3" fill="#66dd70" stroke="#0aa02a" stroke-width="2.9"/>
<path d="M382.7 526.3 H531.4" stroke="#000" stroke-width="3.5" fill="none"/>
<path d="M384 618.6 H465 V592.2 H532.7" stroke="#000" stroke-width="3.5" fill="none"/>
<path d="M379.3 711.7 H459.4 V660.5 H527.7" stroke="#000" stroke-width="3.5" fill="none"/>
<path d="M380.2 800.9 H529.3" stroke="#000" stroke-width="3.5" fill="none"/>
<path d="M636.4 527.6 H800.4" stroke="#000" stroke-width="3.5" fill="none"/>
<path d="M634.8 800.9 H798.5" stroke="#000" stroke-width="3.5" fill="none"/>
<path d="M636 621.7 L645.4 621.7 Q647.4 621.7 648.2 609.7 L649.4 570.9 Q650.4 567.9 651.4 570.9 L652.9 617.7 Q653.9 626.7 656.4 622.7 Q658.4 620.7 660.4 620.7 L705.3 621.7 Q707.3 621.7 708.1 609.7 L709.3 570.9 Q710.3 567.9 711.3 570.9 L712.8 617.7 Q713.8 626.7 716.3 622.7 Q718.3 620.7 720.3 620.7 L764.3 621.7 Q766.3 621.7 767.1 609.7 L768.3 570.9 Q769.3 567.9 770.3 570.9 L771.8 617.7 Q772.8 626.7 775.3 622.7 Q777.3 620.7 779.3 620.7 L801 621.7" stroke="#000" stroke-width="3.5" fill="none" stroke-linejoin="round"/>
<path d="M636 712.4 L646.9 712.4 Q648.9 712.4 649.7 700.4 L650.9 661.0 Q651.9 658.0 652.9 661.0 L654.4 708.4 Q655.4 717.4 657.9 713.4 Q659.9 711.4 661.9 711.4 L675.8 712.4 Q677.8 712.4 678.6 700.4 L679.8 661.0 Q680.8 658.0 681.8 661.0 L683.3 708.4 Q684.3 717.4 686.8 713.4 Q688.8 711.4 690.8 711.4 L706.5 712.4 Q708.5 712.4 709.3 700.4 L710.5 661.0 Q711.5 658.0 712.5 661.0 L714.0 708.4 Q715.0 717.4 717.5 713.4 Q719.5 711.4 721.5 711.4 L736.4 712.4 Q738.4 712.4 739.2 700.4 L740.4 661.0 Q741.4 658.0 742.4 661.0 L743.9 708.4 Q744.9 717.4 747.4 713.4 Q749.4 711.4 751.4 711.4 L765.9 712.4 Q767.9 712.4 768.7 700.4 L769.9 661.0 Q770.9 658.0 771.9 661.0 L773.4 708.4 Q774.4 717.4 776.9 713.4 Q778.9 711.4 780.9 711.4 L801 712.4" stroke="#000" stroke-width="3.5" fill="none" stroke-linejoin="round"/>
<text x="126.7" y="429.3" font-family="Liberation Sans, Arial, sans-serif" font-size="27" fill="#1d8a58" textLength="180.6" lengthAdjust="spacingAndGlyphs">Photoreceptors</text>
<text x="336" y="416.1" font-family="Liberation Sans, Arial, sans-serif" font-size="27" fill="#9b2b30" textLength="120.3" lengthAdjust="spacingAndGlyphs">Horizontal</text>
<text x="374.2" y="441.6" font-family="Liberation Sans, Arial, sans-serif" font-size="27" fill="#9b2b30" textLength="50" lengthAdjust="spacingAndGlyphs">cells</text>
<text x="479.7" y="416.1" font-family="Liberation Sans, Arial, sans-serif" font-size="27" fill="#f07476" textLength="82" lengthAdjust="spacingAndGlyphs">Bipolar</text>
<text x="495.3" y="441.6" font-family="Liberation Sans, Arial, sans-serif" font-size="27" fill="#f07476" textLength="50" lengthAdjust="spacingAndGlyphs">cells</text>
<text x="676.8" y="416.1" font-family="Liberation Sans, Arial, sans-serif" font-size="27" fill="#b86a2c" textLength="79.2" lengthAdjust="spacingAndGlyphs">Retinal</text>
<text x="638.6" y="441.6" font-family="Liberation Sans, Arial, sans-serif" font-size="27" fill="#b86a2c" textLength="161.4" lengthAdjust="spacingAndGlyphs">ganglion cells</text>
<text x="0" y="40.3" font-family="Liberation Serif, serif" font-size="49" stroke="#000" stroke-width="0.9">a</text>
<text x="904" y="40.1" font-family="Liberation Sans, Arial, sans-serif" font-size="41" stroke="#000" stroke-width="0.9">c</text>
<path d="M246.5 872 H703 V1234.7 H246.5 Z M444.5 1266.7 V912.9 H644 M656 912.9 H703 M444.5 1029 H504.9 V985.4 H545.8 M560.7 985.4 H613.4 M691.6 985.4 H703 M504.9 985.4 V1072.9 H524.5 M536.9 1072.9 H703 M594.9 985.4 V1030 M703 1121.6 H642.5 V1141 M642.5 1178 V1195" stroke="#000" stroke-width="3.2" fill="none"/>
<rect x="240" y="1191.5" width="13" height="8" fill="#fff"/>
<path d="M214.5 1190 H278.5 M226.3 1201 H267.2" stroke="#000" stroke-width="3.4"/>
<path d="M644 888 V938.5 M656 888 V938.5" stroke="#000" stroke-width="3.4"/>
<path d="M545.8 961.6 V1010.6 M560.7 961.6 V1010.6" stroke="#000" stroke-width="3.4"/>
<path d="M524.5 1053.3 V1093.2 M536.9 1041.6 V1104.5" stroke="#000" stroke-width="3.4"/>
<rect x="526" y="1230" width="9" height="9" fill="#fff"/>
<path d="M524.5 1215 V1255 M536.9 1203.4 V1266.7" stroke="#000" stroke-width="3.4"/>
<path d="M613.4 985.4 L614 985.4 L620.5 1003 L633 968.7 L645.4 1003 L657.8 968.7 L671 1003 L684.5 968.7 L690.9 985.4 L703 985.4" stroke="#000" stroke-width="3.2" fill="none" stroke-linejoin="miter"/>
<rect x="440" y="866" width="38" height="12" fill="#fff"/>
<path d="M443.4 856 L475.4 872 L443.4 888 Z" fill="#000" stroke="#000" stroke-width="2" stroke-linejoin="round"/>
<path d="M475.4 854 V890" stroke="#000" stroke-width="3.4"/>
<path d="M430 872 H446" stroke="#000" stroke-width="3.2"/>
<path d="M415 1266.7 H474.7 M422 1276.3 H467.6" stroke="#000" stroke-width="3.4"/>
<rect x="430" y="1284.7" width="30" height="4" fill="#000"/>
<path d="M703 1234.7 H850" stroke="#000" stroke-width="3.2"/>
<path d="M836 1227 L862 1234.7 L836 1242 L842 1234.7 Z" fill="#000"/>
<linearGradient id="g236960" x1="0" y1="0" x2="0" y2="1"><stop offset="0.44" stop-color="#18c2fe"/><stop offset="0.6" stop-color="#ff806e"/></linearGradient><circle cx="236.1" cy="960.5" r="31.2" fill="url(#g236960)" stroke="#000" stroke-width="3.4"/>
<linearGradient id="g2361073" x1="0" y1="0" x2="0" y2="1"><stop offset="0.44" stop-color="#18c2fe"/><stop offset="0.6" stop-color="#ff806e"/></linearGradient><circle cx="236.6" cy="1073" r="31.2" fill="url(#g2361073)" stroke="#000" stroke-width="3.4"/>
<linearGradient id="g5951058" x1="0" y1="0" x2="1" y2="0"><stop offset="0.38" stop-color="#ff806e"/><stop offset="0.54" stop-color="#18c2fe"/></linearGradient><circle cx="595.2" cy="1058.8" r="31.5" fill="url(#g5951058)" stroke="#000" stroke-width="3.4"/>
<linearGradient id="g6421221" x1="0" y1="0" x2="1" y2="0"><stop offset="0.38" stop-color="#ff806e"/><stop offset="0.54" stop-color="#18c2fe"/></linearGradient><circle cx="642.5" cy="1221.2" r="31.5" fill="url(#g6421221)" stroke="#000" stroke-width="3.4"/>
<rect x="213.5" y="952.6" width="44" height="16" rx="8" fill="#a0a0a0" stroke="#000" stroke-width="3.4"/>
<rect x="213.5" y="1065" width="44" height="16" rx="8" fill="#a0a0a0" stroke="#000" stroke-width="3.4"/>
<path d="M562 1072.9 H629 M594.9 1025 V1037" stroke="#000" stroke-width="3.2"/>
<path d="M609 1234.7 H676 M642.5 1188 V1200" stroke="#000" stroke-width="3.2"/>
<rect x="586.9" y="1036.7" width="16" height="44" rx="8" fill="#a0a0a0" stroke="#000" stroke-width="3.4"/>
<rect x="634.5" y="1199.2" width="16" height="44" rx="8" fill="#a0a0a0" stroke="#000" stroke-width="3.4"/>
<path d="M246.5 930 V1104 M134.5 960.6 H214 M134.5 1073 H214" stroke="#000" stroke-width="3.2"/>
<circle cx="134.5" cy="960.6" r="9.5" fill="#a3dcdc" stroke="#2a9aa0" stroke-width="2.6"/>
<circle cx="134.5" cy="1073" r="9.5" fill="#66dd70" stroke="#0aa02a" stroke-width="2.6"/>
<path d="M631 1143 Q628 1141 630 1146 L639 1162 Q642.5 1167 646 1162 L655 1146 Q657 1141 654 1141 Z" fill="#fff" stroke="#000" stroke-width="3.2" stroke-linejoin="round"/>
<circle cx="642.5" cy="1174.2" r="4.2" fill="#fff" stroke="#000" stroke-width="2.8"/>
<text x="724" y="1206.5" font-family="Liberation Serif, serif" font-style="italic" font-size="33">V</text>
<text x="743" y="1217" font-family="Liberation Serif, serif" font-size="22" textLength="40" lengthAdjust="spacingAndGlyphs">mem</text>
<path d="M801 1216.5 Q804.5 1217 805.5 1212 L808.8 1158 L812.6 1214 Q814 1222 817.5 1219.5 Q819.5 1216.5 822.5 1216.5 L825 1216.5 Q826.8 1216 827.3 1211 L830.4 1158 L834.2 1214 Q835.6 1222 839 1219.5 Q841 1216.5 844 1216.5 L846 1216.5" stroke="#000" stroke-width="3.4" fill="none" stroke-linejoin="round"/>
<path d="M6.4 962.8 C7.7 963.7 12.1 966.0 14.4 968.4 C16.7 970.8 17.9 974.6 20.0 977.1 C22.1 979.6 24.5 982.7 27.1 983.1 C29.8 983.5 32.7 981.4 35.9 979.5 C39.1 977.6 43.8 972.0 46.3 971.5 C48.8 971.0 50.2 973.5 51.1 976.3 C52.0 979.1 51.4 984.7 51.9 988.3 C52.4 991.9 53.1 995.5 54.3 997.9 C55.5 1000.3 56.9 1003.1 59.1 1002.7 C61.4 1002.3 64.6 998.0 67.8 995.5 C71.0 993.0 75.7 988.0 78.2 987.5 C80.7 987.0 81.7 990.0 83.0 992.3 C84.3 994.6 84.3 999.2 86.2 1001.1 C88.1 1003.0 91.8 1003.4 94.2 1003.9 C96.6 1004.4 98.3 1003.3 100.6 1004.3 C102.9 1005.3 106.8 1009.0 108.0 1010.0" stroke="#ffc800" stroke-width="5.2" fill="none" stroke-linejoin="round"/>
<path d="M131.7 1025.4 L110.5 1002.7 L107.7 1014.6 L101 1018.6 Z" fill="#ffc800"/>
<text x="1" y="863" font-family="Liberation Sans, Arial, sans-serif" font-size="41" stroke="#000" stroke-width="0.9">b</text>
<rect x="1172.7" y="60" width="378.3" height="1101.9" fill="#e5e5e5"/>
<path d="M1172.7 1162 V60.5 H1551 V1162" fill="none" stroke="#aaaaaa" stroke-width="2.6" stroke-dasharray="7 4"/>
<text x="1349.6" y="95.9" font-family="Liberation Sans, Arial, sans-serif" font-size="38" text-anchor="middle" textLength="229" lengthAdjust="spacingAndGlyphs">Mesopic Light</text>
<rect x="1074" y="109.3" width="675.5" height="337.0" fill="none" stroke="#000" stroke-width="3.4"/>
<rect x="1074" y="466.4" width="675.5" height="336.1" fill="none" stroke="#000" stroke-width="3.4"/>
<rect x="1074" y="824.8" width="675.5" height="337.10000000000014" fill="none" stroke="#000" stroke-width="3.4"/>
<path d="M1110 109.3 v18.4 M1110 446.3 v-18.4 M1290 109.3 v18.4 M1290 446.3 v-18.4 M1470 109.3 v18.4 M1470 446.3 v-18.4 M1650 109.3 v18.4 M1650 446.3 v-18.4 M1200 109.3 v8.9 M1200 446.3 v-8.9 M1380 109.3 v8.9 M1380 446.3 v-8.9 M1560 109.3 v8.9 M1560 446.3 v-8.9 M1740 109.3 v8.9 M1740 446.3 v-8.9 M1110 466.4 v18.4 M1110 802.5 v-18.4 M1290 466.4 v18.4 M1290 802.5 v-18.4 M1470 466.4 v18.4 M1470 802.5 v-18.4 M1650 466.4 v18.4 M1650 802.5 v-18.4 M1200 466.4 v8.9 M1200 802.5 v-8.9 M1380 466.4 v8.9 M1380 802.5 v-8.9 M1560 466.4 v8.9 M1560 802.5 v-8.9 M1740 466.4 v8.9 M1740 802.5 v-8.9 M1110 824.8 v18.4 M1110 1161.9 v-18.4 M1290 824.8 v18.4 M1290 1161.9 v-18.4 M1470 824.8 v18.4 M1470 1161.9 v-18.4 M1650 824.8 v18.4 M1650 1161.9 v-18.4 M1200 824.8 v8.9 M1200 1161.9 v-8.9 M1380 824.8 v8.9 M1380 1161.9 v-8.9 M1560 824.8 v8.9 M1560 1161.9 v-8.9 M1740 824.8 v8.9 M1740 1161.9 v-8.9 M1074 416.0 h18.4 M1749.5 416.0 h-18.4 M1074 354.7 h18.4 M1749.5 354.7 h-18.4 M1074 293.3 h18.4 M1749.5 293.3 h-18.4 M1074 232.0 h18.4 M1749.5 232.0 h-18.4 M1074 170.6 h18.4 M1749.5 170.6 h-18.4 M1074 109.3 h18.4 M1749.5 109.3 h-18.4 M1074 385.3 h8.9 M1749.5 385.3 h-8.9 M1074 324.0 h8.9 M1749.5 324.0 h-8.9 M1074 262.6 h8.9 M1749.5 262.6 h-8.9 M1074 201.3 h8.9 M1749.5 201.3 h-8.9 M1074 140.0 h8.9 M1749.5 140.0 h-8.9 M1074 789.8 h18.4 M1749.5 789.8 h-18.4 M1074 735.9 h18.4 M1749.5 735.9 h-18.4 M1074 682.1 h18.4 M1749.5 682.1 h-18.4 M1074 628.2 h18.4 M1749.5 628.2 h-18.4 M1074 574.4 h18.4 M1749.5 574.4 h-18.4 M1074 520.5 h18.4 M1749.5 520.5 h-18.4 M1074 466.6 h18.4 M1749.5 466.6 h-18.4 M1074 762.9 h8.9 M1749.5 762.9 h-8.9 M1074 709.0 h8.9 M1749.5 709.0 h-8.9 M1074 655.1 h8.9 M1749.5 655.1 h-8.9 M1074 601.3 h8.9 M1749.5 601.3 h-8.9 M1074 547.4 h8.9 M1749.5 547.4 h-8.9 M1074 493.6 h8.9 M1749.5 493.6 h-8.9 M1074 1127.5 h18.4 M1749.5 1127.5 h-18.4 M1074 1060.0 h18.4 M1749.5 1060.0 h-18.4 M1074 992.5 h18.4 M1749.5 992.5 h-18.4 M1074 925.0 h18.4 M1749.5 925.0 h-18.4 M1074 857.5 h18.4 M1749.5 857.5 h-18.4 M1074 1093.8 h8.9 M1749.5 1093.8 h-8.9 M1074 1026.2 h8.9 M1749.5 1026.2 h-8.9 M1074 958.8 h8.9 M1749.5 958.8 h-8.9 M1074 891.2 h8.9 M1749.5 891.2 h-8.9" stroke="#000" stroke-width="3.4" fill="none"/>
<text x="1047.5" y="426.8" font-family="Liberation Sans, Arial, sans-serif" font-size="30.5" text-anchor="end">0</text>
<text x="1047.5" y="365.5" font-family="Liberation Sans, Arial, sans-serif" font-size="30.5" text-anchor="end">20</text>
<text x="1047.5" y="304.1" font-family="Liberation Sans, Arial, sans-serif" font-size="30.5" text-anchor="end">40</text>
<text x="1047.5" y="242.8" font-family="Liberation Sans, Arial, sans-serif" font-size="30.5" text-anchor="end">60</text>
<text x="1047.5" y="181.4" font-family="Liberation Sans, Arial, sans-serif" font-size="30.5" text-anchor="end">80</text>
<text x="1047.5" y="120.1" font-family="Liberation Sans, Arial, sans-serif" font-size="30.5" text-anchor="end">100</text>
<text x="1047.5" y="800.6" font-family="Liberation Sans, Arial, sans-serif" font-size="30.5" text-anchor="end">0</text>
<text x="1047.5" y="746.7" font-family="Liberation Sans, Arial, sans-serif" font-size="30.5" text-anchor="end">2</text>
<text x="1047.5" y="692.9" font-family="Liberation Sans, Arial, sans-serif" font-size="30.5" text-anchor="end">4</text>
<text x="1047.5" y="639.0" font-family="Liberation Sans, Arial, sans-serif" font-size="30.5" text-anchor="end">6</text>
<text x="1047.5" y="585.2" font-family="Liberation Sans, Arial, sans-serif" font-size="30.5" text-anchor="end">8</text>
<text x="1047.5" y="531.3" font-family="Liberation Sans, Arial, sans-serif" font-size="30.5" text-anchor="end">10</text>
<text x="1047.5" y="477.4" font-family="Liberation Sans, Arial, sans-serif" font-size="30.5" text-anchor="end">12</text>
<text x="1047.5" y="868.3" font-family="Liberation Sans, Arial, sans-serif" font-size="30.5" text-anchor="end">0.1</text>
<text x="1047.5" y="935.8" font-family="Liberation Sans, Arial, sans-serif" font-size="30.5" text-anchor="end">0.0</text>
<text x="1047.5" y="1003.3" font-family="Liberation Sans, Arial, sans-serif" font-size="30.5" text-anchor="end">-0.1</text>
<text x="1047.5" y="1070.8" font-family="Liberation Sans, Arial, sans-serif" font-size="30.5" text-anchor="end">-0.2</text>
<text x="1047.5" y="1138.3" font-family="Liberation Sans, Arial, sans-serif" font-size="30.5" text-anchor="end">-0.3</text>
<text x="1110" y="1209.3" font-family="Liberation Sans, Arial, sans-serif" font-size="30.5" text-anchor="middle">10</text>
<text x="1290" y="1209.3" font-family="Liberation Sans, Arial, sans-serif" font-size="30.5" text-anchor="middle">20</text>
<text x="1470" y="1209.3" font-family="Liberation Sans, Arial, sans-serif" font-size="30.5" text-anchor="middle">30</text>
<text x="1650" y="1209.3" font-family="Liberation Sans, Arial, sans-serif" font-size="30.5" text-anchor="middle">40</text>
<text x="1392.4" y="1259" font-family="Liberation Sans, Arial, sans-serif" font-size="47" text-anchor="middle" textLength="157" lengthAdjust="spacingAndGlyphs">Time (s)</text>
<text transform="translate(974.5 286.5) rotate(-90)" font-family="Liberation Sans, Arial, sans-serif" font-size="45" text-anchor="middle" textLength="290" lengthAdjust="spacingAndGlyphs">Intensity (mW)</text>
<text transform="translate(993.5 648) rotate(-90)" font-family="Liberation Sans, Arial, sans-serif" font-size="45" text-anchor="middle" textLength="188" lengthAdjust="spacingAndGlyphs">Freq. (Hz)</text>
<text transform="translate(972 1061) rotate(-90)" font-family="Liberation Serif, serif" font-style="italic" font-size="48">V</text>
<text transform="translate(986 1029) rotate(-90)" font-family="Liberation Serif, serif" font-size="34" textLength="65" lengthAdjust="spacingAndGlyphs">mem</text>
<text transform="translate(972 953) rotate(-90)" font-family="Liberation Sans, Arial, sans-serif" font-size="45" textLength="50" lengthAdjust="spacingAndGlyphs">(V)</text>
<path d="M1119.1 408.2 L1136.9 393.1 M1156.6 379.7 L1189.4 362.4 M1210.6 351.1 L1279.4 314.3 M1299.9 301.9 L1334.1 278.6 M1355.0 267.0 L1405.0 244.5 M1425.7 232.6 L1442.3 220.6 M1463.5 210.1 L1512.5 195.5 M1535.7 189.4 L1584.3 178.0 M1607.5 172.0 L1638.5 163.2 M1661.4 156.3 L1674.6 152.2 M1697.9 146.7 L1728.1 141.9" stroke="#000" stroke-width="3.2" fill="none"/><rect x="1101.0" y="407.0" width="18" height="18" fill="#000"/><rect x="1137.0" y="376.3" width="18" height="18" fill="#000"/><rect x="1191.0" y="347.8" width="18" height="18" fill="#000"/><rect x="1281.0" y="299.7" width="18" height="18" fill="#000"/><rect x="1335.0" y="262.9" width="18" height="18" fill="#000"/><rect x="1407.0" y="230.6" width="18" height="18" fill="#000"/><rect x="1443.0" y="204.6" width="18" height="18" fill="#000"/><rect x="1515.0" y="183.1" width="18" height="18" fill="#000"/><rect x="1587.0" y="166.2" width="18" height="18" fill="#000"/><rect x="1641.0" y="150.9" width="18" height="18" fill="#000"/><rect x="1677.0" y="139.6" width="18" height="18" fill="#000"/><rect x="1731.0" y="131.0" width="18" height="18" fill="#000"/>
<path d="M1122.0 789.8 L1134.0 789.8 M1148.5 778.1 L1197.5 545.7 M1211.5 530.5 L1278.5 510.5 M1301.6 504.1 L1332.4 496.5 M1356.0 493.6 L1404.0 493.6 M1428.0 493.6 L1440.0 493.6 M1463.8 495.8 L1512.2 504.8 M1527.0 518.7 L1593.0 778.2 M1608.0 789.8 L1638.0 789.8 M1662.0 789.8 L1674.0 789.8 M1698.0 789.8 L1728.0 789.8" stroke="#000" stroke-width="3.2" fill="none"/><rect x="1101.0" y="780.8" width="18" height="18" fill="#000"/><rect x="1137.0" y="780.8" width="18" height="18" fill="#000"/><rect x="1191.0" y="525.0" width="18" height="18" fill="#000"/><rect x="1281.0" y="498.0" width="18" height="18" fill="#000"/><rect x="1335.0" y="484.6" width="18" height="18" fill="#000"/><rect x="1407.0" y="484.6" width="18" height="18" fill="#000"/><rect x="1443.0" y="484.6" width="18" height="18" fill="#000"/><rect x="1515.0" y="498.0" width="18" height="18" fill="#000"/><rect x="1587.0" y="780.8" width="18" height="18" fill="#000"/><rect x="1641.0" y="780.8" width="18" height="18" fill="#000"/><rect x="1677.0" y="780.8" width="18" height="18" fill="#000"/><rect x="1731.0" y="780.8" width="18" height="18" fill="#000"/>
<path d="M1071 1062 Q1074 1058 1080 1063 L1121 1064 L1121 1077 L1080 1077 Q1074 1081 1071 1076 Z" fill="#505050"/>
<path d="M1122 1084 L1122 1040 Q1126 1033 1130 1040 L1131 1052 Q1134 1057 1137 1060 L1169 1060 L1169 1072 L1137 1072 Q1133 1074 1131 1078 L1130 1084 Q1126 1089 1122 1084 Z" fill="#505050"/>
<path d="M1168.5 1082 L1168.5 938 L1172 934.5 L1175.5 938 L1176.5 971 L1180 973 L1200 970.5 L1230 968 L1262.5 965.5 L1263.5 944 L1266.6 941 L1269.8 944 L1270 958.4 L1290 957 L1350 954 L1420 951.5 L1480 950 L1538.7 948.6 L1548.7 951 L1549 1020 L1553 1034 L1562 1042 L1562 1062 L1553 1066 L1549 1077 L1548 1085.5 L1420 1085.5 L1300 1084.5 L1270 1083.5 L1268 1087.5 L1190 1087.5 L1172 1087 L1168.5 1084 Z" fill="#505050"/>
<path d="M1560 1042 L1611 1043 Q1615 1043.5 1615.5 1049 L1615.5 1060 L1670 1060.5 L1670 1072 L1717 1072.5 L1717 1079 L1751 1079 L1751 1088 L1718 1088 L1718 1084 L1671 1084 L1671 1073 L1615.5 1073 L1615.5 1058 L1560 1058 Z" fill="#505050"/>
<path d="M1615.5 1052 V1085 M1671 1066 V1087 M1718.5 1078 V1089" stroke="#505050" stroke-width="7" stroke-linecap="round" fill="none"/>
<path d="M1105.0 342.0 L1106.5 342.0 L1108.1 342.0 L1109.7 341.9 L1111.2 341.9 L1112.8 341.8 L1114.3 341.7 L1115.8 341.6 L1117.4 341.3 L1119.0 340.9 L1120.5 340.3 L1122.0 339.4 L1123.6 338.3 L1125.2 336.7 L1126.7 334.6 L1128.2 331.9 L1129.8 328.6 L1131.3 324.6 L1132.9 320.0 L1134.5 314.8 L1136.0 309.3 L1137.5 303.5 L1139.1 297.7 L1140.7 292.3 L1142.2 287.6 L1143.8 283.8 L1145.3 281.2 L1146.8 280.1 L1148.4 280.4 L1150.0 282.1 L1151.5 285.2 L1153.0 289.4 L1154.6 294.5 L1156.2 300.1 L1157.7 305.9 L1159.2 311.6 L1160.8 317.1 L1162.3 322.0 L1163.9 326.4 L1165.5 330.1 L1167.0 333.1 L1168.5 335.5 L1170.1 337.4 L1171.7 338.8 L1173.2 339.8 L1174.8 340.6 L1176.3 341.1 L1177.8 341.4 L1179.4 341.6 L1181.0 341.8 L1182.5 341.9 L1184.0 341.9 L1185.6 342.0 L1187.2 342.0 L1188.7 342.0 L1190.2 342.0 L1191.8 342.0 L1193.3 342.0 L1194.9 342.0 L1196.5 342.0 L1198.0 342.0" stroke="#999" stroke-width="3.4" fill="none"/><circle cx="1100.6" cy="340.8" r="8.5" fill="#a3dcdc" stroke="#2a9aa0" stroke-width="3"/><circle cx="1117.1" cy="340.8" r="8.5" fill="#66dd70" stroke="#0aa02a" stroke-width="3"/>
<path d="M1284.6 227.0 L1286.3 227.0 L1288.0 227.0 L1289.8 227.0 L1291.5 227.0 L1293.2 227.0 L1294.9 227.0 L1296.6 227.0 L1298.4 227.0 L1300.1 227.0 L1301.8 226.9 L1303.5 226.8 L1305.2 226.7 L1307.0 226.5 L1308.7 226.2 L1310.4 225.7 L1312.1 224.9 L1313.8 223.8 L1315.6 222.1 L1317.3 219.9 L1319.0 217.0 L1320.7 213.3 L1322.4 208.8 L1324.2 203.5 L1325.9 197.5 L1327.6 191.1 L1329.3 184.5 L1331.0 178.2 L1332.8 172.7 L1334.5 168.2 L1336.2 165.2 L1337.9 164.0 L1339.6 164.6 L1341.4 167.1 L1343.1 171.1 L1344.8 176.3 L1346.5 182.4 L1348.2 188.9 L1350.0 195.4 L1351.7 201.6 L1353.4 207.2 L1355.1 211.9 L1356.8 215.9 L1358.6 219.1 L1360.3 221.5 L1362.0 223.3 L1363.7 224.6 L1365.4 225.5 L1367.2 226.0 L1368.9 226.4 L1370.6 226.7 L1372.3 226.8 L1374.0 226.9 L1375.8 226.9 L1377.5 227.0 L1379.2 227.0 L1380.9 227.0 L1382.6 227.0 L1384.4 227.0 L1386.1 227.0 L1387.8 227.0" stroke="#999" stroke-width="3.4" fill="none"/><circle cx="1328.4" cy="185" r="8.5" fill="#a3dcdc" stroke="#2a9aa0" stroke-width="3"/><circle cx="1348.4" cy="185" r="8.5" fill="#66dd70" stroke="#0aa02a" stroke-width="3"/>
<path d="M1584.0 258.0 L1585.6 258.0 L1587.1 258.0 L1588.7 258.0 L1590.2 258.0 L1591.8 258.0 L1593.3 258.0 L1594.9 258.0 L1596.5 257.9 L1598.0 257.9 L1599.6 257.8 L1601.1 257.7 L1602.7 257.6 L1604.3 257.3 L1605.8 256.9 L1607.4 256.3 L1608.9 255.4 L1610.5 254.3 L1612.0 252.6 L1613.6 250.5 L1615.2 247.8 L1616.7 244.5 L1618.3 240.4 L1619.8 235.8 L1621.4 230.5 L1623.0 224.9 L1624.5 219.0 L1626.1 213.2 L1627.6 207.8 L1629.2 203.0 L1630.8 199.3 L1632.3 196.8 L1633.9 195.7 L1635.4 196.2 L1637.0 198.1 L1638.5 201.3 L1640.1 205.7 L1641.7 210.8 L1643.2 216.5 L1644.8 222.4 L1646.3 228.2 L1647.9 233.6 L1649.5 238.5 L1651.0 242.8 L1652.6 246.5 L1654.1 249.4 L1655.7 251.8 L1657.2 253.6 L1658.8 255.0 L1660.4 256.0 L1661.9 256.7 L1663.5 257.1 L1665.0 257.5 L1666.6 257.7 L1668.2 257.8 L1669.7 257.9 L1671.3 257.9 L1672.8 258.0 L1674.4 258.0 L1675.9 258.0 L1677.5 258.0" stroke="#999" stroke-width="3.4" fill="none"/><circle cx="1644" cy="217.6" r="8.5" fill="#a3dcdc" stroke="#2a9aa0" stroke-width="3"/><circle cx="1677.5" cy="258" r="8.5" fill="#66dd70" stroke="#0aa02a" stroke-width="3"/>
</svg></body></html>
